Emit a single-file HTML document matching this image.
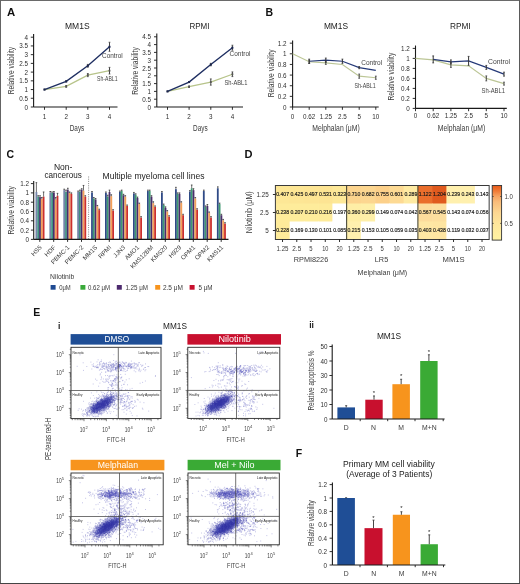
<!DOCTYPE html>
<html><head><meta charset="utf-8"><style>
html,body{margin:0;padding:0;background:#fff;}
#wrap{position:relative;width:520px;height:584px;overflow:hidden;background:#fff;}
svg{position:absolute;left:0;top:0;font-family:"Liberation Sans", sans-serif;will-change:transform;}
</style></head><body><div id="wrap">
<svg width="520" height="584" viewBox="0 0 520 584">
<rect x="0" y="0" width="520" height="584" fill="#fff"/>
<text x="6.90" y="16.00" font-size="10.5" fill="#111" textLength="8.2" lengthAdjust="spacingAndGlyphs" font-weight="bold">A</text>
<text x="265.60" y="16.20" font-size="10.5" fill="#111" font-weight="bold">B</text>
<text x="6.60" y="157.60" font-size="11.2" fill="#111" textLength="7.6" lengthAdjust="spacingAndGlyphs" font-weight="bold">C</text>
<text x="244.60" y="157.60" font-size="10.7" fill="#111" textLength="8.0" lengthAdjust="spacingAndGlyphs" font-weight="bold">D</text>
<text x="33.20" y="315.80" font-size="10.5" fill="#111" font-weight="bold">E</text>
<text x="295.80" y="456.90" font-size="10.5" fill="#111" font-weight="bold">F</text>
<text x="77.30" y="29.20" font-size="8.9" fill="#222" text-anchor="middle" textLength="24.6" lengthAdjust="spacingAndGlyphs">MM1S</text>
<line x1="33.60" y1="34.00" x2="33.60" y2="107.00" stroke="#1a1a1a" stroke-width="1.1"/>
<line x1="30.80" y1="107.00" x2="33.60" y2="107.00" stroke="#1a1a1a" stroke-width="0.9"/>
<text x="28.00" y="109.52" font-size="7.0" fill="#2e2e2e" text-anchor="end" textLength="3.5" lengthAdjust="spacingAndGlyphs">0</text>
<line x1="30.80" y1="98.28" x2="33.60" y2="98.28" stroke="#1a1a1a" stroke-width="0.9"/>
<text x="28.00" y="100.80" font-size="7.0" fill="#2e2e2e" text-anchor="end" textLength="8.76" lengthAdjust="spacingAndGlyphs">0.5</text>
<line x1="30.80" y1="89.55" x2="33.60" y2="89.55" stroke="#1a1a1a" stroke-width="0.9"/>
<text x="28.00" y="92.07" font-size="7.0" fill="#2e2e2e" text-anchor="end" textLength="3.5" lengthAdjust="spacingAndGlyphs">1</text>
<line x1="30.80" y1="80.83" x2="33.60" y2="80.83" stroke="#1a1a1a" stroke-width="0.9"/>
<text x="28.00" y="83.34" font-size="7.0" fill="#2e2e2e" text-anchor="end" textLength="8.76" lengthAdjust="spacingAndGlyphs">1.5</text>
<line x1="30.80" y1="72.10" x2="33.60" y2="72.10" stroke="#1a1a1a" stroke-width="0.9"/>
<text x="28.00" y="74.62" font-size="7.0" fill="#2e2e2e" text-anchor="end" textLength="3.5" lengthAdjust="spacingAndGlyphs">2</text>
<line x1="30.80" y1="63.38" x2="33.60" y2="63.38" stroke="#1a1a1a" stroke-width="0.9"/>
<text x="28.00" y="65.89" font-size="7.0" fill="#2e2e2e" text-anchor="end" textLength="8.76" lengthAdjust="spacingAndGlyphs">2.5</text>
<line x1="30.80" y1="54.65" x2="33.60" y2="54.65" stroke="#1a1a1a" stroke-width="0.9"/>
<text x="28.00" y="57.17" font-size="7.0" fill="#2e2e2e" text-anchor="end" textLength="3.5" lengthAdjust="spacingAndGlyphs">3</text>
<line x1="30.80" y1="45.93" x2="33.60" y2="45.93" stroke="#1a1a1a" stroke-width="0.9"/>
<text x="28.00" y="48.45" font-size="7.0" fill="#2e2e2e" text-anchor="end" textLength="8.76" lengthAdjust="spacingAndGlyphs">3.5</text>
<line x1="30.80" y1="37.20" x2="33.60" y2="37.20" stroke="#1a1a1a" stroke-width="0.9"/>
<text x="28.00" y="39.72" font-size="7.0" fill="#2e2e2e" text-anchor="end" textLength="3.5" lengthAdjust="spacingAndGlyphs">4</text>
<line x1="33.60" y1="107.00" x2="117.50" y2="107.00" stroke="#1a1a1a" stroke-width="1.1"/>
<line x1="44.50" y1="107.00" x2="44.50" y2="109.80" stroke="#1a1a1a" stroke-width="0.9"/>
<text x="44.50" y="118.80" font-size="7.0" fill="#2e2e2e" text-anchor="middle" textLength="3.5" lengthAdjust="spacingAndGlyphs">1</text>
<line x1="66.20" y1="107.00" x2="66.20" y2="109.80" stroke="#1a1a1a" stroke-width="0.9"/>
<text x="66.20" y="118.80" font-size="7.0" fill="#2e2e2e" text-anchor="middle" textLength="3.5" lengthAdjust="spacingAndGlyphs">2</text>
<line x1="87.80" y1="107.00" x2="87.80" y2="109.80" stroke="#1a1a1a" stroke-width="0.9"/>
<text x="87.80" y="118.80" font-size="7.0" fill="#2e2e2e" text-anchor="middle" textLength="3.5" lengthAdjust="spacingAndGlyphs">3</text>
<line x1="109.50" y1="107.00" x2="109.50" y2="109.80" stroke="#1a1a1a" stroke-width="0.9"/>
<text x="109.50" y="118.80" font-size="7.0" fill="#2e2e2e" text-anchor="middle" textLength="3.5" lengthAdjust="spacingAndGlyphs">4</text>
<text x="13.60" y="70.60" font-size="8.4" fill="#3a3a3a" text-anchor="middle" textLength="47.5" lengthAdjust="spacingAndGlyphs" transform="rotate(-90 13.60 70.60)">Relative viability</text>
<text x="77.00" y="131.00" font-size="9.6" fill="#3a3a3a" text-anchor="middle" textLength="14.6" lengthAdjust="spacingAndGlyphs">Days</text>
<polyline points="44.50,89.55 66.20,86.41 87.80,75.07 109.50,70.70" fill="none" stroke="#b7c48a" stroke-width="1.3"/>
<polyline points="44.50,89.55 66.20,81.35 87.80,65.82 109.50,46.80" fill="none" stroke="#1f2f62" stroke-width="1.4"/>
<rect x="43.60" y="88.65" width="1.80" height="1.80" fill="#555"/>
<line x1="66.20" y1="85.54" x2="66.20" y2="87.28" stroke="#444" stroke-width="1.0"/>
<line x1="65.30" y1="85.54" x2="67.10" y2="85.54" stroke="#444" stroke-width="0.8"/>
<line x1="65.30" y1="87.28" x2="67.10" y2="87.28" stroke="#444" stroke-width="0.8"/>
<rect x="65.30" y="85.51" width="1.80" height="1.80" fill="#555"/>
<line x1="87.80" y1="73.50" x2="87.80" y2="76.64" stroke="#444" stroke-width="1.0"/>
<line x1="86.90" y1="73.50" x2="88.70" y2="73.50" stroke="#444" stroke-width="0.8"/>
<line x1="86.90" y1="76.64" x2="88.70" y2="76.64" stroke="#444" stroke-width="0.8"/>
<rect x="86.90" y="74.17" width="1.80" height="1.80" fill="#555"/>
<line x1="109.50" y1="67.39" x2="109.50" y2="74.02" stroke="#444" stroke-width="1.0"/>
<line x1="108.60" y1="67.39" x2="110.40" y2="67.39" stroke="#444" stroke-width="0.8"/>
<line x1="108.60" y1="74.02" x2="110.40" y2="74.02" stroke="#444" stroke-width="0.8"/>
<rect x="108.60" y="69.80" width="1.80" height="1.80" fill="#555"/>
<rect x="43.50" y="88.55" width="2.00" height="2.00" fill="#1a2550"/>
<line x1="66.20" y1="80.65" x2="66.20" y2="82.05" stroke="#444" stroke-width="1.0"/>
<line x1="65.30" y1="80.65" x2="67.10" y2="80.65" stroke="#444" stroke-width="0.8"/>
<line x1="65.30" y1="82.05" x2="67.10" y2="82.05" stroke="#444" stroke-width="0.8"/>
<rect x="65.20" y="80.35" width="2.00" height="2.00" fill="#1a2550"/>
<line x1="87.80" y1="64.42" x2="87.80" y2="67.21" stroke="#444" stroke-width="1.0"/>
<line x1="86.90" y1="64.42" x2="88.70" y2="64.42" stroke="#444" stroke-width="0.8"/>
<line x1="86.90" y1="67.21" x2="88.70" y2="67.21" stroke="#444" stroke-width="0.8"/>
<rect x="86.80" y="64.82" width="2.00" height="2.00" fill="#1a2550"/>
<line x1="109.50" y1="42.26" x2="109.50" y2="51.33" stroke="#444" stroke-width="1.0"/>
<line x1="108.60" y1="42.26" x2="110.40" y2="42.26" stroke="#444" stroke-width="0.8"/>
<line x1="108.60" y1="51.33" x2="110.40" y2="51.33" stroke="#444" stroke-width="0.8"/>
<rect x="108.50" y="45.80" width="2.00" height="2.00" fill="#1a2550"/>
<text x="102.00" y="58.00" font-size="7.0" fill="#444" textLength="20.8" lengthAdjust="spacingAndGlyphs">Control</text>
<text x="97.00" y="80.60" font-size="7.0" fill="#444" textLength="20.5" lengthAdjust="spacingAndGlyphs">Sh-ABL1</text>
<text x="199.50" y="29.20" font-size="8.9" fill="#222" text-anchor="middle" textLength="20.0" lengthAdjust="spacingAndGlyphs">RPMI</text>
<line x1="156.80" y1="33.50" x2="156.80" y2="107.00" stroke="#1a1a1a" stroke-width="1.1"/>
<line x1="154.00" y1="107.00" x2="156.80" y2="107.00" stroke="#1a1a1a" stroke-width="0.9"/>
<text x="151.00" y="109.52" font-size="7.0" fill="#2e2e2e" text-anchor="end" textLength="3.5" lengthAdjust="spacingAndGlyphs">0</text>
<line x1="154.00" y1="99.20" x2="156.80" y2="99.20" stroke="#1a1a1a" stroke-width="0.9"/>
<text x="151.00" y="101.72" font-size="7.0" fill="#2e2e2e" text-anchor="end" textLength="8.76" lengthAdjust="spacingAndGlyphs">0.5</text>
<line x1="154.00" y1="91.40" x2="156.80" y2="91.40" stroke="#1a1a1a" stroke-width="0.9"/>
<text x="151.00" y="93.92" font-size="7.0" fill="#2e2e2e" text-anchor="end" textLength="3.5" lengthAdjust="spacingAndGlyphs">1</text>
<line x1="154.00" y1="83.60" x2="156.80" y2="83.60" stroke="#1a1a1a" stroke-width="0.9"/>
<text x="151.00" y="86.12" font-size="7.0" fill="#2e2e2e" text-anchor="end" textLength="8.76" lengthAdjust="spacingAndGlyphs">1.5</text>
<line x1="154.00" y1="75.80" x2="156.80" y2="75.80" stroke="#1a1a1a" stroke-width="0.9"/>
<text x="151.00" y="78.32" font-size="7.0" fill="#2e2e2e" text-anchor="end" textLength="3.5" lengthAdjust="spacingAndGlyphs">2</text>
<line x1="154.00" y1="68.00" x2="156.80" y2="68.00" stroke="#1a1a1a" stroke-width="0.9"/>
<text x="151.00" y="70.52" font-size="7.0" fill="#2e2e2e" text-anchor="end" textLength="8.76" lengthAdjust="spacingAndGlyphs">2.5</text>
<line x1="154.00" y1="60.20" x2="156.80" y2="60.20" stroke="#1a1a1a" stroke-width="0.9"/>
<text x="151.00" y="62.72" font-size="7.0" fill="#2e2e2e" text-anchor="end" textLength="3.5" lengthAdjust="spacingAndGlyphs">3</text>
<line x1="154.00" y1="52.40" x2="156.80" y2="52.40" stroke="#1a1a1a" stroke-width="0.9"/>
<text x="151.00" y="54.92" font-size="7.0" fill="#2e2e2e" text-anchor="end" textLength="8.76" lengthAdjust="spacingAndGlyphs">3.5</text>
<line x1="154.00" y1="44.60" x2="156.80" y2="44.60" stroke="#1a1a1a" stroke-width="0.9"/>
<text x="151.00" y="47.12" font-size="7.0" fill="#2e2e2e" text-anchor="end" textLength="3.5" lengthAdjust="spacingAndGlyphs">4</text>
<line x1="154.00" y1="36.80" x2="156.80" y2="36.80" stroke="#1a1a1a" stroke-width="0.9"/>
<text x="151.00" y="39.32" font-size="7.0" fill="#2e2e2e" text-anchor="end" textLength="8.76" lengthAdjust="spacingAndGlyphs">4.5</text>
<line x1="156.80" y1="107.00" x2="243.00" y2="107.00" stroke="#1a1a1a" stroke-width="1.1"/>
<line x1="167.50" y1="107.00" x2="167.50" y2="109.80" stroke="#1a1a1a" stroke-width="0.9"/>
<text x="167.50" y="118.80" font-size="7.0" fill="#2e2e2e" text-anchor="middle" textLength="3.5" lengthAdjust="spacingAndGlyphs">1</text>
<line x1="189.10" y1="107.00" x2="189.10" y2="109.80" stroke="#1a1a1a" stroke-width="0.9"/>
<text x="189.10" y="118.80" font-size="7.0" fill="#2e2e2e" text-anchor="middle" textLength="3.5" lengthAdjust="spacingAndGlyphs">2</text>
<line x1="210.80" y1="107.00" x2="210.80" y2="109.80" stroke="#1a1a1a" stroke-width="0.9"/>
<text x="210.80" y="118.80" font-size="7.0" fill="#2e2e2e" text-anchor="middle" textLength="3.5" lengthAdjust="spacingAndGlyphs">3</text>
<line x1="232.40" y1="107.00" x2="232.40" y2="109.80" stroke="#1a1a1a" stroke-width="0.9"/>
<text x="232.40" y="118.80" font-size="7.0" fill="#2e2e2e" text-anchor="middle" textLength="3.5" lengthAdjust="spacingAndGlyphs">4</text>
<text x="137.60" y="71.00" font-size="8.4" fill="#3a3a3a" text-anchor="middle" textLength="47.5" lengthAdjust="spacingAndGlyphs" transform="rotate(-90 137.60 71.00)">Relative viability</text>
<text x="200.30" y="131.00" font-size="9.6" fill="#3a3a3a" text-anchor="middle" textLength="14.6" lengthAdjust="spacingAndGlyphs">Days</text>
<polyline points="167.50,91.40 189.10,86.72 210.80,82.04 232.40,74.24" fill="none" stroke="#b7c48a" stroke-width="1.3"/>
<polyline points="167.50,91.40 189.10,82.04 210.80,64.57 232.40,47.72" fill="none" stroke="#1f2f62" stroke-width="1.4"/>
<rect x="166.60" y="90.50" width="1.80" height="1.80" fill="#555"/>
<line x1="189.10" y1="85.94" x2="189.10" y2="87.50" stroke="#444" stroke-width="1.0"/>
<line x1="188.20" y1="85.94" x2="190.00" y2="85.94" stroke="#444" stroke-width="0.8"/>
<line x1="188.20" y1="87.50" x2="190.00" y2="87.50" stroke="#444" stroke-width="0.8"/>
<rect x="188.20" y="85.82" width="1.80" height="1.80" fill="#555"/>
<line x1="210.80" y1="78.92" x2="210.80" y2="85.16" stroke="#444" stroke-width="1.0"/>
<line x1="209.90" y1="78.92" x2="211.70" y2="78.92" stroke="#444" stroke-width="0.8"/>
<line x1="209.90" y1="85.16" x2="211.70" y2="85.16" stroke="#444" stroke-width="0.8"/>
<rect x="209.90" y="81.14" width="1.80" height="1.80" fill="#555"/>
<line x1="232.40" y1="71.90" x2="232.40" y2="76.58" stroke="#444" stroke-width="1.0"/>
<line x1="231.50" y1="71.90" x2="233.30" y2="71.90" stroke="#444" stroke-width="0.8"/>
<line x1="231.50" y1="76.58" x2="233.30" y2="76.58" stroke="#444" stroke-width="0.8"/>
<rect x="231.50" y="73.34" width="1.80" height="1.80" fill="#555"/>
<rect x="166.50" y="90.40" width="2.00" height="2.00" fill="#1a2550"/>
<line x1="189.10" y1="81.57" x2="189.10" y2="82.51" stroke="#444" stroke-width="1.0"/>
<line x1="188.20" y1="81.57" x2="190.00" y2="81.57" stroke="#444" stroke-width="0.8"/>
<line x1="188.20" y1="82.51" x2="190.00" y2="82.51" stroke="#444" stroke-width="0.8"/>
<rect x="188.10" y="81.04" width="2.00" height="2.00" fill="#1a2550"/>
<line x1="210.80" y1="63.32" x2="210.80" y2="65.82" stroke="#444" stroke-width="1.0"/>
<line x1="209.90" y1="63.32" x2="211.70" y2="63.32" stroke="#444" stroke-width="0.8"/>
<line x1="209.90" y1="65.82" x2="211.70" y2="65.82" stroke="#444" stroke-width="0.8"/>
<rect x="209.80" y="63.57" width="2.00" height="2.00" fill="#1a2550"/>
<line x1="232.40" y1="45.22" x2="232.40" y2="50.22" stroke="#444" stroke-width="1.0"/>
<line x1="231.50" y1="45.22" x2="233.30" y2="45.22" stroke="#444" stroke-width="0.8"/>
<line x1="231.50" y1="50.22" x2="233.30" y2="50.22" stroke="#444" stroke-width="0.8"/>
<rect x="231.40" y="46.72" width="2.00" height="2.00" fill="#1a2550"/>
<text x="229.50" y="56.20" font-size="7.0" fill="#444" textLength="21.0" lengthAdjust="spacingAndGlyphs">Control</text>
<text x="224.50" y="84.60" font-size="7.0" fill="#444" textLength="23.0" lengthAdjust="spacingAndGlyphs">Sh-ABL1</text>
<text x="336.00" y="29.20" font-size="8.9" fill="#222" text-anchor="middle" textLength="24.2" lengthAdjust="spacingAndGlyphs">MM1S</text>
<line x1="292.60" y1="40.40" x2="292.60" y2="107.00" stroke="#1a1a1a" stroke-width="1.1"/>
<line x1="289.80" y1="107.00" x2="292.60" y2="107.00" stroke="#1a1a1a" stroke-width="0.9"/>
<text x="286.40" y="109.52" font-size="7.0" fill="#2e2e2e" text-anchor="end" textLength="3.5" lengthAdjust="spacingAndGlyphs">0</text>
<line x1="289.80" y1="96.36" x2="292.60" y2="96.36" stroke="#1a1a1a" stroke-width="0.9"/>
<text x="286.40" y="98.88" font-size="7.0" fill="#2e2e2e" text-anchor="end" textLength="8.76" lengthAdjust="spacingAndGlyphs">0.2</text>
<line x1="289.80" y1="85.72" x2="292.60" y2="85.72" stroke="#1a1a1a" stroke-width="0.9"/>
<text x="286.40" y="88.24" font-size="7.0" fill="#2e2e2e" text-anchor="end" textLength="8.76" lengthAdjust="spacingAndGlyphs">0.4</text>
<line x1="289.80" y1="75.08" x2="292.60" y2="75.08" stroke="#1a1a1a" stroke-width="0.9"/>
<text x="286.40" y="77.60" font-size="7.0" fill="#2e2e2e" text-anchor="end" textLength="8.76" lengthAdjust="spacingAndGlyphs">0.6</text>
<line x1="289.80" y1="64.44" x2="292.60" y2="64.44" stroke="#1a1a1a" stroke-width="0.9"/>
<text x="286.40" y="66.96" font-size="7.0" fill="#2e2e2e" text-anchor="end" textLength="8.76" lengthAdjust="spacingAndGlyphs">0.8</text>
<line x1="289.80" y1="53.80" x2="292.60" y2="53.80" stroke="#1a1a1a" stroke-width="0.9"/>
<text x="286.40" y="56.32" font-size="7.0" fill="#2e2e2e" text-anchor="end" textLength="3.5" lengthAdjust="spacingAndGlyphs">1</text>
<line x1="289.80" y1="43.16" x2="292.60" y2="43.16" stroke="#1a1a1a" stroke-width="0.9"/>
<text x="286.40" y="45.68" font-size="7.0" fill="#2e2e2e" text-anchor="end" textLength="8.76" lengthAdjust="spacingAndGlyphs">1.2</text>
<line x1="292.60" y1="107.00" x2="378.70" y2="107.00" stroke="#1a1a1a" stroke-width="1.1"/>
<line x1="292.60" y1="107.00" x2="292.60" y2="109.80" stroke="#1a1a1a" stroke-width="0.9"/>
<text x="292.60" y="119.20" font-size="7.0" fill="#2e2e2e" text-anchor="middle" textLength="3.5" lengthAdjust="spacingAndGlyphs">0</text>
<line x1="309.20" y1="107.00" x2="309.20" y2="109.80" stroke="#1a1a1a" stroke-width="0.9"/>
<text x="309.20" y="119.20" font-size="7.0" fill="#2e2e2e" text-anchor="middle" textLength="12.26" lengthAdjust="spacingAndGlyphs">0.62</text>
<line x1="325.80" y1="107.00" x2="325.80" y2="109.80" stroke="#1a1a1a" stroke-width="0.9"/>
<text x="325.80" y="119.20" font-size="7.0" fill="#2e2e2e" text-anchor="middle" textLength="12.26" lengthAdjust="spacingAndGlyphs">1.25</text>
<line x1="342.40" y1="107.00" x2="342.40" y2="109.80" stroke="#1a1a1a" stroke-width="0.9"/>
<text x="342.40" y="119.20" font-size="7.0" fill="#2e2e2e" text-anchor="middle" textLength="8.76" lengthAdjust="spacingAndGlyphs">2.5</text>
<line x1="359.20" y1="107.00" x2="359.20" y2="109.80" stroke="#1a1a1a" stroke-width="0.9"/>
<text x="359.20" y="119.20" font-size="7.0" fill="#2e2e2e" text-anchor="middle" textLength="3.5" lengthAdjust="spacingAndGlyphs">5</text>
<line x1="375.80" y1="107.00" x2="375.80" y2="109.80" stroke="#1a1a1a" stroke-width="0.9"/>
<text x="375.80" y="119.20" font-size="7.0" fill="#2e2e2e" text-anchor="middle" textLength="7.01" lengthAdjust="spacingAndGlyphs">10</text>
<text x="273.60" y="73.40" font-size="8.4" fill="#3a3a3a" text-anchor="middle" textLength="47.8" lengthAdjust="spacingAndGlyphs" transform="rotate(-90 273.60 73.40)">Relative viability</text>
<text x="336.00" y="131.00" font-size="9.0" fill="#3a3a3a" text-anchor="middle" textLength="47.5" lengthAdjust="spacingAndGlyphs">Melphalan (μM)</text>
<polyline points="292.60,53.80 309.20,61.78 325.80,62.84 342.40,64.44 359.20,76.14 375.80,77.74" fill="none" stroke="#bcc696" stroke-width="1.15"/>
<polyline points="309.20,61.25 325.80,60.18 342.40,61.25 359.20,67.63 375.80,70.29" fill="none" stroke="#263a78" stroke-width="1.25"/>
<line x1="309.20" y1="60.18" x2="309.20" y2="63.38" stroke="#444" stroke-width="1.0"/>
<line x1="308.30" y1="60.18" x2="310.10" y2="60.18" stroke="#444" stroke-width="0.8"/>
<line x1="308.30" y1="63.38" x2="310.10" y2="63.38" stroke="#444" stroke-width="0.8"/>
<line x1="325.80" y1="61.25" x2="325.80" y2="64.44" stroke="#444" stroke-width="1.0"/>
<line x1="324.90" y1="61.25" x2="326.70" y2="61.25" stroke="#444" stroke-width="0.8"/>
<line x1="324.90" y1="64.44" x2="326.70" y2="64.44" stroke="#444" stroke-width="0.8"/>
<line x1="359.20" y1="74.02" x2="359.20" y2="78.27" stroke="#444" stroke-width="1.0"/>
<line x1="358.30" y1="74.02" x2="360.10" y2="74.02" stroke="#444" stroke-width="0.8"/>
<line x1="358.30" y1="78.27" x2="360.10" y2="78.27" stroke="#444" stroke-width="0.8"/>
<line x1="375.80" y1="76.14" x2="375.80" y2="79.34" stroke="#444" stroke-width="1.0"/>
<line x1="374.90" y1="76.14" x2="376.70" y2="76.14" stroke="#444" stroke-width="0.8"/>
<line x1="374.90" y1="79.34" x2="376.70" y2="79.34" stroke="#444" stroke-width="0.8"/>
<line x1="309.20" y1="59.12" x2="309.20" y2="63.38" stroke="#333" stroke-width="1.0"/>
<line x1="308.30" y1="59.12" x2="310.10" y2="59.12" stroke="#333" stroke-width="0.8"/>
<line x1="308.30" y1="63.38" x2="310.10" y2="63.38" stroke="#333" stroke-width="0.8"/>
<line x1="325.80" y1="58.06" x2="325.80" y2="62.31" stroke="#333" stroke-width="1.0"/>
<line x1="324.90" y1="58.06" x2="326.70" y2="58.06" stroke="#333" stroke-width="0.8"/>
<line x1="324.90" y1="62.31" x2="326.70" y2="62.31" stroke="#333" stroke-width="0.8"/>
<line x1="342.40" y1="59.12" x2="342.40" y2="63.38" stroke="#333" stroke-width="1.0"/>
<line x1="341.50" y1="59.12" x2="343.30" y2="59.12" stroke="#333" stroke-width="0.8"/>
<line x1="341.50" y1="63.38" x2="343.30" y2="63.38" stroke="#333" stroke-width="0.8"/>
<line x1="359.20" y1="66.57" x2="359.20" y2="68.70" stroke="#333" stroke-width="1.0"/>
<line x1="358.30" y1="66.57" x2="360.10" y2="66.57" stroke="#333" stroke-width="0.8"/>
<line x1="358.30" y1="68.70" x2="360.10" y2="68.70" stroke="#333" stroke-width="0.8"/>
<text x="361.20" y="64.60" font-size="7.0" fill="#444" textLength="21.0" lengthAdjust="spacingAndGlyphs">Control</text>
<text x="354.40" y="88.20" font-size="7.0" fill="#444" textLength="21.2" lengthAdjust="spacingAndGlyphs">Sh-ABL1</text>
<text x="460.30" y="29.20" font-size="8.9" fill="#222" text-anchor="middle" textLength="20.7" lengthAdjust="spacingAndGlyphs">RPMI</text>
<line x1="415.50" y1="45.50" x2="415.50" y2="108.40" stroke="#1a1a1a" stroke-width="1.1"/>
<line x1="412.70" y1="108.40" x2="415.50" y2="108.40" stroke="#1a1a1a" stroke-width="0.9"/>
<text x="409.80" y="110.92" font-size="7.0" fill="#2e2e2e" text-anchor="end" textLength="3.5" lengthAdjust="spacingAndGlyphs">0</text>
<line x1="412.70" y1="98.40" x2="415.50" y2="98.40" stroke="#1a1a1a" stroke-width="0.9"/>
<text x="409.80" y="100.92" font-size="7.0" fill="#2e2e2e" text-anchor="end" textLength="8.76" lengthAdjust="spacingAndGlyphs">0.2</text>
<line x1="412.70" y1="88.40" x2="415.50" y2="88.40" stroke="#1a1a1a" stroke-width="0.9"/>
<text x="409.80" y="90.92" font-size="7.0" fill="#2e2e2e" text-anchor="end" textLength="8.76" lengthAdjust="spacingAndGlyphs">0.4</text>
<line x1="412.70" y1="78.40" x2="415.50" y2="78.40" stroke="#1a1a1a" stroke-width="0.9"/>
<text x="409.80" y="80.92" font-size="7.0" fill="#2e2e2e" text-anchor="end" textLength="8.76" lengthAdjust="spacingAndGlyphs">0.6</text>
<line x1="412.70" y1="68.40" x2="415.50" y2="68.40" stroke="#1a1a1a" stroke-width="0.9"/>
<text x="409.80" y="70.92" font-size="7.0" fill="#2e2e2e" text-anchor="end" textLength="8.76" lengthAdjust="spacingAndGlyphs">0.8</text>
<line x1="412.70" y1="58.40" x2="415.50" y2="58.40" stroke="#1a1a1a" stroke-width="0.9"/>
<text x="409.80" y="60.92" font-size="7.0" fill="#2e2e2e" text-anchor="end" textLength="3.5" lengthAdjust="spacingAndGlyphs">1</text>
<line x1="412.70" y1="48.40" x2="415.50" y2="48.40" stroke="#1a1a1a" stroke-width="0.9"/>
<text x="409.80" y="50.92" font-size="7.0" fill="#2e2e2e" text-anchor="end" textLength="8.76" lengthAdjust="spacingAndGlyphs">1.2</text>
<line x1="415.50" y1="108.40" x2="506.80" y2="108.40" stroke="#1a1a1a" stroke-width="1.1"/>
<line x1="415.50" y1="108.40" x2="415.50" y2="111.20" stroke="#1a1a1a" stroke-width="0.9"/>
<text x="415.50" y="118.40" font-size="7.0" fill="#2e2e2e" text-anchor="middle" textLength="3.5" lengthAdjust="spacingAndGlyphs">0</text>
<line x1="433.20" y1="108.40" x2="433.20" y2="111.20" stroke="#1a1a1a" stroke-width="0.9"/>
<text x="433.20" y="118.40" font-size="7.0" fill="#2e2e2e" text-anchor="middle" textLength="12.26" lengthAdjust="spacingAndGlyphs">0.62</text>
<line x1="450.90" y1="108.40" x2="450.90" y2="111.20" stroke="#1a1a1a" stroke-width="0.9"/>
<text x="450.90" y="118.40" font-size="7.0" fill="#2e2e2e" text-anchor="middle" textLength="12.26" lengthAdjust="spacingAndGlyphs">1.25</text>
<line x1="468.60" y1="108.40" x2="468.60" y2="111.20" stroke="#1a1a1a" stroke-width="0.9"/>
<text x="468.60" y="118.40" font-size="7.0" fill="#2e2e2e" text-anchor="middle" textLength="8.76" lengthAdjust="spacingAndGlyphs">2.5</text>
<line x1="486.30" y1="108.40" x2="486.30" y2="111.20" stroke="#1a1a1a" stroke-width="0.9"/>
<text x="486.30" y="118.40" font-size="7.0" fill="#2e2e2e" text-anchor="middle" textLength="3.5" lengthAdjust="spacingAndGlyphs">5</text>
<line x1="504.00" y1="108.40" x2="504.00" y2="111.20" stroke="#1a1a1a" stroke-width="0.9"/>
<text x="504.00" y="118.40" font-size="7.0" fill="#2e2e2e" text-anchor="middle" textLength="7.01" lengthAdjust="spacingAndGlyphs">10</text>
<text x="394.40" y="76.60" font-size="8.4" fill="#3a3a3a" text-anchor="middle" textLength="47.8" lengthAdjust="spacingAndGlyphs" transform="rotate(-90 394.40 76.60)">Relative viability</text>
<text x="461.50" y="131.00" font-size="9.0" fill="#3a3a3a" text-anchor="middle" textLength="47.5" lengthAdjust="spacingAndGlyphs">Melphalan (μM)</text>
<polyline points="415.50,58.40 433.20,59.90 450.90,64.90 468.60,65.90 486.30,78.40 504.00,83.65" fill="none" stroke="#bcc696" stroke-width="1.15"/>
<polyline points="433.20,59.40 450.90,61.90 468.60,60.90 486.30,67.40 504.00,74.15" fill="none" stroke="#263a78" stroke-width="1.25"/>
<line x1="450.90" y1="62.40" x2="450.90" y2="67.40" stroke="#444" stroke-width="1.0"/>
<line x1="450.00" y1="62.40" x2="451.80" y2="62.40" stroke="#444" stroke-width="0.8"/>
<line x1="450.00" y1="67.40" x2="451.80" y2="67.40" stroke="#444" stroke-width="0.8"/>
<line x1="486.30" y1="75.90" x2="486.30" y2="80.90" stroke="#444" stroke-width="1.0"/>
<line x1="485.40" y1="75.90" x2="487.20" y2="75.90" stroke="#444" stroke-width="0.8"/>
<line x1="485.40" y1="80.90" x2="487.20" y2="80.90" stroke="#444" stroke-width="0.8"/>
<line x1="504.00" y1="82.15" x2="504.00" y2="85.15" stroke="#444" stroke-width="1.0"/>
<line x1="503.10" y1="82.15" x2="504.90" y2="82.15" stroke="#444" stroke-width="0.8"/>
<line x1="503.10" y1="85.15" x2="504.90" y2="85.15" stroke="#444" stroke-width="0.8"/>
<line x1="433.20" y1="55.90" x2="433.20" y2="62.90" stroke="#333" stroke-width="1.0"/>
<line x1="432.30" y1="55.90" x2="434.10" y2="55.90" stroke="#333" stroke-width="0.8"/>
<line x1="432.30" y1="62.90" x2="434.10" y2="62.90" stroke="#333" stroke-width="0.8"/>
<line x1="450.90" y1="59.90" x2="450.90" y2="63.90" stroke="#333" stroke-width="1.0"/>
<line x1="450.00" y1="59.90" x2="451.80" y2="59.90" stroke="#333" stroke-width="0.8"/>
<line x1="450.00" y1="63.90" x2="451.80" y2="63.90" stroke="#333" stroke-width="0.8"/>
<line x1="468.60" y1="56.40" x2="468.60" y2="65.40" stroke="#333" stroke-width="1.0"/>
<line x1="467.70" y1="56.40" x2="469.50" y2="56.40" stroke="#333" stroke-width="0.8"/>
<line x1="467.70" y1="65.40" x2="469.50" y2="65.40" stroke="#333" stroke-width="0.8"/>
<line x1="486.30" y1="65.40" x2="486.30" y2="69.40" stroke="#333" stroke-width="1.0"/>
<line x1="485.40" y1="65.40" x2="487.20" y2="65.40" stroke="#333" stroke-width="0.8"/>
<line x1="485.40" y1="69.40" x2="487.20" y2="69.40" stroke="#333" stroke-width="0.8"/>
<line x1="504.00" y1="72.15" x2="504.00" y2="76.15" stroke="#333" stroke-width="1.0"/>
<line x1="503.10" y1="72.15" x2="504.90" y2="72.15" stroke="#333" stroke-width="0.8"/>
<line x1="503.10" y1="76.15" x2="504.90" y2="76.15" stroke="#333" stroke-width="0.8"/>
<text x="488.00" y="64.20" font-size="7.0" fill="#444" textLength="22.0" lengthAdjust="spacingAndGlyphs">Control</text>
<text x="481.50" y="92.80" font-size="7.0" fill="#444" textLength="23.5" lengthAdjust="spacingAndGlyphs">Sh-ABL1</text>
<rect x="35.50" y="191.97" width="1.80" height="47.43" fill="#7585aa"/>
<rect x="37.30" y="196.62" width="1.80" height="42.78" fill="#3f8f80"/>
<rect x="39.10" y="197.09" width="1.80" height="42.31" fill="#4a2d6a"/>
<rect x="40.90" y="198.94" width="1.80" height="40.46" fill="#f4a15a"/>
<rect x="42.70" y="196.62" width="1.80" height="42.78" fill="#cc2f2c"/>
<line x1="36.40" y1="182.67" x2="36.40" y2="191.97" stroke="#333" stroke-width="0.7"/>
<line x1="35.60" y1="182.67" x2="37.20" y2="182.67" stroke="#333" stroke-width="0.8"/>
<line x1="38.20" y1="195.69" x2="38.20" y2="196.62" stroke="#333" stroke-width="0.7"/>
<line x1="37.40" y1="195.69" x2="39.00" y2="195.69" stroke="#333" stroke-width="0.8"/>
<line x1="40.00" y1="195.69" x2="40.00" y2="197.09" stroke="#333" stroke-width="0.7"/>
<line x1="39.20" y1="195.69" x2="40.80" y2="195.69" stroke="#333" stroke-width="0.8"/>
<line x1="41.80" y1="197.55" x2="41.80" y2="198.94" stroke="#333" stroke-width="0.7"/>
<line x1="41.00" y1="197.55" x2="42.60" y2="197.55" stroke="#333" stroke-width="0.8"/>
<line x1="43.60" y1="191.97" x2="43.60" y2="196.62" stroke="#333" stroke-width="0.7"/>
<line x1="42.80" y1="191.97" x2="44.40" y2="191.97" stroke="#333" stroke-width="0.8"/>
<rect x="49.40" y="192.44" width="1.80" height="46.97" fill="#7585aa"/>
<rect x="51.20" y="192.90" width="1.80" height="46.50" fill="#3f8f80"/>
<rect x="53.00" y="192.44" width="1.80" height="46.97" fill="#4a2d6a"/>
<rect x="54.80" y="199.41" width="1.80" height="39.99" fill="#f4a15a"/>
<rect x="56.60" y="195.69" width="1.80" height="43.71" fill="#cc2f2c"/>
<line x1="50.30" y1="191.50" x2="50.30" y2="192.44" stroke="#333" stroke-width="0.7"/>
<line x1="49.50" y1="191.50" x2="51.10" y2="191.50" stroke="#333" stroke-width="0.8"/>
<line x1="52.10" y1="191.97" x2="52.10" y2="192.90" stroke="#333" stroke-width="0.7"/>
<line x1="51.30" y1="191.97" x2="52.90" y2="191.97" stroke="#333" stroke-width="0.8"/>
<line x1="53.90" y1="191.50" x2="53.90" y2="192.44" stroke="#333" stroke-width="0.7"/>
<line x1="53.10" y1="191.50" x2="54.70" y2="191.50" stroke="#333" stroke-width="0.8"/>
<line x1="55.70" y1="197.55" x2="55.70" y2="199.41" stroke="#333" stroke-width="0.7"/>
<line x1="54.90" y1="197.55" x2="56.50" y2="197.55" stroke="#333" stroke-width="0.8"/>
<line x1="57.50" y1="193.37" x2="57.50" y2="195.69" stroke="#333" stroke-width="0.7"/>
<line x1="56.70" y1="193.37" x2="58.30" y2="193.37" stroke="#333" stroke-width="0.8"/>
<rect x="63.30" y="190.11" width="1.80" height="49.29" fill="#7585aa"/>
<rect x="65.10" y="191.97" width="1.80" height="47.43" fill="#3f8f80"/>
<rect x="66.90" y="189.65" width="1.80" height="49.75" fill="#4a2d6a"/>
<rect x="68.70" y="192.90" width="1.80" height="46.50" fill="#f4a15a"/>
<rect x="70.50" y="193.83" width="1.80" height="45.57" fill="#cc2f2c"/>
<line x1="64.20" y1="189.18" x2="64.20" y2="190.11" stroke="#333" stroke-width="0.7"/>
<line x1="63.40" y1="189.18" x2="65.00" y2="189.18" stroke="#333" stroke-width="0.8"/>
<line x1="66.00" y1="190.11" x2="66.00" y2="191.97" stroke="#333" stroke-width="0.7"/>
<line x1="65.20" y1="190.11" x2="66.80" y2="190.11" stroke="#333" stroke-width="0.8"/>
<line x1="67.80" y1="188.25" x2="67.80" y2="189.65" stroke="#333" stroke-width="0.7"/>
<line x1="67.00" y1="188.25" x2="68.60" y2="188.25" stroke="#333" stroke-width="0.8"/>
<line x1="69.60" y1="191.97" x2="69.60" y2="192.90" stroke="#333" stroke-width="0.7"/>
<line x1="68.80" y1="191.97" x2="70.40" y2="191.97" stroke="#333" stroke-width="0.8"/>
<line x1="71.40" y1="192.90" x2="71.40" y2="193.83" stroke="#333" stroke-width="0.7"/>
<line x1="70.60" y1="192.90" x2="72.20" y2="192.90" stroke="#333" stroke-width="0.8"/>
<rect x="77.20" y="191.97" width="1.80" height="47.43" fill="#7585aa"/>
<rect x="79.00" y="191.50" width="1.80" height="47.90" fill="#3f8f80"/>
<rect x="80.80" y="189.65" width="1.80" height="49.75" fill="#4a2d6a"/>
<rect x="82.60" y="190.57" width="1.80" height="48.83" fill="#f4a15a"/>
<rect x="84.40" y="196.62" width="1.80" height="42.78" fill="#cc2f2c"/>
<line x1="78.10" y1="191.04" x2="78.10" y2="191.97" stroke="#333" stroke-width="0.7"/>
<line x1="77.30" y1="191.04" x2="78.90" y2="191.04" stroke="#333" stroke-width="0.8"/>
<line x1="79.90" y1="190.11" x2="79.90" y2="191.50" stroke="#333" stroke-width="0.7"/>
<line x1="79.10" y1="190.11" x2="80.70" y2="190.11" stroke="#333" stroke-width="0.8"/>
<line x1="81.70" y1="188.72" x2="81.70" y2="189.65" stroke="#333" stroke-width="0.7"/>
<line x1="80.90" y1="188.72" x2="82.50" y2="188.72" stroke="#333" stroke-width="0.8"/>
<line x1="83.50" y1="185.46" x2="83.50" y2="190.57" stroke="#333" stroke-width="0.7"/>
<line x1="82.70" y1="185.46" x2="84.30" y2="185.46" stroke="#333" stroke-width="0.8"/>
<line x1="85.30" y1="195.69" x2="85.30" y2="196.62" stroke="#333" stroke-width="0.7"/>
<line x1="84.50" y1="195.69" x2="86.10" y2="195.69" stroke="#333" stroke-width="0.8"/>
<rect x="91.10" y="192.44" width="1.80" height="46.97" fill="#2f4a86"/>
<rect x="92.90" y="198.48" width="1.80" height="40.92" fill="#3e9a72"/>
<rect x="94.70" y="199.41" width="1.80" height="39.99" fill="#4a2d6a"/>
<rect x="96.50" y="206.38" width="1.80" height="33.02" fill="#f4a15a"/>
<rect x="98.30" y="210.11" width="1.80" height="29.29" fill="#cc2f2c"/>
<line x1="92.00" y1="191.50" x2="92.00" y2="192.44" stroke="#333" stroke-width="0.7"/>
<line x1="91.20" y1="191.50" x2="92.80" y2="191.50" stroke="#333" stroke-width="0.8"/>
<line x1="93.80" y1="197.55" x2="93.80" y2="198.48" stroke="#333" stroke-width="0.7"/>
<line x1="93.00" y1="197.55" x2="94.60" y2="197.55" stroke="#333" stroke-width="0.8"/>
<line x1="95.60" y1="198.48" x2="95.60" y2="199.41" stroke="#333" stroke-width="0.7"/>
<line x1="94.80" y1="198.48" x2="96.40" y2="198.48" stroke="#333" stroke-width="0.8"/>
<line x1="97.40" y1="205.45" x2="97.40" y2="206.38" stroke="#333" stroke-width="0.7"/>
<line x1="96.60" y1="205.45" x2="98.20" y2="205.45" stroke="#333" stroke-width="0.8"/>
<line x1="99.20" y1="209.18" x2="99.20" y2="210.11" stroke="#333" stroke-width="0.7"/>
<line x1="98.40" y1="209.18" x2="100.00" y2="209.18" stroke="#333" stroke-width="0.8"/>
<rect x="105.00" y="192.90" width="1.80" height="46.50" fill="#2f4a86"/>
<rect x="106.80" y="196.62" width="1.80" height="42.78" fill="#3e9a72"/>
<rect x="108.60" y="191.97" width="1.80" height="47.43" fill="#4a2d6a"/>
<rect x="110.40" y="196.16" width="1.80" height="43.25" fill="#f4a15a"/>
<rect x="112.20" y="210.57" width="1.80" height="28.83" fill="#cc2f2c"/>
<line x1="105.90" y1="191.97" x2="105.90" y2="192.90" stroke="#333" stroke-width="0.7"/>
<line x1="105.10" y1="191.97" x2="106.70" y2="191.97" stroke="#333" stroke-width="0.8"/>
<line x1="107.70" y1="195.22" x2="107.70" y2="196.62" stroke="#333" stroke-width="0.7"/>
<line x1="106.90" y1="195.22" x2="108.50" y2="195.22" stroke="#333" stroke-width="0.8"/>
<line x1="109.50" y1="190.11" x2="109.50" y2="191.97" stroke="#333" stroke-width="0.7"/>
<line x1="108.70" y1="190.11" x2="110.30" y2="190.11" stroke="#333" stroke-width="0.8"/>
<line x1="111.30" y1="194.76" x2="111.30" y2="196.16" stroke="#333" stroke-width="0.7"/>
<line x1="110.50" y1="194.76" x2="112.10" y2="194.76" stroke="#333" stroke-width="0.8"/>
<line x1="113.10" y1="209.64" x2="113.10" y2="210.57" stroke="#333" stroke-width="0.7"/>
<line x1="112.30" y1="209.64" x2="113.90" y2="209.64" stroke="#333" stroke-width="0.8"/>
<rect x="119.00" y="191.97" width="1.80" height="47.43" fill="#2f4a86"/>
<rect x="120.80" y="191.04" width="1.80" height="48.36" fill="#3e9a72"/>
<rect x="122.60" y="195.23" width="1.80" height="44.17" fill="#4a2d6a"/>
<rect x="124.40" y="196.62" width="1.80" height="42.78" fill="#f4a15a"/>
<rect x="126.20" y="205.92" width="1.80" height="33.48" fill="#cc2f2c"/>
<line x1="119.90" y1="191.04" x2="119.90" y2="191.97" stroke="#333" stroke-width="0.7"/>
<line x1="119.10" y1="191.04" x2="120.70" y2="191.04" stroke="#333" stroke-width="0.8"/>
<line x1="121.70" y1="190.11" x2="121.70" y2="191.04" stroke="#333" stroke-width="0.7"/>
<line x1="120.90" y1="190.11" x2="122.50" y2="190.11" stroke="#333" stroke-width="0.8"/>
<line x1="123.50" y1="194.30" x2="123.50" y2="195.23" stroke="#333" stroke-width="0.7"/>
<line x1="122.70" y1="194.30" x2="124.30" y2="194.30" stroke="#333" stroke-width="0.8"/>
<line x1="125.30" y1="195.69" x2="125.30" y2="196.62" stroke="#333" stroke-width="0.7"/>
<line x1="124.50" y1="195.69" x2="126.10" y2="195.69" stroke="#333" stroke-width="0.8"/>
<line x1="127.10" y1="204.99" x2="127.10" y2="205.92" stroke="#333" stroke-width="0.7"/>
<line x1="126.30" y1="204.99" x2="127.90" y2="204.99" stroke="#333" stroke-width="0.8"/>
<rect x="133.00" y="193.37" width="1.80" height="46.03" fill="#2f4a86"/>
<rect x="134.80" y="194.76" width="1.80" height="44.64" fill="#3e9a72"/>
<rect x="136.60" y="198.02" width="1.80" height="41.38" fill="#4a2d6a"/>
<rect x="138.40" y="204.06" width="1.80" height="35.34" fill="#f4a15a"/>
<rect x="140.20" y="217.55" width="1.80" height="21.85" fill="#cc2f2c"/>
<line x1="133.90" y1="192.44" x2="133.90" y2="193.37" stroke="#333" stroke-width="0.7"/>
<line x1="133.10" y1="192.44" x2="134.70" y2="192.44" stroke="#333" stroke-width="0.8"/>
<line x1="135.70" y1="193.83" x2="135.70" y2="194.76" stroke="#333" stroke-width="0.7"/>
<line x1="134.90" y1="193.83" x2="136.50" y2="193.83" stroke="#333" stroke-width="0.8"/>
<line x1="137.50" y1="197.09" x2="137.50" y2="198.02" stroke="#333" stroke-width="0.7"/>
<line x1="136.70" y1="197.09" x2="138.30" y2="197.09" stroke="#333" stroke-width="0.8"/>
<line x1="139.30" y1="203.13" x2="139.30" y2="204.06" stroke="#333" stroke-width="0.7"/>
<line x1="138.50" y1="203.13" x2="140.10" y2="203.13" stroke="#333" stroke-width="0.8"/>
<line x1="141.10" y1="216.62" x2="141.10" y2="217.55" stroke="#333" stroke-width="0.7"/>
<line x1="140.30" y1="216.62" x2="141.90" y2="216.62" stroke="#333" stroke-width="0.8"/>
<rect x="147.00" y="191.04" width="1.80" height="48.36" fill="#2f4a86"/>
<rect x="148.80" y="191.04" width="1.80" height="48.36" fill="#3e9a72"/>
<rect x="150.60" y="196.62" width="1.80" height="42.78" fill="#4a2d6a"/>
<rect x="152.40" y="203.13" width="1.80" height="36.27" fill="#f4a15a"/>
<rect x="154.20" y="206.85" width="1.80" height="32.55" fill="#cc2f2c"/>
<line x1="147.90" y1="190.11" x2="147.90" y2="191.04" stroke="#333" stroke-width="0.7"/>
<line x1="147.10" y1="190.11" x2="148.70" y2="190.11" stroke="#333" stroke-width="0.8"/>
<line x1="149.70" y1="190.11" x2="149.70" y2="191.04" stroke="#333" stroke-width="0.7"/>
<line x1="148.90" y1="190.11" x2="150.50" y2="190.11" stroke="#333" stroke-width="0.8"/>
<line x1="151.50" y1="195.69" x2="151.50" y2="196.62" stroke="#333" stroke-width="0.7"/>
<line x1="150.70" y1="195.69" x2="152.30" y2="195.69" stroke="#333" stroke-width="0.8"/>
<line x1="153.30" y1="201.73" x2="153.30" y2="203.13" stroke="#333" stroke-width="0.7"/>
<line x1="152.50" y1="201.73" x2="154.10" y2="201.73" stroke="#333" stroke-width="0.8"/>
<line x1="155.10" y1="205.92" x2="155.10" y2="206.85" stroke="#333" stroke-width="0.7"/>
<line x1="154.30" y1="205.92" x2="155.90" y2="205.92" stroke="#333" stroke-width="0.8"/>
<rect x="161.00" y="192.44" width="1.80" height="46.97" fill="#2f4a86"/>
<rect x="162.80" y="204.99" width="1.80" height="34.41" fill="#3e9a72"/>
<rect x="164.60" y="207.78" width="1.80" height="31.62" fill="#4a2d6a"/>
<rect x="166.40" y="211.50" width="1.80" height="27.90" fill="#f4a15a"/>
<rect x="168.20" y="216.62" width="1.80" height="22.78" fill="#cc2f2c"/>
<line x1="161.90" y1="191.50" x2="161.90" y2="192.44" stroke="#333" stroke-width="0.7"/>
<line x1="161.10" y1="191.50" x2="162.70" y2="191.50" stroke="#333" stroke-width="0.8"/>
<line x1="163.70" y1="204.06" x2="163.70" y2="204.99" stroke="#333" stroke-width="0.7"/>
<line x1="162.90" y1="204.06" x2="164.50" y2="204.06" stroke="#333" stroke-width="0.8"/>
<line x1="165.50" y1="206.85" x2="165.50" y2="207.78" stroke="#333" stroke-width="0.7"/>
<line x1="164.70" y1="206.85" x2="166.30" y2="206.85" stroke="#333" stroke-width="0.8"/>
<line x1="167.30" y1="210.57" x2="167.30" y2="211.50" stroke="#333" stroke-width="0.7"/>
<line x1="166.50" y1="210.57" x2="168.10" y2="210.57" stroke="#333" stroke-width="0.8"/>
<line x1="169.10" y1="215.69" x2="169.10" y2="216.62" stroke="#333" stroke-width="0.7"/>
<line x1="168.30" y1="215.69" x2="169.90" y2="215.69" stroke="#333" stroke-width="0.8"/>
<rect x="175.00" y="189.18" width="1.80" height="50.22" fill="#2f4a86"/>
<rect x="176.80" y="193.83" width="1.80" height="45.57" fill="#3e9a72"/>
<rect x="178.60" y="193.83" width="1.80" height="45.57" fill="#4a2d6a"/>
<rect x="180.40" y="202.67" width="1.80" height="36.73" fill="#f4a15a"/>
<rect x="182.20" y="215.22" width="1.80" height="24.18" fill="#cc2f2c"/>
<line x1="175.90" y1="187.32" x2="175.90" y2="189.18" stroke="#333" stroke-width="0.7"/>
<line x1="175.10" y1="187.32" x2="176.70" y2="187.32" stroke="#333" stroke-width="0.8"/>
<line x1="177.70" y1="192.90" x2="177.70" y2="193.83" stroke="#333" stroke-width="0.7"/>
<line x1="176.90" y1="192.90" x2="178.50" y2="192.90" stroke="#333" stroke-width="0.8"/>
<line x1="179.50" y1="192.90" x2="179.50" y2="193.83" stroke="#333" stroke-width="0.7"/>
<line x1="178.70" y1="192.90" x2="180.30" y2="192.90" stroke="#333" stroke-width="0.8"/>
<line x1="181.30" y1="201.74" x2="181.30" y2="202.67" stroke="#333" stroke-width="0.7"/>
<line x1="180.50" y1="201.74" x2="182.10" y2="201.74" stroke="#333" stroke-width="0.8"/>
<line x1="183.10" y1="214.29" x2="183.10" y2="215.22" stroke="#333" stroke-width="0.7"/>
<line x1="182.30" y1="214.29" x2="183.90" y2="214.29" stroke="#333" stroke-width="0.8"/>
<rect x="189.00" y="191.50" width="1.80" height="47.90" fill="#2f4a86"/>
<rect x="190.80" y="188.25" width="1.80" height="51.15" fill="#3e9a72"/>
<rect x="192.60" y="190.11" width="1.80" height="49.29" fill="#4a2d6a"/>
<rect x="194.40" y="198.48" width="1.80" height="40.92" fill="#f4a15a"/>
<rect x="196.20" y="209.64" width="1.80" height="29.76" fill="#cc2f2c"/>
<line x1="189.90" y1="190.57" x2="189.90" y2="191.50" stroke="#333" stroke-width="0.7"/>
<line x1="189.10" y1="190.57" x2="190.70" y2="190.57" stroke="#333" stroke-width="0.8"/>
<line x1="191.70" y1="185.00" x2="191.70" y2="188.25" stroke="#333" stroke-width="0.7"/>
<line x1="190.90" y1="185.00" x2="192.50" y2="185.00" stroke="#333" stroke-width="0.8"/>
<line x1="193.50" y1="188.72" x2="193.50" y2="190.11" stroke="#333" stroke-width="0.7"/>
<line x1="192.70" y1="188.72" x2="194.30" y2="188.72" stroke="#333" stroke-width="0.8"/>
<line x1="195.30" y1="197.55" x2="195.30" y2="198.48" stroke="#333" stroke-width="0.7"/>
<line x1="194.50" y1="197.55" x2="196.10" y2="197.55" stroke="#333" stroke-width="0.8"/>
<line x1="197.10" y1="208.71" x2="197.10" y2="209.64" stroke="#333" stroke-width="0.7"/>
<line x1="196.30" y1="208.71" x2="197.90" y2="208.71" stroke="#333" stroke-width="0.8"/>
<rect x="202.90" y="191.04" width="1.80" height="48.36" fill="#2f4a86"/>
<rect x="204.70" y="206.85" width="1.80" height="32.55" fill="#3e9a72"/>
<rect x="206.50" y="205.92" width="1.80" height="33.48" fill="#4a2d6a"/>
<rect x="208.30" y="212.90" width="1.80" height="26.50" fill="#f4a15a"/>
<rect x="210.10" y="217.55" width="1.80" height="21.85" fill="#cc2f2c"/>
<line x1="203.80" y1="190.11" x2="203.80" y2="191.04" stroke="#333" stroke-width="0.7"/>
<line x1="203.00" y1="190.11" x2="204.60" y2="190.11" stroke="#333" stroke-width="0.8"/>
<line x1="205.60" y1="205.92" x2="205.60" y2="206.85" stroke="#333" stroke-width="0.7"/>
<line x1="204.80" y1="205.92" x2="206.40" y2="205.92" stroke="#333" stroke-width="0.8"/>
<line x1="207.40" y1="204.53" x2="207.40" y2="205.92" stroke="#333" stroke-width="0.7"/>
<line x1="206.60" y1="204.53" x2="208.20" y2="204.53" stroke="#333" stroke-width="0.8"/>
<line x1="209.20" y1="211.97" x2="209.20" y2="212.90" stroke="#333" stroke-width="0.7"/>
<line x1="208.40" y1="211.97" x2="210.00" y2="211.97" stroke="#333" stroke-width="0.8"/>
<line x1="211.00" y1="216.62" x2="211.00" y2="217.55" stroke="#333" stroke-width="0.7"/>
<line x1="210.20" y1="216.62" x2="211.80" y2="216.62" stroke="#333" stroke-width="0.8"/>
<rect x="216.90" y="188.25" width="1.80" height="51.15" fill="#2f4a86"/>
<rect x="218.70" y="204.06" width="1.80" height="35.34" fill="#3e9a72"/>
<rect x="220.50" y="215.22" width="1.80" height="24.18" fill="#4a2d6a"/>
<rect x="222.30" y="220.34" width="1.80" height="19.06" fill="#f4a15a"/>
<rect x="224.10" y="223.59" width="1.80" height="15.81" fill="#cc2f2c"/>
<line x1="217.80" y1="186.85" x2="217.80" y2="188.25" stroke="#333" stroke-width="0.7"/>
<line x1="217.00" y1="186.85" x2="218.60" y2="186.85" stroke="#333" stroke-width="0.8"/>
<line x1="219.60" y1="203.13" x2="219.60" y2="204.06" stroke="#333" stroke-width="0.7"/>
<line x1="218.80" y1="203.13" x2="220.40" y2="203.13" stroke="#333" stroke-width="0.8"/>
<line x1="221.40" y1="214.29" x2="221.40" y2="215.22" stroke="#333" stroke-width="0.7"/>
<line x1="220.60" y1="214.29" x2="222.20" y2="214.29" stroke="#333" stroke-width="0.8"/>
<line x1="223.20" y1="219.41" x2="223.20" y2="220.34" stroke="#333" stroke-width="0.7"/>
<line x1="222.40" y1="219.41" x2="224.00" y2="219.41" stroke="#333" stroke-width="0.8"/>
<line x1="225.00" y1="222.66" x2="225.00" y2="223.59" stroke="#333" stroke-width="0.7"/>
<line x1="224.20" y1="222.66" x2="225.80" y2="222.66" stroke="#333" stroke-width="0.8"/>
<line x1="33.70" y1="181.00" x2="33.70" y2="239.40" stroke="#1a1a1a" stroke-width="1.1"/>
<line x1="30.90" y1="239.40" x2="33.70" y2="239.40" stroke="#1a1a1a" stroke-width="0.9"/>
<text x="28.90" y="241.92" font-size="7.0" fill="#2e2e2e" text-anchor="end" textLength="3.5" lengthAdjust="spacingAndGlyphs">0</text>
<line x1="30.90" y1="230.10" x2="33.70" y2="230.10" stroke="#1a1a1a" stroke-width="0.9"/>
<text x="28.90" y="232.62" font-size="7.0" fill="#2e2e2e" text-anchor="end" textLength="8.76" lengthAdjust="spacingAndGlyphs">0.2</text>
<line x1="30.90" y1="220.80" x2="33.70" y2="220.80" stroke="#1a1a1a" stroke-width="0.9"/>
<text x="28.90" y="223.32" font-size="7.0" fill="#2e2e2e" text-anchor="end" textLength="8.76" lengthAdjust="spacingAndGlyphs">0.4</text>
<line x1="30.90" y1="211.50" x2="33.70" y2="211.50" stroke="#1a1a1a" stroke-width="0.9"/>
<text x="28.90" y="214.02" font-size="7.0" fill="#2e2e2e" text-anchor="end" textLength="8.76" lengthAdjust="spacingAndGlyphs">0.6</text>
<line x1="30.90" y1="202.20" x2="33.70" y2="202.20" stroke="#1a1a1a" stroke-width="0.9"/>
<text x="28.90" y="204.72" font-size="7.0" fill="#2e2e2e" text-anchor="end" textLength="8.76" lengthAdjust="spacingAndGlyphs">0.8</text>
<line x1="30.90" y1="192.90" x2="33.70" y2="192.90" stroke="#1a1a1a" stroke-width="0.9"/>
<text x="28.90" y="195.42" font-size="7.0" fill="#2e2e2e" text-anchor="end" textLength="3.5" lengthAdjust="spacingAndGlyphs">1</text>
<line x1="30.90" y1="183.60" x2="33.70" y2="183.60" stroke="#1a1a1a" stroke-width="0.9"/>
<text x="28.90" y="186.12" font-size="7.0" fill="#2e2e2e" text-anchor="end" textLength="8.76" lengthAdjust="spacingAndGlyphs">1.2</text>
<line x1="33.70" y1="239.40" x2="228.50" y2="239.40" stroke="#1a1a1a" stroke-width="1.1"/>
<line x1="39.80" y1="239.40" x2="39.80" y2="241.90" stroke="#1a1a1a" stroke-width="0.9"/>
<line x1="53.70" y1="239.40" x2="53.70" y2="241.90" stroke="#1a1a1a" stroke-width="0.9"/>
<line x1="67.60" y1="239.40" x2="67.60" y2="241.90" stroke="#1a1a1a" stroke-width="0.9"/>
<line x1="81.50" y1="239.40" x2="81.50" y2="241.90" stroke="#1a1a1a" stroke-width="0.9"/>
<line x1="95.40" y1="239.40" x2="95.40" y2="241.90" stroke="#1a1a1a" stroke-width="0.9"/>
<line x1="109.30" y1="239.40" x2="109.30" y2="241.90" stroke="#1a1a1a" stroke-width="0.9"/>
<line x1="123.30" y1="239.40" x2="123.30" y2="241.90" stroke="#1a1a1a" stroke-width="0.9"/>
<line x1="137.30" y1="239.40" x2="137.30" y2="241.90" stroke="#1a1a1a" stroke-width="0.9"/>
<line x1="151.30" y1="239.40" x2="151.30" y2="241.90" stroke="#1a1a1a" stroke-width="0.9"/>
<line x1="165.30" y1="239.40" x2="165.30" y2="241.90" stroke="#1a1a1a" stroke-width="0.9"/>
<line x1="179.30" y1="239.40" x2="179.30" y2="241.90" stroke="#1a1a1a" stroke-width="0.9"/>
<line x1="193.30" y1="239.40" x2="193.30" y2="241.90" stroke="#1a1a1a" stroke-width="0.9"/>
<line x1="207.20" y1="239.40" x2="207.20" y2="241.90" stroke="#1a1a1a" stroke-width="0.9"/>
<line x1="221.20" y1="239.40" x2="221.20" y2="241.90" stroke="#1a1a1a" stroke-width="0.9"/>
<text x="42.20" y="247.90" font-size="6.2" fill="#3a3a3a" text-anchor="end" transform="rotate(-45 42.20 247.90)">HS5</text>
<text x="56.10" y="247.90" font-size="6.2" fill="#3a3a3a" text-anchor="end" transform="rotate(-45 56.10 247.90)">HDF</text>
<text x="70.00" y="247.90" font-size="6.2" fill="#3a3a3a" text-anchor="end" transform="rotate(-45 70.00 247.90)">PBMC-1</text>
<text x="83.90" y="247.90" font-size="6.2" fill="#3a3a3a" text-anchor="end" transform="rotate(-45 83.90 247.90)">PBMC-2</text>
<text x="97.80" y="247.90" font-size="6.2" fill="#3a3a3a" text-anchor="end" transform="rotate(-45 97.80 247.90)">MM1S</text>
<text x="111.70" y="247.90" font-size="6.2" fill="#3a3a3a" text-anchor="end" transform="rotate(-45 111.70 247.90)">RPMI</text>
<text x="125.70" y="247.90" font-size="6.2" fill="#3a3a3a" text-anchor="end" transform="rotate(-45 125.70 247.90)">JJN3</text>
<text x="139.70" y="247.90" font-size="6.2" fill="#3a3a3a" text-anchor="end" transform="rotate(-45 139.70 247.90)">AMO1</text>
<text x="153.70" y="247.90" font-size="6.2" fill="#3a3a3a" text-anchor="end" transform="rotate(-45 153.70 247.90)">KMS12BM</text>
<text x="167.70" y="247.90" font-size="6.2" fill="#3a3a3a" text-anchor="end" transform="rotate(-45 167.70 247.90)">KMS20</text>
<text x="181.70" y="247.90" font-size="6.2" fill="#3a3a3a" text-anchor="end" transform="rotate(-45 181.70 247.90)">H929</text>
<text x="195.70" y="247.90" font-size="6.2" fill="#3a3a3a" text-anchor="end" transform="rotate(-45 195.70 247.90)">OPM1</text>
<text x="209.60" y="247.90" font-size="6.2" fill="#3a3a3a" text-anchor="end" transform="rotate(-45 209.60 247.90)">OPM2</text>
<text x="223.60" y="247.90" font-size="6.2" fill="#3a3a3a" text-anchor="end" transform="rotate(-45 223.60 247.90)">KMS11</text>
<text x="13.60" y="210.30" font-size="8.2" fill="#3a3a3a" text-anchor="middle" textLength="48.5" lengthAdjust="spacingAndGlyphs" transform="rotate(-90 13.60 210.30)">Relative viability</text>
<line x1="88.60" y1="176.50" x2="88.60" y2="240.00" stroke="#555" stroke-width="0.7" stroke-dasharray="1,1.2"/>
<text x="63.20" y="170.20" font-size="8.8" fill="#222" text-anchor="middle" textLength="18.5" lengthAdjust="spacingAndGlyphs">Non-</text>
<text x="63.20" y="178.40" font-size="8.8" fill="#222" text-anchor="middle" textLength="37.5" lengthAdjust="spacingAndGlyphs">cancerous</text>
<text x="153.50" y="178.60" font-size="8.8" fill="#222" text-anchor="middle" textLength="102.0" lengthAdjust="spacingAndGlyphs">Multiple myeloma cell lines</text>
<text x="50.00" y="279.40" font-size="6.6" fill="#3a3a3a" textLength="24.2" lengthAdjust="spacingAndGlyphs">Nilotinib</text>
<rect x="50.60" y="285.00" width="5.00" height="4.70" fill="#1f4a92"/>
<text x="59.20" y="289.70" font-size="6.6" fill="#3a3a3a" textLength="11.6" lengthAdjust="spacingAndGlyphs">0μM</text>
<rect x="80.40" y="285.00" width="5.00" height="4.70" fill="#3aaa3a"/>
<text x="88.00" y="289.70" font-size="6.6" fill="#3a3a3a" textLength="22.0" lengthAdjust="spacingAndGlyphs">0.62 μM</text>
<rect x="116.80" y="285.00" width="5.00" height="4.70" fill="#4d2a6e"/>
<text x="125.40" y="289.70" font-size="6.6" fill="#3a3a3a" textLength="22.6" lengthAdjust="spacingAndGlyphs">1.25 μM</text>
<rect x="155.20" y="285.00" width="5.00" height="4.70" fill="#f7941d"/>
<text x="162.90" y="289.70" font-size="6.6" fill="#3a3a3a" textLength="20.1" lengthAdjust="spacingAndGlyphs">2.5 μM</text>
<rect x="189.60" y="285.00" width="5.00" height="4.70" fill="#c8102e"/>
<text x="198.50" y="289.70" font-size="6.6" fill="#3a3a3a" textLength="14.1" lengthAdjust="spacingAndGlyphs">5 μM</text>
<rect x="275.40" y="185.50" width="14.85" height="18.60" fill="#fde796"/>
<rect x="289.65" y="185.50" width="14.85" height="18.60" fill="#fde695"/>
<rect x="303.90" y="185.50" width="14.85" height="18.60" fill="#fde594"/>
<rect x="318.15" y="185.50" width="14.85" height="18.60" fill="#fde493"/>
<rect x="332.40" y="185.50" width="14.85" height="18.60" fill="#fde898"/>
<rect x="346.65" y="185.50" width="14.85" height="18.60" fill="#fcd48e"/>
<rect x="360.90" y="185.50" width="14.85" height="18.60" fill="#fcd690"/>
<rect x="375.15" y="185.50" width="14.85" height="18.60" fill="#fcd08a"/>
<rect x="389.40" y="185.50" width="14.85" height="18.60" fill="#fdda94"/>
<rect x="403.65" y="185.50" width="14.85" height="18.60" fill="#feeaa2"/>
<rect x="417.90" y="185.50" width="14.85" height="18.60" fill="#ea6e2c"/>
<rect x="432.15" y="185.50" width="14.85" height="18.60" fill="#e05a1e"/>
<rect x="446.40" y="185.50" width="14.85" height="18.60" fill="#fff0ae"/>
<rect x="460.65" y="185.50" width="14.85" height="18.60" fill="#fff0ae"/>
<rect x="474.90" y="185.50" width="14.25" height="18.60" fill="#ffffff"/>
<rect x="275.40" y="203.50" width="14.85" height="18.60" fill="#feeb9a"/>
<rect x="289.65" y="203.50" width="14.85" height="18.60" fill="#feec9b"/>
<rect x="303.90" y="203.50" width="14.85" height="18.60" fill="#feec9b"/>
<rect x="318.15" y="203.50" width="14.85" height="18.60" fill="#feeb9a"/>
<rect x="332.40" y="203.50" width="14.85" height="18.60" fill="#ffffff"/>
<rect x="346.65" y="203.50" width="14.85" height="18.60" fill="#feeea6"/>
<rect x="360.90" y="203.50" width="14.85" height="18.60" fill="#feefa8"/>
<rect x="375.15" y="203.50" width="14.85" height="18.60" fill="#ffffff"/>
<rect x="389.40" y="203.50" width="14.85" height="18.60" fill="#ffffff"/>
<rect x="403.65" y="203.50" width="14.85" height="18.60" fill="#ffffff"/>
<rect x="417.90" y="203.50" width="14.85" height="18.60" fill="#fddc9c"/>
<rect x="432.15" y="203.50" width="14.85" height="18.60" fill="#fdde9e"/>
<rect x="446.40" y="203.50" width="14.85" height="18.60" fill="#ffffff"/>
<rect x="460.65" y="203.50" width="14.85" height="18.60" fill="#ffffff"/>
<rect x="474.90" y="203.50" width="14.25" height="18.60" fill="#ffffff"/>
<rect x="275.40" y="221.50" width="14.85" height="18.00" fill="#feeb9a"/>
<rect x="289.65" y="221.50" width="14.85" height="18.00" fill="#ffffff"/>
<rect x="303.90" y="221.50" width="14.85" height="18.00" fill="#ffffff"/>
<rect x="318.15" y="221.50" width="14.85" height="18.00" fill="#ffffff"/>
<rect x="332.40" y="221.50" width="14.85" height="18.00" fill="#ffffff"/>
<rect x="346.65" y="221.50" width="14.85" height="18.00" fill="#fff0ae"/>
<rect x="360.90" y="221.50" width="14.85" height="18.00" fill="#ffffff"/>
<rect x="375.15" y="221.50" width="14.85" height="18.00" fill="#ffffff"/>
<rect x="389.40" y="221.50" width="14.85" height="18.00" fill="#ffffff"/>
<rect x="403.65" y="221.50" width="14.85" height="18.00" fill="#ffffff"/>
<rect x="417.90" y="221.50" width="14.85" height="18.00" fill="#fee7a4"/>
<rect x="432.15" y="221.50" width="14.85" height="18.00" fill="#fee5a2"/>
<rect x="446.40" y="221.50" width="14.85" height="18.00" fill="#ffffff"/>
<rect x="460.65" y="221.50" width="14.85" height="18.00" fill="#ffffff"/>
<rect x="474.90" y="221.50" width="14.25" height="18.00" fill="#ffffff"/>
<text x="282.62" y="196.10" font-size="6.0" fill="#1a1a1a" text-anchor="middle" textLength="12.9" lengthAdjust="spacingAndGlyphs" stroke="#1a1a1a" stroke-width="0.18">0.407</text>
<text x="296.88" y="196.10" font-size="6.0" fill="#1a1a1a" text-anchor="middle" textLength="12.9" lengthAdjust="spacingAndGlyphs" stroke="#1a1a1a" stroke-width="0.18">0.425</text>
<text x="311.12" y="196.10" font-size="6.0" fill="#1a1a1a" text-anchor="middle" textLength="12.9" lengthAdjust="spacingAndGlyphs" stroke="#1a1a1a" stroke-width="0.18">0.497</text>
<text x="325.38" y="196.10" font-size="6.0" fill="#1a1a1a" text-anchor="middle" textLength="12.9" lengthAdjust="spacingAndGlyphs" stroke="#1a1a1a" stroke-width="0.18">0.531</text>
<text x="339.62" y="196.10" font-size="6.0" fill="#1a1a1a" text-anchor="middle" textLength="12.9" lengthAdjust="spacingAndGlyphs" stroke="#1a1a1a" stroke-width="0.18">0.323</text>
<text x="353.88" y="196.10" font-size="6.0" fill="#1a1a1a" text-anchor="middle" textLength="12.9" lengthAdjust="spacingAndGlyphs" stroke="#1a1a1a" stroke-width="0.18">0.710</text>
<text x="368.12" y="196.10" font-size="6.0" fill="#1a1a1a" text-anchor="middle" textLength="12.9" lengthAdjust="spacingAndGlyphs" stroke="#1a1a1a" stroke-width="0.18">0.682</text>
<text x="382.38" y="196.10" font-size="6.0" fill="#1a1a1a" text-anchor="middle" textLength="12.9" lengthAdjust="spacingAndGlyphs" stroke="#1a1a1a" stroke-width="0.18">0.755</text>
<text x="396.62" y="196.10" font-size="6.0" fill="#1a1a1a" text-anchor="middle" textLength="12.9" lengthAdjust="spacingAndGlyphs" stroke="#1a1a1a" stroke-width="0.18">0.601</text>
<text x="410.88" y="196.10" font-size="6.0" fill="#1a1a1a" text-anchor="middle" textLength="12.9" lengthAdjust="spacingAndGlyphs" stroke="#1a1a1a" stroke-width="0.18">0.289</text>
<text x="425.12" y="196.10" font-size="6.0" fill="#1a1a1a" text-anchor="middle" textLength="12.9" lengthAdjust="spacingAndGlyphs" stroke="#1a1a1a" stroke-width="0.18">1.122</text>
<text x="439.38" y="196.10" font-size="6.0" fill="#1a1a1a" text-anchor="middle" textLength="12.9" lengthAdjust="spacingAndGlyphs" stroke="#1a1a1a" stroke-width="0.18">1.204</text>
<text x="453.62" y="196.10" font-size="6.0" fill="#1a1a1a" text-anchor="middle" textLength="12.9" lengthAdjust="spacingAndGlyphs" stroke="#1a1a1a" stroke-width="0.18">0.239</text>
<text x="467.88" y="196.10" font-size="6.0" fill="#1a1a1a" text-anchor="middle" textLength="12.9" lengthAdjust="spacingAndGlyphs" stroke="#1a1a1a" stroke-width="0.18">0.243</text>
<text x="482.12" y="196.10" font-size="6.0" fill="#1a1a1a" text-anchor="middle" textLength="12.9" lengthAdjust="spacingAndGlyphs" stroke="#1a1a1a" stroke-width="0.18">0.143</text>
<text x="282.62" y="214.10" font-size="6.0" fill="#1a1a1a" text-anchor="middle" textLength="12.9" lengthAdjust="spacingAndGlyphs" stroke="#1a1a1a" stroke-width="0.18">0.238</text>
<text x="296.88" y="214.10" font-size="6.0" fill="#1a1a1a" text-anchor="middle" textLength="12.9" lengthAdjust="spacingAndGlyphs" stroke="#1a1a1a" stroke-width="0.18">0.207</text>
<text x="311.12" y="214.10" font-size="6.0" fill="#1a1a1a" text-anchor="middle" textLength="12.9" lengthAdjust="spacingAndGlyphs" stroke="#1a1a1a" stroke-width="0.18">0.210</text>
<text x="325.38" y="214.10" font-size="6.0" fill="#1a1a1a" text-anchor="middle" textLength="12.9" lengthAdjust="spacingAndGlyphs" stroke="#1a1a1a" stroke-width="0.18">0.216</text>
<text x="339.62" y="214.10" font-size="6.0" fill="#1a1a1a" text-anchor="middle" textLength="12.9" lengthAdjust="spacingAndGlyphs" stroke="#1a1a1a" stroke-width="0.18">0.197</text>
<text x="353.88" y="214.10" font-size="6.0" fill="#1a1a1a" text-anchor="middle" textLength="12.9" lengthAdjust="spacingAndGlyphs" stroke="#1a1a1a" stroke-width="0.18">0.360</text>
<text x="368.12" y="214.10" font-size="6.0" fill="#1a1a1a" text-anchor="middle" textLength="12.9" lengthAdjust="spacingAndGlyphs" stroke="#1a1a1a" stroke-width="0.18">0.299</text>
<text x="382.38" y="214.10" font-size="6.0" fill="#1a1a1a" text-anchor="middle" textLength="12.9" lengthAdjust="spacingAndGlyphs" stroke="#1a1a1a" stroke-width="0.18">0.149</text>
<text x="396.62" y="214.10" font-size="6.0" fill="#1a1a1a" text-anchor="middle" textLength="12.9" lengthAdjust="spacingAndGlyphs" stroke="#1a1a1a" stroke-width="0.18">0.074</text>
<text x="410.88" y="214.10" font-size="6.0" fill="#1a1a1a" text-anchor="middle" textLength="12.9" lengthAdjust="spacingAndGlyphs" stroke="#1a1a1a" stroke-width="0.18">0.042</text>
<text x="425.12" y="214.10" font-size="6.0" fill="#1a1a1a" text-anchor="middle" textLength="12.9" lengthAdjust="spacingAndGlyphs" stroke="#1a1a1a" stroke-width="0.18">0.567</text>
<text x="439.38" y="214.10" font-size="6.0" fill="#1a1a1a" text-anchor="middle" textLength="12.9" lengthAdjust="spacingAndGlyphs" stroke="#1a1a1a" stroke-width="0.18">0.545</text>
<text x="453.62" y="214.10" font-size="6.0" fill="#1a1a1a" text-anchor="middle" textLength="12.9" lengthAdjust="spacingAndGlyphs" stroke="#1a1a1a" stroke-width="0.18">0.143</text>
<text x="467.88" y="214.10" font-size="6.0" fill="#1a1a1a" text-anchor="middle" textLength="12.9" lengthAdjust="spacingAndGlyphs" stroke="#1a1a1a" stroke-width="0.18">0.074</text>
<text x="482.12" y="214.10" font-size="6.0" fill="#1a1a1a" text-anchor="middle" textLength="12.9" lengthAdjust="spacingAndGlyphs" stroke="#1a1a1a" stroke-width="0.18">0.056</text>
<text x="282.62" y="232.10" font-size="6.0" fill="#1a1a1a" text-anchor="middle" textLength="12.9" lengthAdjust="spacingAndGlyphs" stroke="#1a1a1a" stroke-width="0.18">0.228</text>
<text x="296.88" y="232.10" font-size="6.0" fill="#1a1a1a" text-anchor="middle" textLength="12.9" lengthAdjust="spacingAndGlyphs" stroke="#1a1a1a" stroke-width="0.18">0.169</text>
<text x="311.12" y="232.10" font-size="6.0" fill="#1a1a1a" text-anchor="middle" textLength="12.9" lengthAdjust="spacingAndGlyphs" stroke="#1a1a1a" stroke-width="0.18">0.130</text>
<text x="325.38" y="232.10" font-size="6.0" fill="#1a1a1a" text-anchor="middle" textLength="12.9" lengthAdjust="spacingAndGlyphs" stroke="#1a1a1a" stroke-width="0.18">0.101</text>
<text x="339.62" y="232.10" font-size="6.0" fill="#1a1a1a" text-anchor="middle" textLength="12.9" lengthAdjust="spacingAndGlyphs" stroke="#1a1a1a" stroke-width="0.18">0.085</text>
<text x="353.88" y="232.10" font-size="6.0" fill="#1a1a1a" text-anchor="middle" textLength="12.9" lengthAdjust="spacingAndGlyphs" stroke="#1a1a1a" stroke-width="0.18">0.215</text>
<text x="368.12" y="232.10" font-size="6.0" fill="#1a1a1a" text-anchor="middle" textLength="12.9" lengthAdjust="spacingAndGlyphs" stroke="#1a1a1a" stroke-width="0.18">0.153</text>
<text x="382.38" y="232.10" font-size="6.0" fill="#1a1a1a" text-anchor="middle" textLength="12.9" lengthAdjust="spacingAndGlyphs" stroke="#1a1a1a" stroke-width="0.18">0.105</text>
<text x="396.62" y="232.10" font-size="6.0" fill="#1a1a1a" text-anchor="middle" textLength="12.9" lengthAdjust="spacingAndGlyphs" stroke="#1a1a1a" stroke-width="0.18">0.059</text>
<text x="410.88" y="232.10" font-size="6.0" fill="#1a1a1a" text-anchor="middle" textLength="12.9" lengthAdjust="spacingAndGlyphs" stroke="#1a1a1a" stroke-width="0.18">0.035</text>
<text x="425.12" y="232.10" font-size="6.0" fill="#1a1a1a" text-anchor="middle" textLength="12.9" lengthAdjust="spacingAndGlyphs" stroke="#1a1a1a" stroke-width="0.18">0.403</text>
<text x="439.38" y="232.10" font-size="6.0" fill="#1a1a1a" text-anchor="middle" textLength="12.9" lengthAdjust="spacingAndGlyphs" stroke="#1a1a1a" stroke-width="0.18">0.438</text>
<text x="453.62" y="232.10" font-size="6.0" fill="#1a1a1a" text-anchor="middle" textLength="12.9" lengthAdjust="spacingAndGlyphs" stroke="#1a1a1a" stroke-width="0.18">0.119</text>
<text x="467.88" y="232.10" font-size="6.0" fill="#1a1a1a" text-anchor="middle" textLength="12.9" lengthAdjust="spacingAndGlyphs" stroke="#1a1a1a" stroke-width="0.18">0.032</text>
<text x="482.12" y="232.10" font-size="6.0" fill="#1a1a1a" text-anchor="middle" textLength="12.9" lengthAdjust="spacingAndGlyphs" stroke="#1a1a1a" stroke-width="0.18">0.037</text>
<rect x="275.40" y="185.50" width="213.75" height="54.00" fill="none" stroke="#3a3a3a" stroke-width="1"/>
<line x1="346.65" y1="185.50" x2="346.65" y2="239.50" stroke="#3a3a2a" stroke-width="1"/>
<line x1="417.90" y1="185.50" x2="417.90" y2="239.50" stroke="#3a3a2a" stroke-width="1"/>
<line x1="272.90" y1="194.50" x2="275.40" y2="194.50" stroke="#1a1a1a" stroke-width="0.9"/>
<text x="268.80" y="197.00" font-size="7.0" fill="#2e2e2e" text-anchor="end" textLength="12.26" lengthAdjust="spacingAndGlyphs">1.25</text>
<line x1="272.90" y1="212.50" x2="275.40" y2="212.50" stroke="#1a1a1a" stroke-width="0.9"/>
<text x="268.80" y="215.00" font-size="7.0" fill="#2e2e2e" text-anchor="end" textLength="8.76" lengthAdjust="spacingAndGlyphs">2.5</text>
<line x1="272.90" y1="230.50" x2="275.40" y2="230.50" stroke="#1a1a1a" stroke-width="0.9"/>
<text x="268.80" y="233.00" font-size="7.0" fill="#2e2e2e" text-anchor="end" textLength="3.5" lengthAdjust="spacingAndGlyphs">5</text>
<line x1="282.52" y1="239.50" x2="282.52" y2="242.00" stroke="#1a1a1a" stroke-width="0.9"/>
<text x="282.52" y="251.40" font-size="6.6" fill="#3a3a3a" text-anchor="middle" textLength="12.0" lengthAdjust="spacingAndGlyphs">1.25</text>
<line x1="296.77" y1="239.50" x2="296.77" y2="242.00" stroke="#1a1a1a" stroke-width="0.9"/>
<text x="296.77" y="251.40" font-size="6.6" fill="#3a3a3a" text-anchor="middle" textLength="8.9" lengthAdjust="spacingAndGlyphs">2.5</text>
<line x1="311.02" y1="239.50" x2="311.02" y2="242.00" stroke="#1a1a1a" stroke-width="0.9"/>
<text x="311.02" y="251.40" font-size="6.6" fill="#3a3a3a" text-anchor="middle" textLength="3.3" lengthAdjust="spacingAndGlyphs">5</text>
<line x1="325.27" y1="239.50" x2="325.27" y2="242.00" stroke="#1a1a1a" stroke-width="0.9"/>
<text x="325.27" y="251.40" font-size="6.6" fill="#3a3a3a" text-anchor="middle" textLength="6.2" lengthAdjust="spacingAndGlyphs">10</text>
<line x1="339.52" y1="239.50" x2="339.52" y2="242.00" stroke="#1a1a1a" stroke-width="0.9"/>
<text x="339.52" y="251.40" font-size="6.6" fill="#3a3a3a" text-anchor="middle" textLength="6.2" lengthAdjust="spacingAndGlyphs">20</text>
<line x1="353.77" y1="239.50" x2="353.77" y2="242.00" stroke="#1a1a1a" stroke-width="0.9"/>
<text x="353.77" y="251.40" font-size="6.6" fill="#3a3a3a" text-anchor="middle" textLength="12.0" lengthAdjust="spacingAndGlyphs">1.25</text>
<line x1="368.02" y1="239.50" x2="368.02" y2="242.00" stroke="#1a1a1a" stroke-width="0.9"/>
<text x="368.02" y="251.40" font-size="6.6" fill="#3a3a3a" text-anchor="middle" textLength="8.9" lengthAdjust="spacingAndGlyphs">2.5</text>
<line x1="382.27" y1="239.50" x2="382.27" y2="242.00" stroke="#1a1a1a" stroke-width="0.9"/>
<text x="382.27" y="251.40" font-size="6.6" fill="#3a3a3a" text-anchor="middle" textLength="3.3" lengthAdjust="spacingAndGlyphs">5</text>
<line x1="396.52" y1="239.50" x2="396.52" y2="242.00" stroke="#1a1a1a" stroke-width="0.9"/>
<text x="396.52" y="251.40" font-size="6.6" fill="#3a3a3a" text-anchor="middle" textLength="6.2" lengthAdjust="spacingAndGlyphs">10</text>
<line x1="410.77" y1="239.50" x2="410.77" y2="242.00" stroke="#1a1a1a" stroke-width="0.9"/>
<text x="410.77" y="251.40" font-size="6.6" fill="#3a3a3a" text-anchor="middle" textLength="6.2" lengthAdjust="spacingAndGlyphs">20</text>
<line x1="425.02" y1="239.50" x2="425.02" y2="242.00" stroke="#1a1a1a" stroke-width="0.9"/>
<text x="425.02" y="251.40" font-size="6.6" fill="#3a3a3a" text-anchor="middle" textLength="12.0" lengthAdjust="spacingAndGlyphs">1.25</text>
<line x1="439.27" y1="239.50" x2="439.27" y2="242.00" stroke="#1a1a1a" stroke-width="0.9"/>
<text x="439.27" y="251.40" font-size="6.6" fill="#3a3a3a" text-anchor="middle" textLength="8.9" lengthAdjust="spacingAndGlyphs">2.5</text>
<line x1="453.52" y1="239.50" x2="453.52" y2="242.00" stroke="#1a1a1a" stroke-width="0.9"/>
<text x="453.52" y="251.40" font-size="6.6" fill="#3a3a3a" text-anchor="middle" textLength="3.3" lengthAdjust="spacingAndGlyphs">5</text>
<line x1="467.77" y1="239.50" x2="467.77" y2="242.00" stroke="#1a1a1a" stroke-width="0.9"/>
<text x="467.77" y="251.40" font-size="6.6" fill="#3a3a3a" text-anchor="middle" textLength="6.2" lengthAdjust="spacingAndGlyphs">10</text>
<line x1="482.02" y1="239.50" x2="482.02" y2="242.00" stroke="#1a1a1a" stroke-width="0.9"/>
<text x="482.02" y="251.40" font-size="6.6" fill="#3a3a3a" text-anchor="middle" textLength="6.2" lengthAdjust="spacingAndGlyphs">20</text>
<text x="311.00" y="262.30" font-size="7.8" fill="#3a3a3a" text-anchor="middle" textLength="34.4" lengthAdjust="spacingAndGlyphs">RPMI8226</text>
<text x="381.50" y="262.30" font-size="7.8" fill="#3a3a3a" text-anchor="middle" textLength="13.4" lengthAdjust="spacingAndGlyphs">LR5</text>
<text x="453.60" y="262.30" font-size="7.8" fill="#3a3a3a" text-anchor="middle" textLength="22.2" lengthAdjust="spacingAndGlyphs">MM1S</text>
<text x="382.40" y="274.50" font-size="8.0" fill="#3a3a3a" text-anchor="middle" textLength="49.6" lengthAdjust="spacingAndGlyphs">Melphalan (μM)</text>
<text x="252.40" y="212.30" font-size="8.4" fill="#3a3a3a" text-anchor="middle" textLength="42.0" lengthAdjust="spacingAndGlyphs" transform="rotate(-90 252.40 212.30)">Nilotinib (μM)</text>
<defs><linearGradient id="cb" x1="0" y1="1" x2="0" y2="0"><stop offset="0" stop-color="#fff3a2"/><stop offset="0.3" stop-color="#fee69c"/><stop offset="0.5" stop-color="#fdd792"/><stop offset="0.7" stop-color="#f9bc7a"/><stop offset="0.8" stop-color="#f6a462"/><stop offset="0.9" stop-color="#f07a36"/><stop offset="1" stop-color="#e85a18"/></linearGradient></defs>
<rect x="492.2" y="185.5" width="9.4" height="54.6" fill="url(#cb)" stroke="#333" stroke-width="0.9"/>
<line x1="492.20" y1="196.50" x2="493.60" y2="196.50" stroke="#333" stroke-width="0.8"/>
<line x1="500.20" y1="196.50" x2="501.60" y2="196.50" stroke="#333" stroke-width="0.8"/>
<text x="504.40" y="198.90" font-size="6.5" fill="#3a3a3a" textLength="8.4" lengthAdjust="spacingAndGlyphs">1.0</text>
<line x1="492.20" y1="223.40" x2="493.60" y2="223.40" stroke="#333" stroke-width="0.8"/>
<line x1="500.20" y1="223.40" x2="501.60" y2="223.40" stroke="#333" stroke-width="0.8"/>
<text x="504.40" y="225.80" font-size="6.5" fill="#3a3a3a" textLength="8.4" lengthAdjust="spacingAndGlyphs">0.5</text>
<text x="57.90" y="328.60" font-size="8.6" fill="#222" font-weight="bold">i</text>
<text x="175.00" y="328.60" font-size="8.9" fill="#222" text-anchor="middle" textLength="23.9" lengthAdjust="spacingAndGlyphs">MM1S</text>
<defs><filter id="bl" x="-50%" y="-50%" width="200%" height="200%"><feGaussianBlur stdDeviation="1.6"/></filter></defs>
<rect x="70.60" y="334.10" width="91.60" height="10.50" fill="#1f4e96"/>
<text x="116.80" y="342.30" font-size="8.4" fill="#fff" text-anchor="middle" textLength="24.7" lengthAdjust="spacingAndGlyphs">DMSO</text>
<ellipse cx="101.5" cy="404.8" rx="12.5" ry="3.9" transform="rotate(-31 101.5 404.8)" fill="#4650b6" fill-opacity="0.85" filter="url(#bl)"/>
<path d="M119.0 366.6h1m2.9 1.8h1m-8.5-.6h1m-9-.8h1m4.7-2.9h1m-8 3.6h1m12.7-2.8h1m15.6 4.1h1m-24.8-5.4h1m-2.7 2.6h1m13.5 .3h1m-2.8-3h1m-4.2 7h1m-14.5-.6h1m10.7-4.5h1m8.4 2.9h1m-27.5-.9h1m10.6-6.9h1m-19.8 6.6h1m6.9-.7h1m-8.1 .3h1m19.8-2.7h1m-14.4 1.9h1m19 .2h1m-2.5 3.1h1m-5.4-1.9h1m-31.3-.8h1m24.7 3.5h1m5.4-4.8h1m1.1 .4h1m-22.4-3.3h1m12.7 7.8h1m-7.5-1.4h1m1.2-.1h1m23.3-.6h1m-25.3-1.2h1m9.1 .2h1m10.9-1.1h1m-20.1 .1h1m5.1 .6h1m1.9 3.4h1m-1.6-2.2h1m-17.7-1.4h1m15.9-1.2h1m15.7-.2h1m-38.8 5.2h1m30.3-2.5h1m-10.6-1h1m-10.9-1h1m33.3-1.8h1m-17.1 2.4h1m-26.5 2.2h1m15.6-2.9h1m5.5 .4h1m-11 0h1m10.4 .8h1m-10.8-4h1m8.6 3.2h1m9-1.5h1m-28.5 4h1m10.4-3.8h1m-9.6 3.1h1m6.7 2.2h1m-18.1-4.2h1m6.9-.7h1m3.9 1.8h1m13.3-.4h1m2.2-2.3h1m-33.1 3.4h1m5.9 3.5h1m17.7-5.2h1m-35.3 .1h1m18.9-1.9h1m3.7 3.1h1m16.6-3.6h1m-8.3 .4h1m-14.3 5.4h1m-1.5-5h1m.5 4.6h1m22.1 1h1m-26.4-2.9h1m.7 .7h1m7.5 3.2h1m-7.2-5h1m-2-.9h1m-12.9-1.7h1m13.4 3.2h1m-6.7 3.3h1m20-1.2h1m-7.7-4.4h1m-9.8 .2h1m8 .8h1m-14.1 1.9h1m17.1-1.2h1m-14.8 1h1m6.7 .2h1m-25.4-1.4h1m20.3 .6h1m-27.4 .6h1m-5.6-.7h1m21.5 1.4h1m-8.7 3.1h1m12.8-2.9h1m26.1-1.3h1m-41-4h1m1.7 4.8h1m9.8-5.4h1m2.7 1.3h1m-9.7 5.2h1m-1.4-.4h1m10.8-1.9h1m-3.3-3.6h1m-21.2 3h1m11.4-.7h1m.5 3.1h1m-15.2 3.7h1m16.1-4.7h1m-15.6-2.3h1m22.8-.9h1m-11.1 2.6h1m-2.3-.3h1m-9.9-2.2h1m5.2 2.9h1m-25.5-2.9h1m10.3 5.2h1m18.4-.2h1m-33.4 .1h1m37.7-3.6h1m-34.7 2.3h1m31.5-1.5h1m-21.8-.6h1m20.1 .1h1m-9.4-2.2h1m-22.7-.3h1m35.2 5.1h1m1.5-2.2h1m-20.6 .9h1m-3.7 1.8h1m.5-6.3h1m-11.6 2.2h1m26 2.2h1m-22.4 .5h1m5.4-1.8h1m-10.6 3.3h1m1.2-1.9h1m-9.5-3.3h1m31.9 .7h1m-19.3 4h1m13.6-.8h1m-13.4-5.5h1m-10.2 7.5h1m3.8-1.7h1m-4.1 1.7h1m6.4-4h1m-6 .2h1m0-1.9h1m-15 8.4h1m6.4-6.2h1m31 4.1h1m-31.2-5.2h1m-6 1.9h1m17.1-4.2h1m12.9 2.9h1m-38.2 3.2h1m15.2-5.2h1m-6.5 5.4h1m-15.7-1.7h1m31.5-3.2h1m-10.9 1.2h1m.2 .1h1m-11.7 1h1m14.7-1.1h1m-13.9-.7h1m4.1 1.2h1m-13.5-1.7h1m-2.4-.6h1m32.2 2.9h1m-25 2.1h1m9.4-5.5h1m-5.2 3.5h1m-6.3-1.5h1m-1.9-.7h1m13.8 4.2h1m-13.1-3.2h1m.9 4.6h1m1.3-5.2h1m14 2.7h1m-7.5-1.4h1m-4.8-1.2h1m-13.3 3.1h1m-11.7-1.8h1m29.3 1.8h1m-.7-1.5h1m-15.4-2.4h1m7.8 2.3h1m2.2 .3h1m-.4 2.1h1m.2-4.3h1m-18.9 2h1m24.6-3.9h1m-36.9 5.5h1m26.4-4h1m-5.8-1.7h1m4 4.1h1m12 2.6h1m-6.1-6h1m-35.2 1h1m-8.1 .8h1m31.6-.9h1m-24.8 3.5h1m12-2.8h1m10.1 .2h1m-33.3 3h1m-7-3h1m29.8 2.7h1m-3.8-3.2h1m-4.8-.6h1m2.7-1.4h1m-12.7 8.5h1m-9.5-5h1m16.5 1.3h1m-11.4-.7h1m-9.8 .5h1m27-.3h1m-8.4 4.3h1m5.1-6.8h1m-19.2-1.2h1m3.3 1.3h1m-5.4-.8h1m.5 4.8h1m13 .2h1m-13.7-4.1h1m13.8-1h1m-1.2 2.4h1m20.9 4h1m-45.4-9.7h1m28.6 7.7h1m-13.7-3.7h1m0 4.9h1m-19.6-4.9h1m11.8 1.8h1m14.7-2.8h1m-11.8 1.3h1m1.2 5.4h1m-5.9-1.3h1m17.8-2.8h1m-16.3-1.1h1m-29.3-2.4h1m18.6 3.5h1m-17.6 .8h1m-17.7-.1h1m34.4 0h1m23.2-2.4h1m-17.7 2.4h1m-16.8 .1h1m2 3.1h1m25.9 1.3h1m-13.7-4.6h1m-2.4-1.5h1m-2.3 1.7h1m-11.2 21.2h1m-2-12.1h1m4.4 .4h1m-8.8 6.3h1m12.1-5.4h1m-6.6 8.3h1m1.8-2.5h1m-4.5-7.1h1m-5.3 5.9h1m-2.8-2.5h1m4.7 7.6h1m-3.5-9.3h1m5.3 1.2h1m-2.9 9.9h1m-11.9 6.1h1m10.4-1.4h1m-12.2-11.6h1m4.8 .9h1m1.5 7.9h1m-15.2-9.9h1m16.3-5.2h1m-.5 6.6h1m-3.5 2h1m-3.1-7.7h1m-.6-4.9h1m-5.8 1.3h1m4.6 12.6h1m-3.2-8.6h1m4.1 3.8h1m-11.3 2.1h1m10.5 2.4h1m-1.8-5.7h1m-3.2 5h1m-3.4-8.3h1m6.9 3.1h1m-18.7-3.9h1m16 12.9h1m-2.8-7h1m-.6-4.2h1m-.2 2.3h1m-9.3 .8h1m2.1 5.5h1m6.2-13.8h1m-2.7 3.4h1m-2.7 3.9h1m-14.8 17.5h1m15.4-9.5h1m4.1-6.4h1m-2.3 5h1m-7.2 8h1m-15.4-13.7h1m19-.8h1m-9.7 9.5h1m-20.1-4.3h1m22.3 1h1m-15.9-7h1m.5 14.5h1m4.3-1.2h1m14.3-6.9h1m-14.2 .7h1m4.2-16.3h1m10.8 16h1m-2.2-5h1m-14.6 3.8h1m-2.1 1.5h1m-9.2-6.1h1m3.5-8.1h1m8 12.3h1m-1.2-6.6h1m-3.3 2.4h1m6.1-1.6h1m-15.2 1.6h1m4.8-11.9h1m5.2 21.2h1m-2.1-5.8h1m2.9 5.2h1m-6.4 5.2h1m-6.7-11.8h1m4.4-10.9h1m-11.9 5.4h1m-6.1-1.8h1m16.7 4.2h1m-6 3.5h1m1.9-12.5h1m-17.1 14.1h1m9.7-11.2h1m-2.9 10.9h1m-3.1-2.5h1m-12.1-1.2h1m14.3 1.5h1m8.9-2.8h1m-5.2-.5h1m-8.8-6.4h1m3.7 9.9h1m5.2 11.3h1m-29.2 .8h1m20.1-4h1m4.3-3.7h1m.2-8.3h1m7.1 12.8h1m-5.5-9h1m-7.6-.1h1m-1.1-1.3h1m2.9 2.3h1m-11.6-3.2h1m3 2.1h1m6.5-6h1m7.5 4.3h1m-18 15.9h1m-.1-14.1h1m1-1h1m8.1 4.6h1m-11.9 1h1m11-10.9h1m-20.5 5.5h1m5.2 6.7h1m-1.1-3.9h1m6.9-.9h1m1.1 8.6h1m-21.5-13.4h1m3.8 4.6h1m9-3.6h1m-9 12h1m-7.9-20.6h1m19.5 7.7h1m-5.3 .8h1m-1.1 7.2h1m-8.7-.4h1m11 4.8h1m-11.1-17.8h1m19.4 29.6h1m-7.3-6h1m-3.2 6.7h1m6.2 5.4h1m-9.7-11.1h1m-8 4.4h1m9.3 5.4h1m-7.8-10.4h1m4.1 7.5h1m5.1-7.5h1m-1.3 13.2h1m6.6 7.1h1m-11.7-1.8h1m-9-13.4h1m3.7 5.7h1m-2-3.7h1m-2.8-.1h1m8.9 8.7h1m-7.5-17.2h1m-9 14.2h1m15.1-6.6h1m-5.9 8.8h1m1.8-7.4h1m-2.5-5.1h1m2.2 5.7h1m-4.6 2.7h1m6.2-4.2h1m-5.9 2.7h1m-1.1-6h1m-.9-9.7h1m-12.2 18.2h1m6.7-1.2h1m-1.6-3.3h1m1.8-.5h1m-10.4 5.8h1m17-8.9h1m-10.2-1.5h1m-8.9 3.1h1m-4 8.2h1m7.6-15.4h1m.2 15.5h1m-4.8-11h1m3.9-2.8h1m-5.4 14.2h1m6.1-8.2h1m-8.6-7.2h1m3.1 5.6h1m5.1 7.8h1m8.5 1.6h1m-22.4-9.8h1m2.2 5h1m-3.2 1.9h1m8.7-8.2h1m-12.6 6h1m3-2.3h1m1.7-3h1m-6.7 .2h1m-.8 3.4h1m1.8-.2h1m-10.7-3.6h1m2.9 .8h1m5.2 9.3h1m2.4-5.4h1m-3 4h1m-10.5 1.9h1m6.8-3.7h1m6.6 10.1h1m-2.5-18.6h1m-4.8 9.9h1m-5.8-6.8h1m8.1 13h1m-8.3-.9h1m-4.5-21.9h1m1.2 5.9h1m12.5 9.8h1m-8.4 .7h1m4.7-.3h1m-10.9-4.8h1m7.5 3.1h1m-10.2 1.2h1m1.7-4.4h1m14.8 6.7h1m-11.3-19.8h1m-8.6 17.4h1m1.5-10h1m1.5 12h1m4.3-7.2h1m-11.2-3.9h1m-8.5 7.5h1m7.7-7.7h1m.8 0h1m-.4-3.9h1m6.2 9.2h1m-7 3.2h1m2 3.1h1m-12.5-7h1m10.8 7.2h1m6.4-6.2h1m-9-.7h1m-4.1 4h1m-1.6 3h1m8.8-8.4h1m-17.3 .5h1m3.9 .5h1m2.5 1.5h1m.7-5.9h1m-8.1 11.6h1m3.4-8.6h1m-4.5 5.2h1m1.4-7.8h1m-.5-32.6h1m-19.7 3.2h1m4.5 2.4h1m2.2 1.3h1m21-6.7h1m-33.9 2.7h1m22.6-6.2h1m-21.4 4h1m28.2 6.5h1m-26-9.3h1m4.6 8.3h1m17.6-2.4h1m-11.3-4h1m-29.9 5.4h1m1.1-5.4h1m41.7 6.6h1m-49-8.9h1m12.5 .4h1m31.9 7h1m-48.1-3.4h1m6.3-3.3h1m1.6 4h1m-7.4-2.3h1m18.3 2.7h1m5 2.2h1m-14.7 1.2h1m-11.5-8.8h1m34.1 5.9h1m-1.3 4.3h1m-13.1-5.7h1m-22.2 3.4h1m19.2-7.4h1m3.4 8.5h1m-11.1-3.2h1m20.8 3.4h1m-24.7-1.1h1m5 .9h1m-20.8-9h1m21.5 7.3h1m9.1-5.7h1m-2.7 .7h1m-24.8 .7h1m35.8 2.9h1m-14.6 .4h1m-15.8 3.3h1m-1.5-10.1h1m17.3 2h1m-31.2 1.9h1m22.2 5h1m2.9-3h1m-11.1-.4h1m16.9 2.8h1m-21.3-1.2h1m-1.2-4h1m-10-2.2h1m30.8 4.1h1m-31.2 4.6h1m18-3.1h1m-15.3-6h1m25.3 4.2h1m-.4-.6h1m-46.9 2.2h1m47.2 .1h1m-20.5 4h1m-27.5-6.8h1m20.2 .8h1m-23.4 2.2h1m23.9 3.1h1m-19.1-2h1m8.1-2.6h1m27.7 16.2h1m-29.4-16.9h1m40.2 10.8h1m-59.6 15.6h1m-14.3 18.4h1m59.4-7.6h1m-46.8-42.9h1m46.3 21.2h1m-21.5 1h1m-9.6 33.3h1m-37.3-60.5h1m59.1 28.4h1m-62.9 27.1h1m76.3-34.6h1m-8.6-9.2h1m-50.3 19.7h1m-16.1-15.8h1m64.2 40.7h1m-35.9-56.4h1m-31.6 8.1h1" stroke="#5050b8" stroke-width="1" stroke-opacity="0.33" fill="none"/>
<path d="M112.3 398.3h.8m-26.5 14.8h.8m9.7-10.6h.8m4.7 .7h.8m-5.8 .8h.8m-2.1 4.5h.8m6.9 1.3h.8m-2.4-3.4h.8m-2.7-2.1h.8m-14.9 3.9h.8m11.1-6.4h.8m-5.9 2.1h.8m5 5h.8m2-7h.8m3.3 .5h.8m-.2-2.8h.8m-9 7.4h.8m10.7-2.3h.8m-2.3-6.4h.8m-.5 1.1h.8m.1-2.3h.8m-8.4 10.5h.8m-3.9-4.7h.8m5.7-4.3h.8m-15.9 8.1h.8m9.7-6.4h.8m-2.8 7.8h.8m3.5 4.8h.8m-15.5-3.7h.8m7.9 1.6h.8m4-5.3h.8m3.1-7.1h.8m1.2 1.7h.8m-7.9 4.4h.8m-2.2-.7h.8m-1.1 9.3h.8m1.5-14.8h.8m-1.6 8.5h.8m4.9-3.6h.8m5.4-6.9h.8m-11.6 9h.8m-9.5 7.8h.8m2.4-4.4h.8m-4.4 3h.8m1.4-.3h.8m11.7-17.1h.8m-2.6 13.4h.8m-11.2 9.1h.8m11.7-12.1h.8m3.3-2.4h.8m-15.4 .3h.8m-.9 4.6h.8m.4-3.1h.8m3.7-2h.8m4 2.6h.8m.1-6.7h.8m.4 1.6h.8m-3.7-4.5h.8m3.1 3.8h.8m-5.1 3.5h.8m-16.7 6.7h.8m8.5-5.6h.8m6.2 4.9h.8m-10.2-5.2h.8m8.1-4.8h.8m-9 5.8h.8m-1.4 7.4h.8m16.4-7.2h.8m-8.7-1.4h.8m-5.4-.9h.8m4.3-2.1h.8m2.4 3.3h.8m-8.6-2.2h.8m-4 10.1h.8m-1.4-4.4h.8m-3.5 3.6h.8m7.3-4.5h.8m7.1-1.9h.8m-16.1 0h.8m-1.7 8.4h.8m18-16.7h.8m-18 8.9h.8m-4.7 5.4h.8m8.6-6.7h.8m-.8-2.7h.8m-9.3 2.9h.8m10.2-4.3h.8m-5.6 11.3h.8m-2.9 3.1h.8m4.5-7.8h.8m4-1h.8m-12.8 1.2h.8m6.3-2.7h.8m-3.1 2.6h.8m16.6-15.2h.8m-24.3 14.4h.8m14.9-5.6h.8m-11 4.7h.8m-2.5-1.6h.8m7.1 .3h.8m-.6-2.4h.8m3.6 1.8h.8m-8.6 1.2h.8m-7.5 2.9h.8m.3 .9h.8m5.7-5h.8m-1-1.6h.8m5-2.6h.8m-5.5 6.9h.8m3.3-2.8h.8m3.2-.2h.8m-14.4-2.2h.8m-9.8 10h.8m1.2-1.3h.8m-1.6 2.5h.8m18.4-13.8h.8m-17.2 9.7h.8m15.1-5h.8m-6 1h.8m4.7-8h.8m-1.7 9.3h.8m-8.7 3.6h.8m-3.9-3.7h.8m3.3 2.5h.8m-2.7-4.4h.8m-2.6 7.6h.8m.4-5.4h.8m9.3-8.1h.8m-22.3 14.4h.8m11.7-8.9h.8m-7.1 7.1h.8m6.5-4.4h.8m3.4-3h.8m-7.7 2.1h.8m-.1-11.3h.8m-10.8 19.1h.8m14.2-15.9h.8m-9 12.4h.8m8.8-2.7h.8m-5.1-.4h.8m-20.3 9.4h.8m11.8-6.8h.8m5.8-3.8h.8m7.4-6.5h.8m-9.3 5h.8m-1.5-.7h.8m-8.7 12.1h.8m16.3-14.5h.8m3.3 1h.8m-14.6 4h.8m-2 1.9h.8m-10.5 5h.8m16.9-8.5h.8m11.9-6.3h.8m-14.9 6.4h.8m1.4-4.5h.8m-5.8 2.6h.8m-7.2 12.4h.8m11.7-14.3h.8m-18 10.3h.8m8.8 .4h.8m1.8-2.9h.8m2.4-3.9h.8m-5.3-.5h.8m3.2 7.2h.8m-11.5-.4h.8m-4.1 2.5h.8m7.1-7.3h.8m-7.8-.1h.8m-4.7 2.6h.8m2.2 4.3h.8m4.3-3.1h.8m-10.9 3.8h.8m1.2-4.4h.8m-3.2 .5h.8m13.1-4.5h.8m-1-3.8h.8m13.5-.4h.8m-23.8 14.8h.8m7.2 1h.8m6.9-11.4h.8m-10.7 .7h.8m-1.9-.2h.8m8.8-14.8h.8m-10.1 15.5h.8m-5.6 4.4h.8m-.1 3.6h.8m9.7-7.6h.8m-1.1 .1h.8m-12.5 5.8h.8m2.4-.4h.8m10.6-4.1h.8m-4.4-6.7h.8m-8 6.5h.8m6.2-7.5h.8m3.5 8h.8m-17 8.6h.8m8.2-7.3h.8m1-7.9h.8m-5.3 7.4h.8m-11.9 5.3h.8m12.1-6.7h.8m5.7-4.8h.8m5.9-1.5h.8m-27.5 12.8h.8m33.3-16.1h.8m-26.8 13.4h.8m12.3-9.7h.8m1.4-.6h.8m-3 .1h.8m-4.4 6.6h.8m-11.3 2.5h.8m12-5.8h.8m-10.8 3.7h.8m-14.6 4.4h.8m38.7-15.3h.8m-18 3.4h.8m9.3 0h.8m-19.4 10.3h.8m11.9-14.9h.8m1.1 1.4h.8m-.4 1.2h.8m-11.8 5.6h.8m-9.3 3.8h.8m9.1 .8h.8m-15.9 5.6h.8m3.5-.4h.8m9.9-9.3h.8m-6.9 6.3h.8m3.1-6.1h.8m.7 1.7h.8m13.8-6.7h.8m-5.9 1.2h.8m-10.5 4.1h.8m6.6-6.7h.8m-12.2 11.3h.8m2.5-1.4h.8m6.6-6.5h.8m-16 7.3h.8m7.7-.5h.8m-4.8 9.2h.8m4.5-12.9h.8m10.3-4.5h.8m-16.6 9.7h.8m1.1-11.5h.8m-4.1 11.4h.8m-3.8-1.1h.8m1.9 5.7h.8m14.6-15h.8m4.5-5h.8m-12.5 9h.8m-8.2 5.8h.8m7.5-7.6h.8m-6.9 5.5h.8m4.8-7.9h.8m-2.5 5h.8m.7 2.6h.8m3.2 1.7h.8m-10.7 1.5h.8m-.3-1.8h.8m-8.2 7.7h.8m7.5-5.6h.8m-6.3 5.6h.8m6.8-6.6h.8m-8.1 .1h.8m6.9-3.2h.8m1.4-1.7h.8m-13.1 7.9h.8m3.1-2.7h.8m-3.2-2h.8m8.4-10.2h.8m7.9-.2h.8m-8.6 0h.8m-5.6 10.2h.8m11.2-7.5h.8m-23.3 7.7h.8m23-6.1h.8m-14.9 9.2h.8m-16.2 6.5h.8m37.9-17.8h.8m-7.7 4.9h.8m-23 2.5h.8m10.7 1h.8m-4.3 0h.8m1.3-1.3h.8m-10.6 7.7h.8m2-7.5h.8m7.1-4.3h.8m-2.8 .4h.8m5.9-3.8h.8m-7.3 6.2h.8m12.3-12.6h.8m-20.7 13.4h.8m8.2 .2h.8m-16.3 7.1h.8m4.3-1.5h.8m13-16.2h.8m-14.3 12h.8m9.4-5.4h.8m-3.9 3.9h.8m-8.3 2.4h.8m6.2 1.1h.8m-3.4-1.9h.8m-.5 .1h.8m7.5-5h.8m-.4 2.2h.8m-10.9 1.9h.8m-.5 5.4h.8m6.1-6.5h.8m-3.8 .8h.8m6.5-4.8h.8m10.9-5.3h.8m-12.2 8.5h.8m-6.8 3.4h.8m-2.6-.9h.8m-4.6 4h.8m-2.3-1.8h.8m.3 3.4h.8m1.3-5.8h.8m-4.2-5.1h.8m12.3 4.1h.8m-10.3 1.4h.8m-1.4-4.1h.8m-6.2 6.6h.8m17.3-13.3h.8m-3.8 12.3h.8m5.3-9.3h.8m-10.6-1.3h.8m7.1 2.6h.8m-13.9 4.6h.8m9.3 2h.8m7.9-15.6h.8m-29 12.7h.8m18.9-3.7h.8m2-3.1h.8m-9.4 4.9h.8m-1.2-5.8h.8m6.6 4.6h.8m-11.9 11h.8m.9-13.6h.8m-4.7 13.2h.8m-2.2-5.3h.8m4.1 7.3h.8m-.5-6.9h.8m.2-2.8h.8m3.3 2.1h.8m-14.5 6.2h.8m20.7-16.9h.8m-4.4 6.8h.8m-5.6-1.4h.8m-10.2 1.2h.8m6.9 8.7h.8m-.1-8.8h.8m-2.1-.1h.8m-13.7 11.1h.8m12.9-14.9h.8m14.4-8.4h.8m-32.1 21.8h.8m18.6-11.7h.8m-4.2 4.1h.8m-2.4 4.6h.8m6.9-10.2h.8m-16.9 13h.8m8.6-5.2h.8m5.6-9.7h.8m-10.2 10.2h.8m-4.1-2.1h.8m5.9 3h.8m-5.6 .7h.8m12.3-9.3h.8m-19.8 6.6h.8m13.7-3.6h.8m-16.8 6.5h.8m14.7-4.1h.8m-7.4 1h.8m-18.9 8.5h.8m19.6-6.2h.8m-8.4 3.9h.8m1.4-6h.8m15.6-3.7h.8m-21.3 7.2h.8m-.5-.2h.8m17.1-9.2h.8m-11.3 3.2h.8m9.5-5.1h.8m-8.7 5.8h.8m-6.5 9.3h.8m4.8-3.5h.8m5.4-9.8h.8m.1 6h.8m-9.9-.4h.8m.2 .9h.8m-1.1 1.9h.8m-4.9 .4h.8m19.7-4.9h.8m-17.4 2.4h.8m-10.8 1h.8m7.5 3.7h.8m4.9-9.4h.8m-1.3 .7h.8m-10.3-3.7h.8m1.8 12.4h.8m3.6-3.3h.8m-12.5 7h.8m2.1-1.1h.8m14.7-6.9h.8m-12.3 .9h.8m6.6-1h.8m2.4-7.8h.8m-4.1 3.3h.8m-2.9 6.2h.8m12.6-10.4h.8m-13.5 1.6h.8m-5.2 8.6h.8m5.8-5.9h.8m-4-.3h.8m-7.5 8.5h.8m4.3-6h.8m-4.3-2.1h.8m-12.4 8.7h.8m15.9 0h.8m-6.6-8h.8m.8 5.1h.8m-8.5 6h.8m8.1-5.3h.8m-1.5-6.1h.8m1.6 1.8h.8m-8.6 6.3h.8m12.4-5.7h.8m-15.8 4h.8m5.3-5.5h.8m13-.7h.8m-14.4 8.5h.8m-.6-2.6h.8m8.5-9.1h.8m-9.2 8.6h.8m-.7-1.1h.8m3.9-.3h.8m1.7-8.7h.8m-21.1 16.9h.8m8.3-6.4h.8m-3.5-1.7h.8m.7 3.7h.8m.5-1.4h.8m-1.4-1.2h.8m8.3-2.6h.8m-11.8 .2h.8m8.3-.6h.8m1.8 .1h.8m-8.8 4.2h.8m6.4-1.5h.8m6-12h.8m-10.3 4.6h.8m-4.7 8.4h.8m3.5-1.8h.8m-4.1 7.8h.8m5-8.7h.8m.9-6.3h.8m-9.7 11.2h.8m.9-6.7h.8m7.2-7.1h.8m-5.5 17.2h.8m.4-8.7h.8m-8.5 5.9h.8m.4-1.2h.8m3.2 2h.8m14.9-14.8h.8m-16.7 12.8h.8m-5-5.3h.8m-1.6-.8h.8m6.2 5.6h.8m4.8-3.1h.8m-5.4-.6h.8m11.2-8.3h.8m-13.2 7.3h.8m6.1-7.2h.8m-5.2 10.4h.8m.1-3.5h.8m-14.8 7.8h.8m7.8-5.6h.8m.7 1.5h.8m-2.8-.7h.8m-13.2 8.3h.8m16.5-17.1h.8m-6.7 9.4h.8m1.5 4.5h.8m-3.8-7.7h.8m0 .9h.8m5 .1h.8m-11.9 6.9h.8m.9-2.3h.8m3.9-10.6h.8m1.5 6h.8m-6.8-2.2h.8m-1.6 1.7h.8m-.4 4.6h.8m3.1-5.3h.8m9.1-2.2h.8m1.5-1.4h.8m-5.4 2.6h.8m-12 1h.8m7.8-4.3h.8m-16.4 8h.8m-1.8 2.4h.8m1.3-3.2h.8m5.7-2.5h.8m.5 .9h.8m-3.3-1.3h.8m2.7-3.5h.8m-15.7 9.1h.8m19.6-5.9h.8m-14.2 6.7h.8m5.8-.6h.8m.9-1h.8m-8-.5h.8m-.6 3.4h.8m-1.7-6.9h.8m11.6 5.6h.8m1.6-5.2h.8m-3.2-3.5h.8m-12.6 3.8h.8m2.9 3.2h.8m-5.1-5.3h.8m10-2.7h.8m-15.1 13.9h.8m20.1-14.9h.8m-13.2 5.5h.8m-.6 4.9h.8m3.7-9.6h.8m5.8 .6h.8m-6.6 .7h.8m3.4-3.7h.8m-4.9 7.1h.8m4.3-8.2h.8m3.8 7.4h.8m-13.7-1h.8m13.5 .4h.8m-14.1-2.8h.8m1.3 4.7h.8m-10.3-.6h.8m3.2-2.9h.8m8.6-.4h.8m-13.9 9.7h.8m9.3-12.9h.8m1 7.5h.8m-4.4-4.8h.8m-15.9 12.4h.8m13.6-7.8h.8m4.6-2.5h.8m-14-.5h.8m10.2 5.4h.8m-18.9 7.2h.8m18-14.8h.8m-10.6 3.8h.8m8.4-7.9h.8m-18.4 11.8h.8m19.1-5.3h.8m-8.4 1.5h.8m5-6.3h.8m-11.5 8.6h.8m4.5 4.1h.8m15.4-16.4h.8m-21.8 11.7h.8m3.1 4.5h.8m.7-4h.8m-6.5 1.9h.8m13-10.5h.8m1.3-4.6h.8m-16.4 10.7h.8m-6.6 5.9h.8m19-11h.8m-.3 1.8h.8m-2.5 1.6h.8m1-2.2h.8m-14.4 8.2h.8m2-6h.8m-10.7 1.9h.8m1.5 4.4h.8m14.6-10.8h.8m-11.4 7.4h.8m19.5-10.9h.8m-17 6.4h.8m-5.4 3.2h.8m10.4-3.2h.8m6.2-3.4h.8m-10.8 3.3h.8m-10.4 9.8h.8m8.7-8.3h.8m4.7-6h.8m-11.6 10.2h.8m.1 5.8h.8m7.3-13.7h.8m-3.9 8.2h.8m-8.7 5.6h.8m4.2-2.6h.8m-6.9-4.5h.8m10.6 3.1h.8m-5-4.1h.8m5.6-5.2h.8m-3.7 1.9h.8m-14.7 11.2h.8m11.5-9.3h.8m2.1-2.6h.8m-1.5 5.6h.8m0-7.5h.8m-11.9 5.5h.8m-.6 6.4h.8m11.6-7.8h.8m-13.5 9h.8m-11.5-1.2h.8m23.8-7.2h.8m-13.4 5.4h.8m4 1.7h.8m-12.8-3.4h.8m2 3.5h.8m-.5-2h.8m2.5-6.5h.8m5.5-.7h.8m2.1-.9h.8m-14.1 7.1h.8m2.4 3.6h.8m11.1-6.7h.8m-5.9 3h.8m-13.3 1.3h.8m22.9-11.7h.8m-17.2 13.7h.8m4-8.8h.8m-1.2 0h.8m9.7-.8h.8m-12.1 9.3h.8m4.8-12.8h.8m-14.8 3.3h.8m13.5-4.5h.8m-12.8 8.7h.8m3.3 .6h.8m15.4-7.1h.8m-12.5 4.3h.8m-3-.5h.8m14.7-6.4h.8m-15.1 4.7h.8m-7.2 7.1h.8m8.6-7.8h.8m-8.5 16.2h.8m11.8-14h.8m-2.8-4.6h.8m-13 6.7h.8m-.3 1.7h.8m2.7-6.3h.8m-.4 3h.8m-7.5 3.9h.8m12.1-2h.8m-20.3 7.1h.8m9.4-7.4h.8m-1.5-1.5h.8m.4-.1h.8m4.8 .5h.8m-11.3 5.8h.8m13.4-3.8h.8m-8.7-1.5h.8m-1.3 6.2h.8m-6.8 .9h.8m0-1.5h.8m6.4-11.3h.8m-8.5 7.2h.8m9.2 1h.8m6.9-2.3h.8m-2.9-2.9h.8m3.6-.7h.8m-15 4.4h.8m-6 3.3h.8m12.8-9.2h.8m-3 7.1h.8m3.6-4.9h.8m-9.1 3h.8m7-5h.8m-1.8 3.6h.8m-2 0h.8m-4-2.2h.8m2.4 7h.8m-4.1-3.1h.8m-1.3-.6h.8m6.6 .7h.8m-11.5 4.9h.8m12.5-11.9h.8m-12.2 9h.8m4-8.5h.8m-7.3 5.4h.8m-4.3-3.5h.8m19.8-.2h.8m-21.3 1.4h.8m-3.3 10.5h.8m.6-6.2h.8m1.7-1.9h.8m16.9-8h.8m-13.1 9.1h.8m4.6-2.1h.8m-12 10.8h.8m6.1-9.1h.8m2.2 .1h.8m4.4-8.4h.8m-15.5 13.4h.8m7.1-6.6h.8m-3.8-.4h.8m-9.1 6.3h.8m6-4h.8m-2.1 1.6h.8m-14.2 8.9h.8m17.3-14.1h.8m-1.5-.4h.8m-5.1 7.8h.8m-10.6-2.7h.8m19.7-8.5h.8m-5.5 10.4h.8m-2.4-13.9h.8m5 3.6h.8m-11.6 11.3h.8m4.5-11.4h.8m-1.3 15.1h.8m-7.6-14h.8m5.2 10.4h.8m0 0h.8m5.7-6.1h.8m-9.2 1h.8m-1.8 2.6h.8m-3.5-2.7h.8m5.9 1.9h.8m-12 0h.8m3.1 .6h.8m4.2 1.5h.8m-7.5-3.4h.8m3.3 .1h.8m-3.2 3.4h.8m14.3-14.4h.8m-1.4 9.2h.8m-8 1.4h.8m-7-2.8h.8m16.5-5.2h.8m-14.4 5.6h.8m-3.4 2h.8m2.9 .3h.8m-2-2.1h.8m9.2-.1h.8m-12.9 1.5h.8m16-4.2h.8m-22.4 9.3h.8m11.2-4h.8m-14.3 3.2h.8m18.1-11.2h.8m-16.2 7h.8m3.7 3.3h.8m6.3-3h.8m3.3 1.7h.8m-17.9 7.4h.8m2.7-5.8h.8m-8.6 3.1h.8m10.4-4.7h.8m-3-.1h.8m-.2 4.9h.8m-3.8 0h.8m-1.6-5.8h.8m-3 1.8h.8m10.9 .2h.8m4.2-6.7h.8m-24.7 12.5h.8m13.6-3.7h.8m-5.3-2.8h.8m5.5-3.4h.8m-10.8 5.3h.8m2.3-7.1h.8m-2.4 10.9h.8m7.6-12.3h.8m-3.8 4h.8m-2.8 .6h.8m5 1.7h.8m-6.2 .4h.8m-9.4 5.5h.8m11-13h.8m-.4 5.3h.8m-5.9-1.8h.8m9.6 0h.8m.8-.8h.8m-16.8 8.3h.8m4.4 4.1h.8m12.5-13.3h.8m-1.6 .7h.8m-15.9 7.5h.8m-4.3 .9h.8m4.6 .8h.8m.4-.2h.8m-11.8-1.8h.8m13.6-.4h.8m-10.4 3.9h.8m.4 .8h.8m12.6-9.8h.8m-14.1 2h.8m3.4-2.2h.8m8.5 4.9h.8m-2-4.8h.8m-11 .3h.8m4.4 3h.8m-7.7 1.7h.8m14.1-14.2h.8m-8.8 3.3h.8m-11.5 8.8h.8m9.5 .4h.8m3.5-3.7h.8m-2.7 .4h.8m9.1-4h.8m-3.4 2.6h.8m-17.8 .8h.8m5 2.8h.8m-9.5 3.4h.8m8.8-7.2h.8m-.4 2.2h.8m16.9-9.2h.8m-18.5 10.1h.8m-17.2 5.8h.8m10.2-3.2h.8m8.3 3.2h.8m-14.7-2.4h.8m.8-3.2h.8m5.6 3.1h.8m4.4-2h.8m-4.4 1.7h.8m-8.1-1.2h.8m13.7-1.3h.8m-12.4 .7h.8m-1.1-1h.8m-5.9 4.9h.8m4-1.1h.8m10.1-3.7h.8m-16.2 8.9h.8m8.6-7.9h.8m5.9-.7h.8m-9.4 2.2h.8m4.6-.4h.8m-13.4-.4h.8m15.1-10.2h.8m1.5 6.9h.8m-10-2.1h.8m-12.4 10.8h.8m4.3-2.4h.8m12.1-9.1h.8m4.2-2.8h.8m-7.5 10.4h.8m-.5-13.9h.8m-7.9 16.2h.8m4.2 2h.8m-3.1-6.6h.8m2-1.8h.8m-12.7 9.7h.8m17.4-7.1h.8m-2.9-9.3h.8m-15.3 13.2h.8m-2.6 .2h.8m11.7-5h.8m-8.1 3h.8m-11.5 8.2h.8m18.8-15.5h.8m-4.5 3.8h.8m-6.1 .7h.8m16.5-10.4h.8m-13.2 9.3h.8m-6.8 3.6h.8m3.4-6.1h.8m-4.2 11.6h.8m-1.6-5.5h.8m4.9-7.8h.8m-3.2 10.2h.8m-3-5.2h.8m15.3-5.3h.8m-7 1.9h.8m-.7 .9h.8m-2.8 .9h.8m-2.3-1.7h.8m6.7-2.3h.8m-7.6 11h.8m5.1-18.5h.8m-16 17.2h.8m4.5-1.9h.8m-10.6 .7h.8m5.6-4.9h.8m10.4 5.6h.8m1.5-10.3h.8m-11.1 14.8h.8m1.3-6.6h.8m-4 .2h.8m-2.7 2.6h.8m-3.6 2.2h.8m8.4-3.6h.8m-13.9 5.3h.8m11.1-8.2h.8m-1.4 .5h.8m-3.5 5.7h.8m-4 .1h.8m-6.1-3.2h.8m21.5-12.2h.8m-20.8 15.4h.8m17.2-14.1h.8m-6.9 4.5h.8m-8.1 2.4h.8m-5 5h.8m14.9-7.1h.8m4.7-1.3h.8m-20.1 8.2h.8m6.6 2.7h.8m4.9-10.9h.8m-.5 11.3h.8m6.9-12.4h.8m-18.7 9.1h.8m5.1-7.1h.8m-16.4 1.3h.8m25.7-6.6h.8m-19.2 12.2h.8m.8-6.4h.8m4.2 8.5h.8m9.6-13.8h.8m-14.3 11.5h.8m-3.7-9.7h.8m7.4 4.5h.8m5.1-5.3h.8m-10.3 9.3h.8m5.7-5.9h.8m-6.2-1.1h.8m-3 8.6h.8m1.3-2.1h.8m-1.3-.1h.8m-6.5 4.9h.8m13.6-8.3h.8m-19.9 7.5h.8m14.2-13.7h.8m-2.3 .8h.8m-3.5 11.2h.8m-6.3 1.1h.8m1.8-3.7h.8m3.1-4.2h.8m1.7 .1h.8m-3.8 1.8h.8m3.3-3.8h.8m-11.7 5.3h.8m8.9 4.2h.8m-15.8 2.3h.8m13.5-11.5h.8m-6 .6h.8m-3.7 3.8h.8m12-2.6h.8m-3.9 2h.8m-25.8 11.6h.8m18.7-10.8h.8m-11.3 5.1h.8m14.8-12.2h.8m12.5 .4h.8m-22.4 9.7h.8m6.4 3.1h.8m-7.9-7h.8m4.1-.9h.8m2.8 1.5h.8m1.7-5.5h.8m-17.7 6.2h.8m16.9-9.2h.8m-15.9 12.8h.8m7.7-4.2h.8m4.4-4.7h.8m-2.1 4.6h.8m-11.8 6.6h.8m-.3-2.7h.8m.4-1.7h.8m1.5-2.3h.8m8.4-2.8h.8m-16.5 10.8h.8m9.6-9.3h.8m.8 .4h.8m-2.4-1.8h.8m-3.1-2.4h.8m6.9-3.2h.8m-5 8.7h.8m1.2-2.3h.8m-1 4.1h.8m5.1-8.9h.8m-24.3 17h.8m21.2-11.6h.8m-11.6 5.3h.8m-3.4-4h.8m-4.8 3.8h.8m-6.3 4.4h.8m7.4-8.8h.8m-.6 5h.8m8-3.4h.8m-16.3 4.1h.8m22.4-5.4h.8m-12-1.1h.8m-4.2 2.3h.8m-3.9 1.7h.8m-2.1-.9h.8m-1.3 4.3h.8m2.5-3.4h.8m19.6-11.3h.8m-13 1.1h.8m-2-.7h.8m-5.5 7.8h.8m-7.9 12.5h.8m8.7-11.2h.8m-4.6 9.2h.8m11.7-16.1h.8m-10.1 4.6h.8m11.9-13.4h.8m-7.2 8.3h.8m4.8 7.3h.8m-8.8-1.1h.8m-.1 1.8h.8m3.2-2.6h.8m-.1-4.2h.8m-16 8h.8m10.8-5.2h.8m19.7-9.3h.8m-25.7 13.8h.8m-2.2 1h.8m-5.6 1.1h.8m-9.8 .4h.8m24.2-12.3h.8m-12.6 3.5h.8m6 6.3h.8m5.7-20.6h.8m9.7 3.9h.8m-14.2 7.4h.8m-6.6-.8h.8m-.1 5.6h.8m3 4.7h.8m-8.8-3h.8m15.6-5.7h.8m-10.8 3.3h.8m-4.4-.4h.8m15.7 9h.8m-11.2-10.3h.8m-6.2 0h.8m-1.9 .9h.8m14.1-4.3h.8m-11.9 6.8h.8m-5.4 4.7h.8m-9.2 1.7h.8m.1-9h.8m-2.5 11.6h.8m7.7-9.6h.8m.6-.7h.8m-24.4 7.7h.8m19.9-7.6h.8m4.5-4h.8m-3.5 5.3h.8m-14.2 .5h.8m22.8-6.1h.8m-18.3 10.9h.8m-8.6-2h.8m1.7 1.2h.8m8.3-6.7h.8m12.3 1.5h.8m-7.3-14.5h.8m-4.2 13.8h.8m-16.6 2.4h.8m7 1.9h.8m0 6.4h.8m2.2-9.7h.8m-13.3 11.6h.8m13.8-14h.8m10.6 8.1h.8m-10.4 .2h.8m5.2-2.5h.8m-19.2-2.1h.8m-4.9 3.7h.8m11.7 4.2h.8m12.4-14.7h.8m-2.1 .4h.8m-12.8 10.4h.8m10.4-15.3h.8m-9.8 16.3h.8m14-12.9h.8m-9 7.4h.8m-12 .5h.8m13.3-2.1h.8m-17.8 3.7h.8m1.6 7.4h.8m-5 3.5h.8m14.1-10.1h.8m-4.6 .1h.8m-.7 .6h.8m-11.7-11.4h.8m24.2 4h.8m-20.2 5.7h.8m-2.6 3.1h.8m16-12.2h.8m-1.8-5.3h.8m-8.5 9.2h.8m-16.7 16h.8m11.3-3.2h.8m5.2-14.6h.8m-6.8 2.1h.8m18.6 1h.8m-32.6 6.6h.8m24.6 .6h.8m-17.3-.9h.8m14.5-14.2h.8m-8.9 14.9h.8m10.8-3.2h.8m-23.3-3.3h.8m-2.3 7.1h.8m8 4.2h.8m-9-5.1h.8m16.4-16.7h.8m5.3 7.4h.8m-9.3 7.5h.8m-2.5 5.2h.8m-8.3-.9h.8m16.2-15.3h.8m-11.7 5h.8m1.3 0h.8m-10.1 2.7h.8m-14 10.9h.8m5-15.7h.8m2.6 12.6h.8m12.1-8.8h.8m2.8 11.7h.8m-13.1-2.3h.8m0-7.1h.8m19.2-6.4h.8m-27.7 6.6h.8m1 2.2h.8m2.4-8.7h.8m2.8 15.5h.8m-.4-4.7h.8m3.7-12.2h.8m12.6-2.1h.8m-15.2 11.7h.8m-.5-.8h.8m-4.9-4.2h.8m-1.2 1.4h.8m-.4 3.7h.8m13.2-4h.8m-18.2 1h.8m1.6-2.9h.8m5.7 8.2h.8m-4.7-8.7h.8m1.4 9.4h.8m7.8-9.6h.8m-8.4 7.9h.8m2.9 2.4h.8m-5.3-2.9h.8m-9.2 5.5h.8m-3.2-7.6h.8m-2.3 2h.8m13.6-1.4h.8m-6.9 8.4h.8m-4.3 1.3h.8m13.1-3.4h.8m-2.9-9.4h.8m-21.7 11.9h.8m32.2-15.5h.8m-18.1 5.1h.8m-2.2 .4h.8m7.4-10.2h.8m-4.9 13.4h.8m-11.8-4.5h.8m28.2-8.8h.8m-34.8 10h.8m13.9 4.7h.8m2.7-13.5h.8m-13.6 17.7h.8m2.1-14.8h.8m6.3 1.9h.8m21.2-4.5h.8m-35.1 10h.8m8.8-1.2h.8m4.3-5.9h.8m-10.3-4.1h.8m-6.2 17.2h.8m14-8.2h.8m-7.2-4.4h.8m6.3 4.8h.8m2.1-9.2h.8m-2.4-.1h.8m-3.8 7.2h.8m-3.3-2.2h.8m-6.9-1h.8m7.8 7.1h.8m-5.8 4.4h.8m-3.3-14.4h.8m-8.5 5.9h.8m25.8-3.7h.8m2.3-7.4h.8m-21.6 17.1h.8m8.1-1.3h.8m-10.1-2.5h.8m11-10.8h.8m-12.2-2.1h.8m3 13.5h.8m-6.2-2.9h.8m5.3 3.1h.8m-11.2 5.7h.8m10.5-15.4h.8m-5.9 19.8h.8m8.9-9.3h.8m-5 1.2h.8m3-13.2h.8m-8.9 9.1h.8m8.2-6.2h.8m-18 11.1h.8m11.3-11.1h.8m-4.6 10.6h.8m2.5-3h.8m-1.6 1.2h.8m4.9-8.2h.8m-4.6 6.1h.8m-24.1-1.7h.8m28.4-6.4h.8m-28 19.5h.8m10.4-1.2h.8m-9.9-1.3h.8m29.2-17.8h.8m-28.2 14.3h.8m15-2.4h.8m-9.3-.9h.8m-12.5 6.3h.8m12-8.5h.8m11.3-.3h.8m-11 .3h.8m6.6-10.6h.8m-7.1 16.1h.8m-.6-7.2h.8m-1.8 6.3h.8m5.8-3.9h.8m15.1-5.1h.8m-15 7.7h.8m-6.1-5.5h.8m-7.2 6h.8m-4.7-3.7h.8m26.3-.3h.8m-27 9.1h.8m3.3 2.6h.8m2.5-11.1h.8m-7.9-5.1h.8m29.1 1.3h.8m-18.4 3.1h.8m2.1-2.2h.8m-15.9 12.2h.8m3.3-3h.8m3.8-14.2h.8m16.3 4.1h.8m-27.5 7.4h.8m-6.6 3.8h.8m27.3-5.1h.8m2.3-6.2h.8m-20.5 5.1h.8m-21.3 4.2h.8m37-11.9h.8m-14.8 10.4h.8m9.6-9.6h.8m-14 1.7h.8m-2.8 3.6h.8m-2.5-1.4h.8m20-4.6h.8m.3 2.6h.8m-25.9 6.7h.8m26-10.9h.8m-19.4 12.9h.8m-12.3 1.1h.8m12.4-5.9h.8m3.6 9.6h.8m-5.3-7.7h.8m-2.6 4.8h.8m-2.4-6.1h.8m-1 2.6h.8m2.1-11.2h.8m-7.1 12.9h.8m6.8 2h.8m2.7 2.8h.8m10.1-11.4h.8m-10.4 3h.8m-6.7 .1h.8m3.5-6.1h.8m-.9 2.5h.8m7.1-.7h.8m-9.3-2.3h.8m14.9-.2h.8m-9.4-5.2h.8m-15.2 4.4h.8m-2.3 5.1h.8m9.3-9.6h.8m-3.4 3.1h.8m-.4 13.2h.8m-16.4 2.2h.8m-3 3.6h.8m21.1-8.1h.8m3.2-1.9h.8m-4.7-7.1h.8m-15.2 18.5h.8m17.8-16.3h.8m-15.8 7h.8m8.5-3.3h.8m-4.9-7.5h.8m-10.3 9.1h.8m2.7 1.6h.8m-4.3 .7h.8m-8.2 5.7h.8m21.9-7.7h.8m-3.1 3.7h.8m5.3-7.1h.8m-4.6 5h.8m-13.7-1.3h.8m8.3-4.9h.8m-6 6.5h.8m6.8-7.9h.8m-4 .8h.8m-7.4 15.6h.8m3.7-12.7h.8m-2.1-3.3h.8m-.6 7.7h.8m13.2-1.2h.8m2.4-11.3h.8m-16.8 15.7h.8m-4.6-6.6h.8m-18 10h.8m17.8-12.2h.8m-2.3 3.8h.8m3.4-7.9h.8m8.5 9.4h.8m-19-3.3h.8m4.3 1.1h.8m-3.6 7.4h.8m14.3-10.1h.8m-22.2 10.9h.8m5.5-14.1h.8m24.3-4.3h.8m-21.2 4.8h.8m11.5 11.9h.8m-12.9-7.6h.8m-9.1 7.1h.8m6.3-11.4h.8m4.7 .2h.8m-15.6 4.5h.8m16.9 1.6h.8m4.4-9.8h.8m-.4 4.2h.8m-27.7 9.5h.8m5.1-2.6h.8m16.5-12.9h.8m-6.9-.8h.8m5.3 8.2h.8m-18.7 2.4h.8m-1.7 4.4h.8m13.6-1.4h.8m-4.7-7h.8m-5.4 11.9h.8m4.5-11.6h.8m8.8 5.9h.8m-4.9 1.6h.8m-16.5-.2h.8m-9.8 6.8h.8m14.4-12.5h.8m5.5 1.8h.8m-2.4 6h.8m-8.5-9.3h.8m2.5 10.8h.8m6.5-16.5h.8m-6.6 6h.8m-1.4-4.6h.8m-3.1 11.3h.8" stroke="#3a3aa8" stroke-width=".8" stroke-opacity="0.42" fill="none"/>
<rect x="71.00" y="347.30" width="90.00" height="71.30" fill="none" stroke="#2a2a2a" stroke-width="0.9"/>
<line x1="118.30" y1="347.30" x2="118.30" y2="418.60" stroke="#444" stroke-width="0.75"/>
<line x1="71.00" y1="390.50" x2="161.00" y2="390.50" stroke="#444" stroke-width="0.75"/>
<text transform="translate(72.50 353.50) scale(0.5)" font-size="7.20" fill="#222" textLength="23.00" lengthAdjust="spacingAndGlyphs">Necrotic</text>
<text transform="translate(159.50 353.50) scale(0.5)" font-size="7.20" fill="#222" text-anchor="end" textLength="42.00" lengthAdjust="spacingAndGlyphs">Late Apoptotic</text>
<text transform="translate(72.50 396.30) scale(0.5)" font-size="7.20" fill="#222" textLength="20.00" lengthAdjust="spacingAndGlyphs">Healthy</text>
<text transform="translate(159.50 396.30) scale(0.5)" font-size="7.20" fill="#222" text-anchor="end" textLength="46.00" lengthAdjust="spacingAndGlyphs">Early Apoptotic</text>
<path d="M72.29 418.60v1.6M75.09 418.60v1.6M77.26 418.60v1.6M79.03 418.60v1.6M80.53 418.60v1.6M81.83 418.60v1.6M82.98 418.60v1.6M84.00 418.60v2.6M90.74 418.60v1.6M94.69 418.60v1.6M97.49 418.60v1.6M99.66 418.60v1.6M101.43 418.60v1.6M102.93 418.60v1.6M104.23 418.60v1.6M105.38 418.60v1.6M106.40 418.60v2.6M113.14 418.60v1.6M117.09 418.60v1.6M119.89 418.60v1.6M122.06 418.60v1.6M123.83 418.60v1.6M125.33 418.60v1.6M126.63 418.60v1.6M127.78 418.60v1.6M128.80 418.60v2.6M135.54 418.60v1.6M139.49 418.60v1.6M142.29 418.60v1.6M144.46 418.60v1.6M146.23 418.60v1.6M147.73 418.60v1.6M149.03 418.60v1.6M150.18 418.60v1.6M151.20 418.60v2.6M157.94 418.60v1.6" stroke="#333" stroke-width="0.6" fill="none"/>
<path d="M71.00 417.76h-1.2M71.00 415.52h-1.2M71.00 413.79h-1.2M71.00 412.37h-1.2M71.00 411.17h-1.2M71.00 410.13h-1.2M71.00 409.22h-1.2M71.00 408.40h-2.2M71.00 403.01h-1.2M71.00 399.86h-1.2M71.00 397.62h-1.2M71.00 395.89h-1.2M71.00 394.47h-1.2M71.00 393.27h-1.2M71.00 392.23h-1.2M71.00 391.32h-1.2M71.00 390.50h-2.2M71.00 385.11h-1.2M71.00 381.96h-1.2M71.00 379.72h-1.2M71.00 377.99h-1.2M71.00 376.57h-1.2M71.00 375.37h-1.2M71.00 374.33h-1.2M71.00 373.42h-1.2M71.00 372.60h-2.2M71.00 367.21h-1.2M71.00 364.06h-1.2M71.00 361.82h-1.2M71.00 360.09h-1.2M71.00 358.67h-1.2M71.00 357.47h-1.2M71.00 356.43h-1.2M71.00 355.52h-1.2M71.00 354.70h-2.2M71.00 349.31h-1.2" stroke="#333" stroke-width="0.6" fill="none"/>
<text x="61.60" y="410.80" font-size="6.8" fill="#3a3a3a" text-anchor="end" textLength="5.4" lengthAdjust="spacingAndGlyphs">10</text>
<text x="61.80" y="407.50" font-size="4.0" fill="#3a3a3a">2</text>
<text x="85.20" y="431.60" font-size="6.8" fill="#3a3a3a" text-anchor="end" textLength="5.4" lengthAdjust="spacingAndGlyphs">10</text>
<text x="85.40" y="428.50" font-size="4.0" fill="#3a3a3a">2</text>
<text x="61.60" y="392.90" font-size="6.8" fill="#3a3a3a" text-anchor="end" textLength="5.4" lengthAdjust="spacingAndGlyphs">10</text>
<text x="61.80" y="389.60" font-size="4.0" fill="#3a3a3a">3</text>
<text x="107.70" y="431.60" font-size="6.8" fill="#3a3a3a" text-anchor="end" textLength="5.4" lengthAdjust="spacingAndGlyphs">10</text>
<text x="107.90" y="428.50" font-size="4.0" fill="#3a3a3a">3</text>
<text x="61.60" y="375.00" font-size="6.8" fill="#3a3a3a" text-anchor="end" textLength="5.4" lengthAdjust="spacingAndGlyphs">10</text>
<text x="61.80" y="371.70" font-size="4.0" fill="#3a3a3a">4</text>
<text x="130.20" y="431.60" font-size="6.8" fill="#3a3a3a" text-anchor="end" textLength="5.4" lengthAdjust="spacingAndGlyphs">10</text>
<text x="130.40" y="428.50" font-size="4.0" fill="#3a3a3a">4</text>
<text x="61.60" y="357.10" font-size="6.8" fill="#3a3a3a" text-anchor="end" textLength="5.4" lengthAdjust="spacingAndGlyphs">10</text>
<text x="61.80" y="353.80" font-size="4.0" fill="#3a3a3a">5</text>
<text x="152.70" y="431.60" font-size="6.8" fill="#3a3a3a" text-anchor="end" textLength="5.4" lengthAdjust="spacingAndGlyphs">10</text>
<text x="152.90" y="428.50" font-size="4.0" fill="#3a3a3a">5</text>
<text x="116.10" y="441.80" font-size="8.0" fill="#3a3a3a" text-anchor="middle" textLength="18.2" lengthAdjust="spacingAndGlyphs">FITC-H</text>
<rect x="187.40" y="334.10" width="93.60" height="10.50" fill="#c8102e"/>
<text x="234.60" y="342.30" font-size="8.4" fill="#fff" text-anchor="middle" textLength="32.4" lengthAdjust="spacingAndGlyphs">Nilotinib</text>
<ellipse cx="218.5" cy="403.8" rx="13.0" ry="4.1" transform="rotate(-30 218.5 403.8)" fill="#4650b6" fill-opacity="0.85" filter="url(#bl)"/>
<path d="M239.2 366.5h1m-13 5.2h1m21.7-2.3h1m-42.2 2.2h1m26.6-3.8h1m27.4 1.8h1m-34.7 3.5h1m4.2-3h1m7.5 2h1m-20.2-.3h1m9.8-2.2h1m11.2-3h1m-11 6.4h1m1.3-2.1h1m-10.3 2.1h1m7.6-7.5h1m-4.4 .9h1m17.2-1.3h1m-10.5 3.2h1m-13.6 4.8h1m-29.6-1.2h1m40.1-1.5h1m-.5 .4h1m-22.7 1.6h1m-15.1-2.7h1m10.2 1.8h1m25.8-.7h1m-26.8-5.8h1m6.8 4.5h1m7.9 4.4h1m12-4.4h1m-17.1 .6h1m-2.1-1.1h1m-6.8 .3h1m27.3 4h1m-8.3-3.5h1m-16.1-1.9h1m-18-5.2h1m6.9 6.4h1m16.8-3.5h1m-17.9 .3h1m20 6.6h1m-7.9-.2h1m-1.9-6.6h1m3.7 6.9h1m-3-1h1m-18.6-3.1h1m5.9 3.8h1m33.6-5.9h1m-47.1 1.1h1m8.5-.6h1m19.1 .8h1m-17 5h1m-9.5-5.5h1m-7.6 .4h1m23.2 .5h1m5.3 2.9h1m3.9-1.3h1m-18.5 3h1m11.9-4h1m-28-1.4h1m14.6 1.9h1m-12 1.4h1m10.1-2.4h1m6.5 3h1m3.1 3.8h1m-27.8-6h1m28.4 1.6h1m-23.7 3.3h1m-8.1-5h1m10.1-.5h1m-17.8-.7h1m18.1 3.8h1m2.7 .3h1m-7.4-1.7h1m8.6 .5h1m-12.1 3h1m3.2-1h1m-19.8-5.7h1m18.3 3.5h1m-12.7 .3h1m4.3 1.5h1m3.6-2.3h1m2.7-1.1h1m-24.9 .5h1m.1-3.3h1m15.4 4.4h1m9.1-1.5h1m-2.5 2.7h1m5.9-3.7h1m4.3 1.4h1m-11.4-1.3h1m-7.8-.2h1m-14.1 4.4h1m.1-2.9h1m5.2 2.2h1m8.6-3.9h1m-1.6 3.1h1m-3.8-4.5h1m-3.1 3h1m9.2-.1h1m-6.5 2.8h1m.2-1h1m-.9-.9h1m-12.1 2.5h1m-7.3-1.6h1m18.8 .8h1m-2 .6h1m-9.3-2.1h1m-3.5-.5h1m34 1.5h1m-40.5-1.9h1m6.1 2.1h1m5.3 1.8h1m-19.5-.7h1m15.5-3.1h1m20.9-2.2h1m-12.3 3h1m-4.9-.1h1m-1.5 3h1m-7.2-3.7h1m10 .5h1m-15.5 2.3h1m-4.5-3h1m5.8 .8h1m9.5 4.7h1m-8.5-.6h1m3.5-2.1h1m-36.1-.9h1m40.8-3.1h1m13.9 3.8h1m-14-1.3h1m-22.5 .4h1m-7.9-1.8h1m13.6 1.3h1m-17.4-.5h1m21.2 1.3h1m-17.2 2.7h1m18.3-2.6h1m4.2-5.1h1m-45.1 1.8h1m29.2-1.6h1m-13.9 2h1m-10.2 3.4h1m9.3-.4h1m4.2-2.5h1m15.2 2.1h1m-34.2-2.5h1m32.5-1.7h1m11.5 .1h1m-19.4 1.3h1m-1.7 5.7h1m-8.3-6.9h1m-16.1 6.5h1m21.3 .2h1m-3-3.8h1m3.5 .4h1m22.9-1.5h1m-24.9 1.5h1m-5 1.7h1m13.8-1.6h1m-38.8 2.5h1m1.6 .4h1m9-2.1h1m-4.6 0h1m16.5-1h1m-14.1 1h1m25.7-3.6h1m-3.8 3.8h1m-10.8-.5h1m-16-2.7h1m12 7.5h1m1.5-7.8h1m-25.4 .3h1m17.4 2.9h1m3.7-5.6h1m-7.4 2.9h1m16.6-1.8h1m-5.6 1.4h1m-27.5 2h1m11.3 1.2h1m-13.5 1.9h1m17.4-.7h1m-19.8 .9h1m22.3-1.5h1m-8-2.6h1m6.6 3.9h1m-15.5-4h1m-18-.3h1m40.9 5.4h1m-26.2-1.9h1m19.1-1.4h1m-13.3 1.3h1m2.2 .4h1m14-5.6h1m-20.4 3.1h1m12.8-2.7h1m-38.5 3.3h1m29.6-2h1m-15.4 5.1h1m.4-2.1h1m.8-3.4h1m3.4 2h1m16-3h1m-46.6 3.2h1m23.7 1.2h1m-10.9-.7h1m23.5-5.5h1m-21.7 4h1m10.4 2.1h1m-12.1-.5h1m12.9 2.2h1m3.5-6.2h1m-19.4 4.6h1m4.8-3h1m-20.1 2.1h1m21.5 .6h1m6.1 .7h1m-19.3-3.2h1m20.8 1.9h1m-42.6-3.4h1m1.9-.6h1m5.1 4.9h1m10.7-1.5h1m5.5-3.9h1m-2.2 1.9h1m-.9 2.2h1m9.3 3.8h1m-16.5-1.2h1m-11.3-.6h1m-.8-6.5h1m42.7 4.2h1m-59.1 1.4h1m27.3-.2h1m20.3 .1h1m-13.7-1.6h1m-18.1 4.9h1m9.8-.7h1m10.2-3.9h1m3.5-2.2h1m-28.4 7.6h1m20.6-6.5h1m-7.6 4.3h1m10.1 1.8h1m2.7-7.1h1m-23.6 3.1h1m-15.3-1.6h1m22.9 2.1h1m17-.4h1m-15.2 4h1m-6.9-3.4h1m27.2-1.5h1m-45.7 2.9h1m24.2-3.5h1m-20.1-.3h1m7 6.5h1m-.4-7.6h1m17.5 .8h1m-32.9 1.4h1m4.2-2.8h1m-17.3 18.1h1m24.3 1.1h1m-15.7-8.9h1m.9 10.1h1m.4 5.8h1m-5.9-13.8h1m-1.8 7h1m8.9-13.8h1m16.9-2.4h1m-14.3 15.5h1m-.9-3.5h1m-19 1h1m10.8-4.7h1m-10.2 1.7h1m14.6 6.6h1m-9 5.5h1m1.1-11.6h1m-2-8.6h1m-4.9 17.5h1m-8.5-4h1m15.8 .5h1m-16.7-3h1m.6 12.8h1m6-13.5h1m-4.2 2.7h1m6.7-14.2h1m5 7.6h1m-7.1-.6h1m-1.4 3.9h1m-2.4 2.3h1m5.7-6.6h1m-22.6 14.9h1m16.7-16.8h1m-11.4 3.7h1m-3.4 4.1h1m8.9-8.9h1m-4.2 10.9h1m6.8 .4h1m3.1-5.6h1m-28.4 13.3h1m17-11h1m15.3 1.2h1m-9.7-7.5h1m3.6-4.3h1m-11.8 6.3h1m-13.3 1.9h1m1.5-.8h1m13.7 7.3h1m1-18.9h1m-14.5 7.5h1m2.7-4.2h1m3.2 19h1m-17.1-11.4h1m10.2 .3h1m14.8-3.5h1m3.5 12h1m-19.3-7.9h1m14.5 3.8h1m-19.9-13.5h1m-3.3 19.2h1m-12.4-4.6h1m24.6 .9h1m-11.7 4.1h1m20.7-8.6h1m-17 .2h1m-2.2 5.3h1m-16.9-1.7h1m25.4-4.1h1m-15.9 1.8h1m.6-3.3h1m-17.3 7.3h1m24 1.3h1m-.5-5.6h1m-13.7 11.3h1m4.6-20.5h1m1.4 7.8h1m3.5 11.7h1m-7.8-12.8h1m11.9-7.1h1m-16.7 18h1m-3.9-5.1h1m.1-10.5h1m-17.6 11.9h1m12.9-10.8h1m13.5-1.9h1m-6.9 7.1h1m-9.7-2h1m8.4-3.7h1m-20 4.4h1m12.9-3.8h1m18.8 28.5h1m-1.6-.4h1m4 4.8h1m-8.8-10.5h1m-6.7 1.1h1m-.9-.1h1m6 13.9h1m10.6-6.1h1m-5.5-12.2h1m-10.7 3.9h1m9.3-2.5h1m-14.7 4.7h1m13.2 1.3h1m-2.6-13.3h1m-1.9 18.6h1m-6.9-3.8h1m2.9-7.4h1m-10.1 3.6h1m5.5-2.3h1m6.6 3.6h1m18.6 6.2h1m-23.1-16.5h1m-5 18.5h1m-8.2-11h1m12.5 12.2h1m-18.7-7.1h1m4.6 5.4h1m6.5-4.4h1m-11.2 3.4h1m16.9-6.7h1m-3.9-5.8h1m-11.8 9.8h1m-.9 .3h1m-6 9h1m-1.5-26.7h1m11 11.8h1m.2 8.2h1m-2.8-15.1h1m-1.6 6.7h1m-6.4 15.3h1m5-4.6h1m-12.9-15h1m8.7 15.1h1m8.5-1.6h1m-2-2.6h1m-12.6-2.6h1m-.2-1h1m10.2-7.2h1m1.7 2.3h1m-22.5 8.2h1m6-3.9h1m3.3 11.1h1m5.5-14.2h1m-14.5-13.4h1m8.7 13.4h1m-7.2 4h1m16.5 .7h1m-13.7-2h1m-4.7-5.8h1m-2.3 15h1m8.1-14h1m-3.5 8.9h1m-12.5-6.5h1m7.5-5.9h1m-11.1 17h1m2.8-25.5h1m-4.5 10.8h1m-1.2 8.3h1m3.1-5.1h1m-2.9 7.2h1m8.9-5.5h1m.7-2.3h1m-7.8 17h1m-6.7-15.5h1m11.6 .4h1m-19.5-6h1m-.4 2.2h1m16.4 9.1h1m-1.5-.6h1m1.1-3.6h1m-8.8-4.6h1m-7.8 9h1m3.9-15.5h1m6 8.8h1m-9.7 .6h1m-.6-3.8h1m-5.5 6.5h1m.5-5.4h1m12.1-.8h1m-3.5 16.9h1m-11.6-6.9h1m-.4 3h1m2.3-7.5h1m6.3 6h1m-12.2-1.2h1m5.5 2.8h1m-8.1-9.4h1m10 3.2h1m2.1-2h1m-14.4-22.5h1m1.5 13.8h1m9.2 9.2h1m-8.7 4h1m-2-7.9h1m5.9 11.1h1m-3.1 1h1m5-11h1m-3.1 11.9h1m-9.9 2.1h1m1.9-8.3h1m-.6-9.4h1m-9.4 15.9h1m1.5-10.6h1m11.7-1.4h1m-17.7 3.2h1m15.8-4.2h1m-5.6 10.5h1m-3.8-2h1m-3.7-39.7h1m-5 1.4h1m8.8-.5h1m-31.2 7.4h1m-5.6-8h1m-1.5 2.1h1m28.4 .6h1m-10.3 2.3h1m19.1 3.1h1m5.8-3.9h1m-44 2.7h1m12.3-8.1h1m1.1 5.9h1m5.3-5.4h1m17.2 7.7h1m-16.5-3h1m-15.8-5.1h1m16.9 7.9h1m-17.6-3.6h1m10.3-.5h1m-23.9-4.4h1m22.3 9.1h1m-5.3-4.3h1m7.4 3.8h1m-5-8.7h1m-.7 6.7h1m7.3-3.4h1m-31.2 1.8h1m29.9 1h1m-7.4 2.2h1m2.2 1.1h1m-15.4-8.4h1m-16.7 7.7h1m40.8-8.2h1m-5.8-1.2h1m6.5 3.2h1m-26.8-.2h1m20.2 5.4h1m-1.6-2.3h1m-17.1-1.9h1m16.5 4.4h1m-5.3 1.6h1m-36.6-3.2h1m.6 .1h1m12.7 2.3h1m5.2-6.3h1m5 7.8h1m-5.4-9.1h1m14.6-1.4h1m-4.8 8.6h1m-35.9-7.2h1m10.9 1.8h1m26.4 1.9h1m-7.6-4.4h1m-38 3.5h1m29.5-.8h1m-26-3h1m17.9 5.7h1m23.5-1.6h1m-46.9-3.2h1m36.4 6.9h1m-18-4.2h1m23.7-4.2h1m-6.9 9.4h1m-40.8-5.2h1m28-3.5h1m9.8 2.2h1m-30-.4h1m20.2-2.3h1m-23.5 3.1h1m-21.9 29.9h1m3-45.1h1m39.5 51.5h1m-46.4-53.5h1m-13 26.2h1m12.8 11h1m9.3 15.6h1m-12.5-51.3h1m37.1 41.1h1m23.8-21.9h1m-5.3-20.4h1m-32.7 19.6h1m26.7 20.6h1m-.5-37.3h1m-14.7 51.2h1m13.7-53.9h1m-38.3 13.1h1m31.5 6.1h1m-20.8-17.8h1m18 57.7h1" stroke="#5050b8" stroke-width="1" stroke-opacity="0.33" fill="none"/>
<path d="M212.3 407.8h.8m5.7-5.3h.8m7.7-6.9h.8m-1.8 10.9h.8m-18.6-3.5h.8m7.7 2.6h.8m8.7-4.8h.8m-12.1 5.5h.8m.5-4.7h.8m3.2 .4h.8m-16 7.8h.8m16.3-12.1h.8m-2.2 4.6h.8m.2-1.9h.8m-11.8 5.8h.8m2.6 2.4h.8m-2.3-5.3h.8m7.4 .6h.8m-3.7-2.1h.8m1.2 2.6h.8m10.2-7.7h.8m-3.9 2.4h.8m-16.8 4.9h.8m0 .3h.8m15.5-9.7h.8m-13.3 10.8h.8m11.8-5.2h.8m1.3 0h.8m-18.1 4.3h.8m2 .5h.8m-1-6h.8m-8.3 2.2h.8m.5 4.1h.8m3.5-1.8h.8m6.5-7.4h.8m-10.1 4.6h.8m4.4 5.3h.8m-4.6-2.6h.8m-8.4 1.2h.8m25.1-.6h.8m-30.6 9.5h.8m10.1-8.1h.8m9.1-2.1h.8m-16.5 3.9h.8m16.7-1.7h.8m-1.2-11h.8m-15.1 9.1h.8m8.4-1.1h.8m-10.9 3.6h.8m13.8-.7h.8m-8.4-6.4h.8m1.5 1.8h.8m8.6-2h.8m-6.5 4.5h.8m6-2.3h.8m-6.8 1h.8m-10.6 12.3h.8m5.2-13h.8m1.8 .9h.8m-13.2 9.5h.8m16.6-14.2h.8m-9.5 5.1h.8m1-1.7h.8m-9.8 4.6h.8m5.1-5.2h.8m1.7 .6h.8m-6.7-.1h.8m5 3.5h.8m-19.1 3.5h.8m29-4.1h.8m-18.5 8.9h.8m-9.1 2.7h.8m5.6-8.4h.8m-.5-1.5h.8m11.5-.7h.8m-12.5 3h.8m8.1-3.7h.8m-11.4 1.5h.8m23.9-7.9h.8m-15.2 1.7h.8m10.4-3.2h.8m-24.2 6.9h.8m12.4-3.8h.8m-10.2 9.6h.8m8.4-8.7h.8m-.1-.4h.8m-14.7 12.4h.8m1.1-4.1h.8m1 3.6h.8m-8.8-8.4h.8m9.1 4.8h.8m-2.4 .8h.8m-7.4-3.5h.8m10.3-5.6h.8m5.7 4.1h.8m-16.7 2.2h.8m5.1-1.9h.8m5 1.1h.8m-3.9-1.6h.8m-2.8 4.1h.8m7.6-9.7h.8m1.2 3h.8m-.7 2.8h.8m-8.1 1.5h.8m10.5-15.5h.8m1.9 8.6h.8m-16.6 7h.8m-.3-3.7h.8m11.8 .9h.8m-19.4-.5h.8m13 4.9h.8m-7.1-5.3h.8m-2.6 8.9h.8m0-6.2h.8m-12.1 1.9h.8m8.6-.3h.8m-10.5 6.5h.8m29.1-16.6h.8m-5.3 4.5h.8m-5.8-4.1h.8m-5.1 7.4h.8m4.4-2.1h.8m-.4-3.8h.8m-3.6-.7h.8m-1.5 .3h.8m-10.9 11.9h.8m8.6-5.3h.8m-10-.5h.8m-6.1 1.3h.8m3.5 6.7h.8m5.7-13.7h.8m6.2 2h.8m-19.1 7.1h.8m19.3-14.9h.8m.2 6.1h.8m-14.1 6.5h.8m1.2 4.7h.8m3.1 .7h.8m2.7-10.8h.8m-8.3 8.7h.8m-5.8 3h.8m6.8-10h.8m-18 8.7h.8m18.3-2.2h.8m3.2-9.4h.8m-6.2 4.4h.8m2.1-2.7h.8m-2.6 1.6h.8m.1-2.2h.8m-2.7 6h.8m-6.8 5.2h.8m.9-6.8h.8m-1.3-3.2h.8m10.6-1.6h.8m-.6-5.5h.8m-7.9 7.1h.8m-6 9.6h.8m1 2.9h.8m0-7.4h.8m7.9-10.2h.8m-5.3 9.2h.8m-8.1-6.5h.8m-3.4 7h.8m14.1-.7h.8m-6.1 .3h.8m-6.5-4.3h.8m-.1-1.4h.8m14 .4h.8m-15 5h.8m11.2-8.9h.8m-2.3 4.5h.8m-10.6 2.1h.8m2.9-6.9h.8m-3.6 11.3h.8m-7.9-1.1h.8m2.5-3.2h.8m-5.7 1.7h.8m11.4-1.4h.8m-5.8-.9h.8m5.2 1.6h.8m-.4-3.4h.8m-4.5 1.8h.8m-15.9 7.7h.8m10.8-11.4h.8m-6.7 6.5h.8m8.8 1h.8m11.6 1.1h.8m-28.7 .8h.8m12.6-7h.8m-.5 4.8h.8m-13.2 7.6h.8m15.1-13.2h.8m-3.9 4.4h.8m-7.2-2.3h.8m-.2 4.3h.8m28.3-12.5h.8m-24.7 16.4h.8m-13.3 .8h.8m5.1-3.7h.8m4.2-.4h.8m.1 1.8h.8m.3-2.8h.8m-9.4 .5h.8m11.9-3.4h.8m-6.9 5.8h.8m-9.5-1h.8m2-3.9h.8m5 3.3h.8m7.6-5.4h.8m-2.4 3.1h.8m-7.9 .9h.8m.6-3.3h.8m.8-.3h.8m11-8.8h.8m-19.1 10.8h.8m7.3-3.3h.8m1.1-.8h.8m-10 10.9h.8m3.5-10.8h.8m.9 3.3h.8m-6 1.1h.8m9.5 1.4h.8m.6-5.2h.8m-1.1-2.1h.8m-8.2 8.5h.8m.7-3.5h.8m13.4-10.1h.8m-21.7 19.2h.8m7.2-7.5h.8m5.4 0h.8m-6.9 1.5h.8m2.2-3.1h.8m-5.2 .2h.8m1.4-5.5h.8m5.6 2.6h.8m-12.2 4.4h.8m3-.1h.8m-3.6-.8h.8m-4.2-.4h.8m1.3-2.4h.8m-5.8 9h.8m13.1-6h.8m3.4-8h.8m.3 2h.8m-2.3 4.2h.8m-19.7 3h.8m17.1-8.6h.8m-17.4 6.9h.8m7.3 3.4h.8m10.9-10h.8m-22.1 9.7h.8m10.6-10.8h.8m-2.4 6.2h.8m-2 4.9h.8m-7.8-.6h.8m8-5.5h.8m-5.3 6.4h.8m6.8-11.1h.8m2.4 2.7h.8m-18 11.9h.8m3.1-7.2h.8m.5-.8h.8m-5.2 6.3h.8m-.9-1.2h.8m7.4-5.2h.8m-2.2 2.4h.8m-10.8 5.8h.8m5.2-7.5h.8m6.9-3.6h.8m-11 9.9h.8m2.2 .7h.8m16.9-9.4h.8m-6-4.8h.8m-18.2 16.9h.8m.5-2h.8m10-9h.8m-10.9 7.7h.8m6.3-2.9h.8m-.7 3.4h.8m1.8-11.6h.8m-19.6 16.7h.8m.3-3.3h.8m5.8-4h.8m16.8-5.4h.8m-9.4 3.8h.8m-14.3 1.3h.8m15.5-6.8h.8m1.5 .5h.8m-9.9-.6h.8m2.1 6.4h.8m3.1-5.5h.8m4.9-2.5h.8m-7.9 4.7h.8m4.1 2.4h.8m-7.5-2.4h.8m-3.7 .3h.8m-1.3 7.7h.8m3.9-10.6h.8m-4.7 2.1h.8m-1.8-2.5h.8m11.2 1.9h.8m-5.1-.4h.8m2.1-1h.8m-18.2 9h.8m13.5-9.4h.8m-9.7 2.9h.8m-2.3 .9h.8m.7 3.4h.8m13-9.1h.8m-1.1 5.5h.8m-15.2-.1h.8m-3.3 2.4h.8m6.4-6h.8m-.4 8.2h.8m9.9-15.4h.8m-19.4 17.8h.8m-2.3 3.3h.8m7.7-10.5h.8m2.3 1.2h.8m-4.3-8.1h.8m6.2 2.2h.8m6.4-8.7h.8m-14.8 14.6h.8m-2.4 .3h.8m-10.4 2.8h.8m15.7-3.4h.8m2.5-4h.8m-9.8 2.1h.8m9.2-5.8h.8m-10.3 2.1h.8m11.5-2.5h.8m-5.5 10.8h.8m-14.8-1.9h.8m3.9 1.3h.8m-8.5 1h.8m-.1 4.4h.8m12.5-9h.8m2.3-4.2h.8m4.4-8.4h.8m-12.8 11.4h.8m.6 5.3h.8m-9.1-.4h.8m15.1-6h.8m-6.7-.6h.8m-9.7 .3h.8m11.6 .9h.8m-1.9 .2h.8m-19 7.4h.8m17.6-9.9h.8m-4 4.2h.8m-5.8-.3h.8m.5 2.6h.8m13.4-10.1h.8m-5.6-4.9h.8m4.6 4.7h.8m-22.1 10.7h.8m2.2-2.6h.8m12-2.9h.8m-16.9 6.1h.8m4.2 .7h.8m-7.5 5.9h.8m23.1-17.2h.8m-8.8-1.3h.8m-3.8 4.6h.8m.1 5.3h.8m-7-.6h.8m-1.5-1.5h.8m7.3-2.2h.8m-9.1 6.9h.8m12.3-8.4h.8m-12.2 7.9h.8m-5.6-2.4h.8m15-7.2h.8m-10.7 5.8h.8m4.4-2.1h.8m-10.7-1.7h.8m-10.7 12.3h.8m16.9-14.1h.8m-9.7 14.8h.8m16.3-9.3h.8m-18.9 10.9h.8m-4.3-1h.8m12.3-12.2h.8m2.2 3.4h.8m-4.8-1.8h.8m-8.7 7.4h.8m11.4-12.4h.8m-16.6 10.2h.8m7.8-1.2h.8m-1.1 4.8h.8m-.7-6.4h.8m11.2 1.1h.8m-10.3 7.3h.8m1.3-15.5h.8m2 2.8h.8m-18.8 7.2h.8m4.2 0h.8m4-4.2h.8m-1.5 2h.8m7-.8h.8m-16.4 8.9h.8m16.6-12.4h.8m-1.1-.8h.8m-6.9 3.9h.8m-9.2 4.9h.8m9.5-4.3h.8m-5.4 .6h.8m7.6-3.1h.8m-8.1-2.2h.8m8 2.4h.8m-7.3 7.1h.8m9.8-11.6h.8m-29.3 10.7h.8m12.4 2.2h.8m7.1-10.5h.8m-18.8 1h.8m19-1.7h.8m-13 10h.8m7.9-5.8h.8m-6.5 6.3h.8m1.6-3.5h.8m2.7-3.8h.8m-6-4.5h.8m-1.4 3.4h.8m18.8-6.7h.8m-14.9 9.9h.8m-10.2-.6h.8m13-6.5h.8m.1 3.3h.8m-1.7-7.9h.8m3.1-2.4h.8m-17.1 15.5h.8m13.8-6.7h.8m-1.4-2.3h.8m-11.4-.2h.8m4.4 5.1h.8m-25.4 9.4h.8m19.1-4.4h.8m14.4-11.5h.8m-25 15.3h.8m8.5-4h.8m3.1-6.4h.8m3.2 2.5h.8m7.2-3.2h.8m-25.6 11.4h.8m13.1-4.8h.8m1.9-8.4h.8m-13.5 12.8h.8m7-6.9h.8m10.6-11h.8m-3.3 4.7h.8m-6.9 1.9h.8m-22.7 12.6h.8m17.4-8.3h.8m4.3 .5h.8m-7.7-.8h.8m1.5 .2h.8m18.6-16.9h.8m-21.2 17.4h.8m-4.5 5.8h.8m7.1-5.7h.8m-5.2 1.3h.8m-2.3-2.7h.8m.1-2.1h.8m6.5-1.1h.8m-6.4-1.1h.8m-10.6 6h.8m9.9 1.5h.8m.6-7.4h.8m-3.2 11h.8m5.4-15h.8m-.5 6.4h.8m-15.5 2.8h.8m10.4-1.6h.8m8.8-9.9h.8m-2 4.5h.8m-12.3 6h.8m5.3-4.6h.8m-10.2 8.8h.8m-4.6 5.8h.8m9.8-13.6h.8m-.7 5.1h.8m-.1-3.2h.8m-4.7 1.9h.8m5 4.5h.8m-13.3-8.3h.8m8.3 .1h.8m0-4.5h.8m-4.7 7.6h.8m5.4-3.3h.8m-11 7.9h.8m16.8-5h.8m.7-2.6h.8m-14 1.4h.8m-1.8 3.9h.8m-7 7.8h.8m8.2-10.5h.8m2.1-1.6h.8m-16 9.8h.8m10.2-13.5h.8m-.2 2.1h.8m.7 3.3h.8m-11.4 6.8h.8m8.5-10.5h.8m-14 9.7h.8m20.2-11.4h.8m-10.2 5.3h.8m-8.5 7.5h.8m15.7-11.6h.8m-2.1 .9h.8m-15.7 3h.8m19.5-10.5h.8m-20.9 16.5h.8m5.4-10.3h.8m8.1 1.5h.8m-26.2 11.3h.8m21.7-13.5h.8m-6 8.1h.8m-2.5-3.7h.8m-8.4 3.8h.8m9.2-5.2h.8m-9.6 7.8h.8m4.3 6.5h.8m-4.7-15h.8m-3 8.7h.8m18.3-11.8h.8m-19.1 14.8h.8m1.2-5.8h.8m-1-7.4h.8m7.2 8.9h.8m1-9.6h.8m.9 2.6h.8m-10.5 1h.8m-1 1.1h.8m3-.1h.8m6.8 .4h.8m-1.7 .5h.8m-11.4 1h.8m-9.8 9.1h.8m26.9-19.1h.8m-8.3 6h.8m-5.5 2.9h.8m.5 .9h.8m-8.7 .2h.8m-3.4 3.2h.8m4.4-1.8h.8m-.2-.7h.8m-5-.8h.8m-2.7 10.1h.8m3.8-10.4h.8m7.2-.4h.8m-9.1 2.9h.8m4.4 .6h.8m-20.6-.7h.8m18.7 3.8h.8m-3.7-6.4h.8m-10 1.7h.8m-2.2 5.7h.8m17.3-2.9h.8m-12 .2h.8m5.5-9.8h.8m-5.9 5.7h.8m9.2 .6h.8m-11.7-3.5h.8m-7 8h.8m8.9-6h.8m1.3 7.5h.8m2.3-10.5h.8m-6 8.7h.8m-3.5-5.5h.8m7.7-5.4h.8m4.1 3.6h.8m-4.2 .6h.8m-2.5-7.3h.8m-1.2 8.6h.8m1.4-1.2h.8m-2-3.8h.8m-2.8 4.1h.8m-3.1 1.5h.8m-1.4-2.3h.8m14.7-9.4h.8m-17.5 9.4h.8m-1.9 2h.8m-3.3-2.3h.8m3.5 2.1h.8m-1.2-4.9h.8m-7.9 9.6h.8m-6.9 3h.8m13.5-11.6h.8m-11.1 12.6h.8m13.8-4.6h.8m-2.5-1.1h.8m2-11.2h.8m6.9 4.9h.8m-11.5 2.4h.8m-7.6 3h.8m-5.9 1h.8m2.8 .1h.8m7.1 .4h.8m-16.8 6.1h.8m12.6-11.1h.8m-1.8-.3h.8m4.2-2h.8m-6.1 6.6h.8m4.2 1.7h.8m-11.1-4.5h.8m2.7 1.8h.8m-10.4 4.2h.8m11.7-8.6h.8m10.9-2.6h.8m-10.2 5.9h.8m-2.4-6h.8m-9.5 6.4h.8m19.3-3.7h.8m-17.4 6.4h.8m10.4-5.7h.8m-7.2 0h.8m-8 4.6h.8m14.3-5.7h.8m-9.3 1.5h.8m-.6-2.3h.8m2.8 1.9h.8m-2.7 4.3h.8m-6.3-3.7h.8m8.3 2.2h.8m-7.4 2.5h.8m.1-6h.8m-4.6 5.2h.8m-6.5 3.2h.8m5.9-1.5h.8m.4-.6h.8m-.3-7.3h.8m7.3-4.8h.8m-17.1 17.8h.8m10.4-9.7h.8m-16.5 10.2h.8m7.1-4.9h.8m4.8 1h.8m-17.1-.3h.8m5.4 4.5h.8m10.3-13.1h.8m1 4.4h.8m-1.2 2.4h.8m-9.7-4.5h.8m22.4-7h.8m-17.9 7.4h.8m-5.7 2.8h.8m17.3-9.3h.8m-9.8 1.4h.8m-7.5 4.1h.8m12.5-1.9h.8m-7.7 4.6h.8m.4-5.7h.8m-5-.7h.8m-3.7 15.1h.8m11.2-11.3h.8m-7.6 1.3h.8m-11 1h.8m1.6 .2h.8m12.3-4.7h.8m-11.8 2.1h.8m6 5.2h.8m1.2-6.3h.8m-4.1 2.7h.8m-14.4 2.9h.8m14.4-8.3h.8m1.4-.9h.8m.4 3.1h.8m3.5-4.5h.8m-9.5 5h.8m3-.1h.8m4.7-3.5h.8m-11.9 10.9h.8m10.7-12.6h.8m-2.1-2.1h.8m-5.8 6.4h.8m8.7-.3h.8m-10.7-1.4h.8m-11.9 8.6h.8m12.6-9.2h.8m-5.3 5.3h.8m-.4-.8h.8m-4.2-1.8h.8m8.4-3.2h.8m-4.6 6.3h.8m-9.2 5.4h.8m7.1-5.2h.8m.8-1.1h.8m-12.7 2.6h.8m1.2-1.2h.8m1.5 3.2h.8m-5.5-4.7h.8m7.5-.8h.8m1.1-7.5h.8m7.5 .4h.8m-6.2 2h.8m-2.7-.7h.8m2.8 4.3h.8m-1.5-4.3h.8m-12.1 7.8h.8m6.8-3.9h.8m-4.1 .2h.8m-.7 7.5h.8m-6-3.8h.8m-.1 2.1h.8m-1.4-5h.8m-6.2 6.1h.8m11.6-6.6h.8m-4.6 2.2h.8m-.3-1.3h.8m1.9 1h.8m4 2.2h.8m-12.5 .8h.8m2.6-1.9h.8m-11.6 5.3h.8m0 6.6h.8m21.6-16.7h.8m-23.8 13.9h.8m12.9-12.9h.8m7.1-2.6h.8m-13.7 8.7h.8m13.5-8.6h.8m-.8-3.4h.8m-6.9 3.8h.8m11.1-2.3h.8m-13.3 6.4h.8m-13.8-.9h.8m11.2 .8h.8m-5.7 6.9h.8m-9.6-1.6h.8m.7 2.2h.8m21.5-18.8h.8m-17.1 17.5h.8m-.2-7.2h.8m-5.4 2.1h.8m6.2-.7h.8m.7 8.6h.8m-6.6-7.2h.8m-7.3 1.5h.8m.4 5.3h.8m3.5-3.2h.8m8.6-.4h.8m7.1-14.9h.8m-8.4 3.3h.8m6.5 .2h.8m-9 7.2h.8m-4.8 2.2h.8m-8.3 6.9h.8m4.5-12.1h.8m-14.6 10.4h.8m13-5.6h.8m14-5.2h.8m-10.3 4.3h.8m3.4-5.6h.8m-12.2 4.5h.8m-4.8 9h.8m5.5-3.4h.8m2.5 4.3h.8m5.9-14.1h.8m7.3 1.7h.8m-24 3.4h.8m2.9 .2h.8m.5-1.2h.8m-1.9 1.4h.8m-7.6 2.5h.8m8.9-4.5h.8m1.8 .2h.8m-1.2-1.1h.8m-10.1 9.3h.8m5.6-6.3h.8m-11.9 6.7h.8m19.8-6.8h.8m-16 4.7h.8m4.2-3.4h.8m-2.3 .3h.8m-1.6 .7h.8m-3.3 3.3h.8m-7.8-.8h.8m26.4-8.9h.8m-10.4 7h.8m-1.4-1.1h.8m9.5-11.7h.8m-17.8 5.9h.8m5.5 .4h.8m-3.6 3.7h.8m8.3-2.9h.8m-7 .1h.8m-2.3 .4h.8m-2 7.1h.8m-.4-7.9h.8m8 1h.8m-23.5 12.6h.8m9.3-13.7h.8m-.4 5.4h.8m-1.3-2.7h.8m-13 5.7h.8m16.6-13.2h.8m-11.3 7.1h.8m6.5 2.7h.8m-3.9-1h.8m-7.9 6.4h.8m5.7-8.4h.8m-9.4 7.5h.8m5.5-3.5h.8m1.7-5.8h.8m1.1-1.6h.8m2.8 5.3h.8m-2.5 0h.8m13.3-11.9h.8m-11.4 9h.8m-11.1 8.6h.8m5.2 .7h.8m-5.2-7h.8m4.8 2h.8m-1.5 5.7h.8m-5.6-4.4h.8m18.6-6.3h.8m-18-4.3h.8m2.6 12.1h.8m-2.4-4.1h.8m-3.4-5.1h.8m14.4 .6h.8m-6.7 4.3h.8m3.9-2.1h.8m-8.2-.1h.8m3.2-4.8h.8m6-2.9h.8m-13.7 8.9h.8m-12.2 8.1h.8m13.8-11.5h.8m-8.2 6.1h.8m-7.8 7h.8m6.5-6.2h.8m13.8-1.5h.8m0-.9h.8m-9.1-6.8h.8m-12.2 8.6h.8m22.8-16.2h.8m-26.2 15.1h.8m9.4 .1h.8m-12.6 1.4h.8m18.2-11.2h.8m-5.6 5.6h.8m3.9 1h.8m-8.1 .2h.8m-1.9 .6h.8m2.8 2.4h.8m-15.7 7.1h.8m19.1-11.6h.8m-.6 1.6h.8m-12.8 .1h.8m3.7 1.7h.8m0-3.5h.8m10.6-.7h.8m-9 4h.8m-6.4-3.4h.8m-.9 8.5h.8m-11.6-2.6h.8m9.1 2.5h.8m2.4-5.2h.8m-4.7-1.5h.8m1.1-2h.8m5.1-.5h.8m-2.6 1.9h.8m-2.9-1.1h.8m3.8 1.8h.8m-7.1-3.3h.8m-.2 4.5h.8m2.7-1.9h.8m-18.9 3.8h.8m23.2-6.2h.8m-20.8 6.1h.8m12.1-11.8h.8m-3.7 8.3h.8m7.4-3.4h.8m-6.5 7.3h.8m-9.7 .2h.8m16.2-2.9h.8m-7 3.5h.8m-1.8-.7h.8m-.7 .8h.8m4.1-6.3h.8m-3.5-1.6h.8m-3 5.5h.8m-12.7 8h.8m6.1-6.5h.8m2-3.4h.8m8.9-10.2h.8m-7.2 11.6h.8m-4.6 1h.8m5.6-9.5h.8m-7.7 8.9h.8m.7 1.3h.8m-.8-2.9h.8m-10.9 9h.8m16.2-9.9h.8m-7.9-3.8h.8m-3.9 5.9h.8m-5.5 5.6h.8m9.2-4.3h.8m8.2-3.5h.8m-20-.6h.8m-.9 6.6h.8m10.6-3.9h.8m-14 9.4h.8m3.9-10.3h.8m-1.6 2.5h.8m1-3.5h.8m.2 6.1h.8m2-9.2h.8m-.8 8.8h.8m-3.8 .9h.8m-.5-1.8h.8m2.7-11.4h.8m3.8 2.7h.8m1 4h.8m-5.6-5h.8m-26.7 19.1h.8m15.4-8.8h.8m5.4-.1h.8m1.9-3.7h.8m-13.4 7.3h.8m19.1-14.1h.8m-7.8 5.7h.8m-7.4 3.3h.8m5.9-.8h.8m-5.7-.4h.8m-1.8 4.9h.8m3.8-12.3h.8m-3 11.5h.8m-9.6 .2h.8m6.6 .3h.8m1.2-4.8h.8m-6.3 5.9h.8m16.4-7.7h.8m-20.2 4h.8m19.9-9.7h.8m-7.2 2.7h.8m-12.9 8.4h.8m3.8-9.1h.8m8.7-.4h.8m-10.4 5.3h.8m-8.6 2.5h.8m9.2-3.6h.8m10.1-11.1h.8m-20.4 21.7h.8m11.9-10.7h.8m-2.3 6h.8m-6-6.8h.8m-3.1 .3h.8m1.9 3.6h.8m5.6-10.6h.8m-.9 6.8h.8m-13.3 3.9h.8m17.5-9.3h.8m-19.7 13h.8m12.5-8.4h.8m-1.4 6.7h.8m4.4-7.3h.8m-9.6-1.7h.8m7.5 3.2h.8m-11.8-1.8h.8m8.3-.2h.8m-7.2-1.1h.8m12.4-6.1h.8m-17.3 17.1h.8m9.5-12.5h.8m-6 2.7h.8m-2.7 1.3h.8m-5.6 3.7h.8m9 .5h.8m-18.2 .8h.8m-.1-.6h.8m16.4-3.5h.8m-19.9 3.3h.8m21.8-8.7h.8m-10.3 10.8h.8m1.1-5.1h.8m-2.8-.6h.8m1.3-2h.8m-6 2.3h.8m-.9 1.2h.8m2 1h.8m9-1.8h.8m-.6-1.1h.8m-2.2-4.6h.8m-7.3 3.2h.8m-2.6 6h.8m-14.9-.7h.8m17.4-5.7h.8m.8-.4h.8m-10.6 2.8h.8m7.7-4.5h.8m4.6 1.6h.8m-12.1-.5h.8m7-1.9h.8m-5.6 3.7h.8m-13.8 10.1h.8m5.7-8.9h.8m3.4 6.3h.8m3.5-7.5h.8m-10.3 5.7h.8m2-2h.8m-5 1.3h.8m5.2-4.5h.8m3.2 5.2h.8m4-6.1h.8m-2.5-.1h.8m-3.5 5.4h.8m-2.9-4.8h.8m.4 4.1h.8m-1.8-1.7h.8m7.8-8.1h.8m-26.2 20.5h.8m11.7-15.2h.8m5.9 3.7h.8m2.5-7.3h.8m-14.2 12.3h.8m10.6-3.2h.8m1.6-4.2h.8m-11.7 2.1h.8m-10 7.4h.8m9.4-7.1h.8m-7.9 1.2h.8m12.1-7.2h.8m-9.4 9h.8m18.2-9.2h.8m-15.7 .5h.8m-4.8 8.2h.8m2.2 .3h.8m-5.5 1.3h.8m7.8-8.8h.8m9.9 .9h.8m-16 .9h.8m9.9 .4h.8m-12.3 10h.8m2.3-14.7h.8m16.6-1.9h.8m-26.5 15h.8m17.4-10.8h.8m-2.7-2.4h.8m-21.3 13.5h.8m.6-4.7h.8m4.7 2.2h.8m13.3-6.7h.8m-12.3 2.4h.8m.6-1.7h.8m6-2.3h.8m-4.2 3.6h.8m0-.3h.8m-4.8 1.8h.8m9.5-5.4h.8m-16.1 4h.8m14-13.6h.8m-9.6 16.9h.8m-2.8 4h.8m4.9-13.3h.8m-1 2.8h.8m-16.2 12.3h.8m15.5-7.1h.8m-12.2 5.5h.8m3.8-.5h.8m8.3-9.9h.8m-11.5 7.8h.8m7.7-4.9h.8m-7.2 .7h.8m17.7-4.9h.8m-15.8 6.6h.8m-7.7 5.2h.8m-2.4-3.9h.8m2.7 3h.8m3.2-9.6h.8m.5 4.3h.8m1.4-11.8h.8m-3.9 7.4h.8m1.5 4.8h.8m-1.2-3.9h.8m-3 3.4h.8m-.6-6.4h.8m7.4 6.4h.8m-2.3-2.5h.8m-10.9 3.7h.8m-8.6 6h.8m5.7-4h.8m8.4-1.5h.8m-21.8 7.9h.8m10.6-12.5h.8m7.4-.5h.8m-5.5 8.1h.8m-5.7 .3h.8m17.6-14h.8m-1.8 4.1h.8m-12.9 5.3h.8m10.9-5h.8m-4.3-5.7h.8m-16.6 11.6h.8m27.9-11.2h.8m-27.2 12.2h.8m4.8-1.2h.8m-4.2 7.5h.8m3.9-10.6h.8m-9.6 7h.8m7-7.3h.8m6.7-4.6h.8m-6 5h.8m-6.2-1.7h.8m10.7-9h.8m-12.4 18.9h.8m9.9-11.3h.8m-7.8 8.3h.8m1.3-4.7h.8m-2 .8h.8m.6 1h.8m-2 .8h.8m-8.7-2.1h.8m4.3 5.5h.8m2.9-9.8h.8m-2.9 5.3h.8m-4.5 10.4h.8m-1.4-8.3h.8m1.7 4.1h.8m.6-7.8h.8m2.2 1.5h.8m-2.2-1.1h.8m-5.4 4h.8m1.9-6.1h.8m-10.5 5.4h.8m-9.4 9.4h.8m15.9-16.3h.8m-10.8 8.3h.8m6.3 1h.8m-4.5-2.2h.8m11.5-8.1h.8m-13.9 6.8h.8m11.4-2.6h.8m-6.9 1.7h.8m-5.2 4.3h.8m-3.6 .5h.8m16.4-2.8h.8m-4.8-5.7h.8m-.5-5.5h.8m9.7 1.2h.8m-11.8 6h.8m-.5 .3h.8m-6.3-3h.8m12.1-3.9h.8m-12 4.5h.8m3.3 7.4h.8m.5-8.3h.8m-3.4 6.4h.8m14.4-2.6h.8m-21.6 .1h.8m-7.3 5.6h.8m9.2-10.6h.8m-7.7 9.3h.8m11.1-6.5h.8m-14.8 6.4h.8m7-6.1h.8m-3.6-2.7h.8m1.5-.1h.8m-4.3 3.8h.8m.1 7.7h.8m3.4-8.2h.8m-6.2 1.4h.8m9 1.9h.8m-4.8 1.8h.8m-21.1 5.1h.8m18.8-10.6h.8m14.8-2.6h.8m-11 4.4h.8m-.8-6h.8m.3 4.8h.8m-9.6 3.7h.8m-5.9 8.7h.8m13.8-18.4h.8m5.1 5.4h.8m-6 .8h.8m-5.3-4.8h.8m3.5 8h.8m-4.8 1.6h.8m-3.1-10h.8m4.2 13.9h.8m-4.9-13.5h.8m-11.5 7.3h.8m3.3 .7h.8m12.1-1.9h.8m-9.2 3.8h.8m-20.6 8h.8m24.8-7.3h.8m15-9h.8m-8.2 11.5h.8m-7-9.8h.8m-18.6-3.7h.8m-.2 10.4h.8m5.9-7h.8m3.8 3.3h.8m-7.7 4h.8m4.4-9.8h.8m4-2.4h.8m.4 3.9h.8m-15 8.5h.8m-15.9-3.5h.8m26 2.7h.8m-8.6-.3h.8m8.7-5.7h.8m10.4-4.9h.8m-3.8-5h.8m-10.4 10.5h.8m8.8 .1h.8m3.9-2.6h.8m-16.1 5.7h.8m-.5-4h.8m3.1-5h.8m-3.8 12.7h.8m-6.6-.7h.8m-5.1-2.4h.8m1.9-10.5h.8m-3.3 8.1h.8m9.2-11.2h.8m-3.6 17.9h.8m12.5-13.1h.8m-5.1-2.3h.8m-21.1 14.1h.8m25.9-.5h.8m-16.8 2.1h.8m8.9-18.9h.8m-5.6 9h.8m-8.1-1.4h.8m4.4-5.6h.8m-7.3 13.6h.8m12 4.3h.8m-2.3-3.6h.8m-8.8-3.3h.8m2.9-4.3h.8m-11.5 9.2h.8m14.6-4.6h.8m-21.8-.8h.8m14.2-10.8h.8m6.4 15.4h.8m-2.4-7.5h.8m-8.8 11.5h.8m27.3-23.3h.8m-26.3 21.2h.8m-2.2-10.1h.8m-6.1 8.9h.8m20.5-6.8h.8m-18.5 7.4h.8m8.6-13.1h.8m-14.5 15h.8m6.5-12.4h.8m-8.4 .4h.8m14.9 1.1h.8m-9.4 9.6h.8m-7 .7h.8m5.8-14.9h.8m-10.2 16.6h.8m.9-2h.8m11.5-13h.8m-28.2 5.1h.8m29.9 .7h.8m-11.1 5.3h.8m-6.2 1h.8m4.2-14.6h.8m3.1-1h.8m-5.6 16h.8m2.3-2.9h.8m6.9-6.1h.8m-2.9-2.7h.8m-6.3 6.6h.8m-9.1-.2h.8m-1.8 1.8h.8m1-3.9h.8m12.7-1.9h.8m-3.2-2.2h.8m0 6.8h.8m8-6.3h.8m-18.8 2.3h.8m4.6 10.9h.8m-7.6-11.7h.8m22.5-5.2h.8m-12.8 11.3h.8m-7.4-14.6h.8m3.2 14.6h.8m19.2-10.4h.8m-10.2 6.7h.8m-12.7-12.6h.8m-11.6 14.4h.8m12.6-4.6h.8m-9.1 2.9h.8m6.9 5.1h.8m-4.1-8.8h.8m-2.3 10.9h.8m7.3-8.2h.8m3.1-12.9h.8m-4.8 4.8h.8m-6.6 6.1h.8m-18 12.9h.8m27.2-11.4h.8m-3.6-4.6h.8m-9.2 10.6h.8m-8.9-8.5h.8m5.6-11.5h.8m-7.2 18.1h.8m14.8-4.8h.8m-18.7 6h.8m-1-3.4h.8m10.6 1.1h.8m-2.2-2h.8m2.4-5.1h.8m-16.9 8.6h.8m24.8 .1h.8m-18.1-.6h.8m10.2-2.9h.8m-2.3 4.1h.8m-6.8 2.7h.8m-6-7.6h.8m-6.6 13.3h.8m7.6-5.4h.8m-2.2-1.1h.8m21-9.8h.8m-9.8-3.2h.8m-20.1 13.7h.8m16.8-12.5h.8m-2.8 8h.8m-9.2-2.7h.8m8.8 0h.8m-1.4-7.5h.8m-10.2 10.6h.8m1.2-2.5h.8m3.5-1.1h.8m-10 6.6h.8m8.4-7h.8m-3.1 1.2h.8m-10.2-4.5h.8m5.1 13.5h.8m5-12.6h.8m5-1.3h.8m-6.8 .4h.8m-6.7 13.1h.8m8.5-15.5h.8m-2.5 8.5h.8m4.3 .6h.8m5.2-.9h.8m-19.5 8.3h.8m4.4-6h.8m-8.9-5h.8m2.6 11.3h.8m23.5-14.6h.8m-10.7 3.8h.8m-23.9 13.2h.8m16.2-13.7h.8m-10.5 2.5h.8m17.3-2h.8m-9.4 6h.8m-8.3-7.9h.8m6.4 6.2h.8m-.3-3.9h.8m-2.3 4.3h.8m-4.3-1.2h.8m1.8 2.9h.8m4.5-3.5h.8m-15.1 7.5h.8m3.6-14.5h.8m3.3 9.3h.8m-5.7-1.3h.8m6.9-10.6h.8m-13.8 17.2h.8m2.3-12.8h.8m.2 11.4h.8m12.9-3.7h.8m-14.4-3.7h.8m6.8 3.1h.8m1-3.5h.8m-17.1 10.5h.8m12-18h.8m-6.5 13.7h.8m2.3-4.3h.8m1.8 1.7h.8m5.3-7.4h.8m1.1 4.6h.8m6.1-8.3h.8m-13.4 9.4h.8m-4.8 5.9h.8m-3.7-4.5h.8m10.9-2.5h.8m5.5-7.7h.8m-10.9 7.4h.8m-10.9 .4h.8m9.4 .9h.8m0 1.9h.8m-5.6-4.1h.8m-5.4 7.3h.8m-3.4-8.5h.8m16-2.1h.8m-5.7 8h.8m-25.5 4.7h.8m15.1-15.9h.8m-12.1 16.9h.8m29.9-22.2h.8m-10.3 18.9h.8m-17-.8h.8m16.2-9.7h.8m-15.6 5.3h.8m12.6-3.1h.8m-7.2-.6h.8m-11.8 4.6h.8m16.8-5.8h.8m-19.5 6.9h.8m26.7-4.8h.8m-17.2-3.4h.8m-7.6 9.6h.8m-8.9 1.4h.8m26.8-19.5h.8m4.7 12.7h.8m-32.3-1.4h.8m31.8-.3h.8m-19.8-4h.8m-.7 7.8h.8m5.3 7.8h.8m-12.3-16.3h.8m15.3-5.3h.8m-5.6 16.7h.8m-20.3 5.4h.8m31-22.2h.8m-9.9 8h.8m-19.6 6h.8m7.8 .7h.8m-2.3 8h.8m3-12h.8m3.3 .4h.8m.3 4.9h.8m-6.1 7.1h.8m-8.3-9h.8m15.2-4.6h.8m-10.8 1.2h.8m18.9-11.8h.8m-26.2 15.9h.8m12.3-8.7h.8m-9.6-.7h.8m-8.3 3h.8m20.1-5.5h.8m-9.4 9.5h.8m-7 9.2h.8m.2-9.7h.8m11.3-5.1h.8m-17.9 14.2h.8m21.5-12.4h.8m-8.7 0h.8m-8.8 5h.8m17.4-.5h.8m-2.4-10.5h.8m-10.9 5h.8m-7-2.3h.8m18.1-.2h.8m-5.4-1h.8m-16.5 20.3h.8m.3-12.3h.8m1.7 4.6h.8m-2.2 1.4h.8m5.3-15.2h.8m-1.3 15.2h.8m-4.1-6.1h.8m10-6.9h.8m-18 8.9h.8m3.3-2.8h.8m2.1-1.4h.8m-11.3-4.3h.8m8.4 9.5h.8m5.7-6.1h.8m-9.7-.1h.8m12.6-3.2h.8m-13.3 19.5h.8m3.1-12.2h.8m-16.5 5.1h.8m15.1 1.7h.8m-11.4-6.9h.8m18.3-7.7h.8m-7 1.5h.8m-2.1 2.4h.8m12.8-2.8h.8m-4.6 1.4h.8m-9.9-1.6h.8m-11.5 9.3h.8m-6.8 4.6h.8m10.2-8.9h.8m-2.7 3h.8m-4.9-1.2h.8m2.2-1.8h.8m-10.7 9.8h.8m23.7-19.7h.8m-20 18.6h.8m1.8-4.7h.8m8.2-9h.8m-18.9 12.1h.8m21.3-12.1h.8m.1 1.2h.8m-11 7.2h.8m-8 2.6h.8m2.9-5.6h.8m19.1-2.3h.8m-14 3.5h.8m-5.7 7.2h.8m-3.7-1.6h.8m10.6-9.6h.8m8-3.3h.8m-16.6 13.8h.8m-10.9 6.1h.8m16.9-17.7h.8m-3 6.5h.8m20.9-4h.8m-25.3 4.7h.8m-2.1 4h.8m-2.7 2.1h.8m11.2-10.1h.8m-2.6-1.1h.8m-4.5 3.5h.8" stroke="#3a3aa8" stroke-width=".8" stroke-opacity="0.42" fill="none"/>
<rect x="187.80" y="347.30" width="92.00" height="71.10" fill="none" stroke="#2a2a2a" stroke-width="0.9"/>
<line x1="236.50" y1="347.30" x2="236.50" y2="418.40" stroke="#444" stroke-width="0.75"/>
<line x1="187.80" y1="390.40" x2="279.80" y2="390.40" stroke="#444" stroke-width="0.75"/>
<text transform="translate(189.30 353.50) scale(0.5)" font-size="7.20" fill="#222" textLength="23.00" lengthAdjust="spacingAndGlyphs">Necrotic</text>
<text transform="translate(278.30 353.50) scale(0.5)" font-size="7.20" fill="#222" text-anchor="end" textLength="42.00" lengthAdjust="spacingAndGlyphs">Late Apoptotic</text>
<text transform="translate(189.30 396.20) scale(0.5)" font-size="7.20" fill="#222" textLength="20.00" lengthAdjust="spacingAndGlyphs">Healthy</text>
<text transform="translate(278.30 396.20) scale(0.5)" font-size="7.20" fill="#222" text-anchor="end" textLength="46.00" lengthAdjust="spacingAndGlyphs">Early Apoptotic</text>
<path d="M191.29 418.40v1.6M194.09 418.40v1.6M196.26 418.40v1.6M198.03 418.40v1.6M199.53 418.40v1.6M200.83 418.40v1.6M201.98 418.40v1.6M203.00 418.40v2.6M209.74 418.40v1.6M213.69 418.40v1.6M216.49 418.40v1.6M218.66 418.40v1.6M220.43 418.40v1.6M221.93 418.40v1.6M223.23 418.40v1.6M224.38 418.40v1.6M225.40 418.40v2.6M232.14 418.40v1.6M236.09 418.40v1.6M238.89 418.40v1.6M241.06 418.40v1.6M242.83 418.40v1.6M244.33 418.40v1.6M245.63 418.40v1.6M246.78 418.40v1.6M247.80 418.40v2.6M254.54 418.40v1.6M258.49 418.40v1.6M261.29 418.40v1.6M263.46 418.40v1.6M265.23 418.40v1.6M266.73 418.40v1.6M268.03 418.40v1.6M269.18 418.40v1.6M270.20 418.40v2.6M276.94 418.40v1.6" stroke="#333" stroke-width="0.6" fill="none"/>
<path d="M187.80 417.66h-1.2M187.80 415.42h-1.2M187.80 413.69h-1.2M187.80 412.27h-1.2M187.80 411.07h-1.2M187.80 410.03h-1.2M187.80 409.12h-1.2M187.80 408.30h-2.2M187.80 402.91h-1.2M187.80 399.76h-1.2M187.80 397.52h-1.2M187.80 395.79h-1.2M187.80 394.37h-1.2M187.80 393.17h-1.2M187.80 392.13h-1.2M187.80 391.22h-1.2M187.80 390.40h-2.2M187.80 385.01h-1.2M187.80 381.86h-1.2M187.80 379.62h-1.2M187.80 377.89h-1.2M187.80 376.47h-1.2M187.80 375.27h-1.2M187.80 374.23h-1.2M187.80 373.32h-1.2M187.80 372.50h-2.2M187.80 367.11h-1.2M187.80 363.96h-1.2M187.80 361.72h-1.2M187.80 359.99h-1.2M187.80 358.57h-1.2M187.80 357.37h-1.2M187.80 356.33h-1.2M187.80 355.42h-1.2M187.80 354.60h-2.2M187.80 349.21h-1.2" stroke="#333" stroke-width="0.6" fill="none"/>
<text x="178.40" y="410.70" font-size="6.8" fill="#3a3a3a" text-anchor="end" textLength="5.4" lengthAdjust="spacingAndGlyphs">10</text>
<text x="178.60" y="407.40" font-size="4.0" fill="#3a3a3a">2</text>
<text x="204.70" y="431.40" font-size="6.8" fill="#3a3a3a" text-anchor="end" textLength="5.4" lengthAdjust="spacingAndGlyphs">10</text>
<text x="204.90" y="428.30" font-size="4.0" fill="#3a3a3a">2</text>
<text x="178.40" y="392.80" font-size="6.8" fill="#3a3a3a" text-anchor="end" textLength="5.4" lengthAdjust="spacingAndGlyphs">10</text>
<text x="178.60" y="389.50" font-size="4.0" fill="#3a3a3a">3</text>
<text x="227.20" y="431.40" font-size="6.8" fill="#3a3a3a" text-anchor="end" textLength="5.4" lengthAdjust="spacingAndGlyphs">10</text>
<text x="227.40" y="428.30" font-size="4.0" fill="#3a3a3a">3</text>
<text x="178.40" y="374.90" font-size="6.8" fill="#3a3a3a" text-anchor="end" textLength="5.4" lengthAdjust="spacingAndGlyphs">10</text>
<text x="178.60" y="371.60" font-size="4.0" fill="#3a3a3a">4</text>
<text x="249.70" y="431.40" font-size="6.8" fill="#3a3a3a" text-anchor="end" textLength="5.4" lengthAdjust="spacingAndGlyphs">10</text>
<text x="249.90" y="428.30" font-size="4.0" fill="#3a3a3a">4</text>
<text x="178.40" y="357.00" font-size="6.8" fill="#3a3a3a" text-anchor="end" textLength="5.4" lengthAdjust="spacingAndGlyphs">10</text>
<text x="178.60" y="353.70" font-size="4.0" fill="#3a3a3a">5</text>
<text x="272.20" y="431.40" font-size="6.8" fill="#3a3a3a" text-anchor="end" textLength="5.4" lengthAdjust="spacingAndGlyphs">10</text>
<text x="272.40" y="428.30" font-size="4.0" fill="#3a3a3a">5</text>
<text x="235.60" y="441.60" font-size="8.0" fill="#3a3a3a" text-anchor="middle" textLength="18.2" lengthAdjust="spacingAndGlyphs">FITC-H</text>
<rect x="70.60" y="459.80" width="93.80" height="10.50" fill="#f7941d"/>
<text x="117.90" y="468.00" font-size="8.4" fill="#fff" text-anchor="middle" textLength="40.2" lengthAdjust="spacingAndGlyphs">Melphalan</text>
<ellipse cx="107.5" cy="526.5" rx="14.0" ry="4.4" transform="rotate(-32 107.5 526.5)" fill="#4650b6" fill-opacity="0.85" filter="url(#bl)"/>
<path d="M111.0 491.3h1m37.1 7.1h1m-28.2-2.1h1m-3.3-6.3h1m13.9-.5h1m-22.8 2.2h1m4.6 2.6h1m-10.1 .8h1m8.4-2.2h1m-5.8-3.1h1m9.9 4.5h1m-8.8 .9h1m-6.5-1.5h1m2.5-1.2h1m1.1 2.6h1m-5.6-1.5h1m15.8-2.6h1m-4.1 3h1m-7.1-3.4h1m-16.5 5.5h1m18.8-1.2h1m-21.8-3.6h1m16 2.9h1m-2.6 2.6h1m-8.4-8.3h1m-3.8 4.9h1m.6 4.3h1m30.9-7.7h1m-28 3.3h1m-.3-3h1m12.5 3.3h1m-7.2-5.7h1m6.4 1.9h1m-27.5 2.6h1m.6 1.7h1m50.2 .5h1m-40.1 .2h1m-3.8 1.7h1m4.2-1.1h1m8.6 .1h1m-26.3-4.2h1m16.1 2h1m-4.6 8.2h1m7.1-2.2h1m-6.8-3.5h1m-9.1-.3h1m-4.9 .6h1m-19.2-3.4h1m38.5 5.8h1m-29.3-5.7h1m11.4 .7h1m22.8 5.6h1m-25-10.5h1m10.9 6h1m-10.5-5.1h1m9.5 2.6h1m-8.7 1.4h1m-7.3-.6h1m20.5 1.3h1m-19.7-2.4h1m-13.4 1.7h1m10.7-2.7h1m9 2h1m-20-2.5h1m20.9 5h1m-1.2-4.8h1m14.6 4.9h1m-32.9-2.7h1m14 .3h1m-27.9 3.6h1m13.5-2.6h1m5-4.9h1m2.5 5.9h1m-6.3-8.4h1m-1.4 7.8h1m-7.1-1.7h1m1-2.4h1m7.6 3.6h1m2-.9h1m-.1 5.7h1m3.1-6.1h1m1.2 5.9h1m-35.5-1.4h1m13.8-4.9h1m3.1-.5h1m-6.5 5.3h1m18.5-3.6h1m-4.5 .7h1m-10.8-1h1m1.6-2.4h1m12.2 2.1h1m-19.6-1.5h1m-.6-1.4h1m13 3.1h1m-6 5.1h1m9.9-.4h1m-13-4.1h1m3.3 .5h1m-15.9 .9h1m-5.5 2.1h1m9.7-2.6h1m-31.4-2h1m34.2 .3h1m5.5 3.7h1m-11.3 3.7h1m-4.4-8h1m14-3.6h1m-14 7.1h1m10.8-2.2h1m12.9 .6h1m-17.9 2.7h1m1.5-2.9h1m-6.1-3.5h1m-3.8-1.6h1m-.7 4.8h1m-3.4-2.8h1m10.7 3.6h1m-32-3.8h1m14.4 2.2h1m9.7-2.7h1m-18.3 2.7h1m7.5-.2h1m-7.8 2.6h1m12.1 1.9h1m3.8-3.8h1m5.8-1.7h1m-11.9 7h1m-15-4h1m10.1 .7h1m2.7-.1h1m8.6 2.2h1m-41.8-1.2h1m27.9-.8h1m-26.2 .2h1m28.1-4h1m-4.1 .6h1m-.4 1.3h1m3.5 .5h1m-6.8-.2h1m-12.8 .7h1m10.4-.7h1m8.8-1.1h1m-16.1-3h1m.6 6.1h1m-15.2-.6h1m26.2-3.7h1m-20.1 3.5h1m-3.7-.3h1m2.4-.8h1m-5.8-4.8h1m6 1.6h1m16.5 1.5h1m-6.5 5.6h1m6.2-6.2h1m-.2 1.3h1m-28.3-1.9h1m14.7 1.5h1m10.7 2.1h1m8.1-6h1m-43.5-1.9h1m-1.1 8.7h1m20.7-1.6h1m-10.2-1.6h1m-8.6 4h1m14.8 0h1m-14.4-7.7h1m-18 4.8h1m24.7 3.2h1m.7-4.4h1m4.9 .9h1m2.5 3.1h1m-9.7-3h1m-5.8-2.4h1m-5.9 1.3h1m-12.3-1.6h1m12.9 4.7h1m15.4-5.7h1m-5 6.8h1m15.1-6.6h1m-26.3 4.2h1m-19.7-3.7h1m28.9 2.8h1m1.5 3.4h1m-26.3 .2h1m-6.1 .5h1m19.2-3.5h1m5.4 .5h1m-22 .3h1m8 1h1m-6-2.6h1m-5.7 3.8h1m-2.5-2h1m15.6 2.1h1m-6.8-1.7h1m-4.5 .5h1m-23.2-3.5h1m48.9 .8h1m-31.8-2.2h1m8.3 2.5h1m-12.5 .3h1m16.4 2.5h1m-22.7-5.2h1m17.4 11.2h1m-4.3-8.4h1m11.7 3.5h1m-24.1-.6h1m4.2-8.9h1m3.7 5.7h1m25.7 4.3h1m-41.9-9.7h1m19.2 8h1m-11.8-4.3h1m10 1.2h1m2.9 1.7h1m-6.8-5.2h1m.4 5.1h1m-.9-2.1h1m-10.9-.2h1m3.3 3.6h1m-17.5 7h1m13.9-7.9h1m-5.8 .5h1m4.9-1.5h1m10.4-1.7h1m-5.1 2.5h1m0 3.1h1m6.3-3.3h1m-41 1.8h1m31.2-2.8h1m-6.2 6.8h1m-1.8-10.4h1m-14.9 5.6h1m20.3-.1h1m5.8-.7h1m-2.3-3.5h1m-13.8 0h1m7.3 2.2h1m2.2 .9h1m9.4-3.3h1m-7.9 .4h1m-13.4 4h1m-1.5 1.2h1m-.2-4h1m-.3-.3h1m-9.3-.1h1m13.5 8h1m-17.8-5h1m-2.2-1.4h1m12.2 2.7h1m-11.6 3.3h1m2.8-2.9h1m-22-6.5h1m31.9 3.4h1m-10.2-.8h1m-2.4 .2h1m5.7-2.2h1m-3.8 2h1m-11.5-1.7h1m30 3.6h1m-29.1-.8h1m15.3-3.6h1m8.8-.8h1m-29.1 3.1h1m7.2 2.8h1m-11.4-.4h1m20.4-1.4h1m-16.9-8.1h1m-9.8 7.1h1m26.7-.7h1m-5.6 1.1h1m-21.6-2.3h1m22.7 2h1m-12.3-.6h1m27.8 8.5h1m-12.4-5h1m-27-2.3h1m2.2 .4h1m-7.9-.2h1m10.6 .8h1m-2-1.5h1m6.9 1h1m-8.5 2.6h1m-18.8-.5h1m6.5-1.3h1m24.5 2.5h1m-4-2.7h1m-16-3.1h1m-.7-1.9h1m-1.4 2.7h1m1.2 1.5h1m-20.5 1.2h1m28.5 1.7h1m-18.8-4.1h1m8.2-.6h1m-31.6 3.9h1m30.6 1.1h1m11.6-4.2h1m-41.9 2h1m42 2.6h1m-13-2.6h1m-14.8-.9h1m-10.8-5.1h1m30.5 8.5h1m-11.3-1.7h1m2.8-1.3h1m-10.9-1.5h1m-7-1.9h1m18.1 2.8h1m-21.9 0h1m20.2 3.1h1m-30.4-5.8h1m7.5 6.6h1m-7-3.5h1m30.6 2.9h1m-36.1-5.4h1m6 3.3h1m19.7 2.2h1m-6-2.8h1m21.5-4h1m-5 2.9h1m-15 2.1h1m-.2-4.8h1m-29.8-.1h1m9.8 4.2h1m5.3-3h1m.8 4.1h1m-14.8-4.6h1m4.1-1.7h1m0 2.7h1m20.9 5.6h1m-8.3-5.9h1m-9.7 2.2h1m-.4 .6h1m5.5-3h1m-12.3 5.1h1m4-2.3h1m-17.8 .7h1m26.5-5.3h1m2.3-.2h1m-7.8-2.5h1m.3 6.4h1m-2.3-.1h1m18.2 2.4h1m-22.1 1.9h1m-18.5-4.3h1m2.2-.1h1m19.2 1.8h1m3 2.7h1m-4.4-5.9h1m-.2 3.7h1m-8.5-2.2h1m-20.2-.2h1m7.9 2.8h1m-13.6-4h1m15.3-.7h1m-12.2 4.4h1m15.8-1.8h1m-4.1-.6h1m-21.4 .4h1m29.8 1.6h1m-.7-2.2h1m-25.7 2.8h1m16.6-.9h1m5.6 2.7h1m-12.6-.5h1m12.2-1h1m-8.7-2.7h1m9.2 .8h1m-11.2-1.8h1m-5.1 8.6h1m6.8-7.6h1m2.1 1.9h1m-7.1 2h1m-9.1-6.8h1m-4.9 1.3h1m3.8 1.1h1m-3.3-1.5h1m7.9-.7h1m-1.4 1.9h1m-3.9 4.5h1m-.1-1.4h1m1-1.7h1m15.1 0h1m-5.1-4.2h1m-21.6 5.9h1m10.5-.7h1m-9.7-3.8h1m1.7 3.2h1m-2.7-1h1m-5.4-.8h1m-9.5-1.2h1m-13.7 .8h1m29.7-.6h1m10.4 3.5h1m-25.2-.3h1m15.4-.1h1m-11.4-1.2h1m6.7-.6h1m-13.5 6.1h1m5.6-9.7h1m.4 7.6h1m-27.2-2.1h1m29-.7h1m-5.1-1.4h1m-28.1 .7h1m35.2-2.4h1m-8.9-.5h1m1.7 3.1h1m.8-3.8h1m-10 6.2h1m-8.6 .7h1m6.3-11.4h1m-.8 4.7h1m29.7 4.6h1m-5.4-.1h1m-28-.3h1m-.2 .8h1m7.6 .8h1m1.8 .3h1m-15.6 2.3h1m-.7-1.8h1m4-2.4h1m-15.9 .7h1m7.9-1.9h1m-7.5 1.3h1m14.7 2.6h1m4.6-.6h1m-11.7-1.3h1m-12.1-.9h1m6.2-2.6h1m-.2 3.8h1m0 .3h1m4.4 1.2h1m-1.8 1.8h1m-22.6-3.2h1m23 1.2h1m-12.1-4.1h1m-1.4 4.6h1m10.9-.7h1m-11.1 1h1m-7.7-1.4h1m-.7-.4h1m7.3 2h1m4.1-4.2h1m2.6 2.6h1m-11.1 .8h1m-2.8-3.6h1m11.6-.7h1m-13.5 3.1h1m10.5-.6h1m-8.3 .9h1m-1 .1h1m-3.9-2.8h1m2.2 2.2h1m-5.5 1.5h1m-2.3-2.9h1m2.3 .2h1m-4.1-1.7h1m4.7 3.8h1m-2.3 2.2h1m-3.1-6.5h1m-.6 4.2h1m-1.2 .3h1m10.8-2.9h1m-11.5 .4h1m-4.5-1.3h1m.8 .5h1m4.7 1.8h1m-6.1 1h1m-.7-1h1m-1.7 1.4h1m1.5-1.3h1m.4-2.6h1m-.7 5.1h1m-13.5-.6h1m2.5-3.7h1m-10.4 4.9h1m19.6-2.6h1m.8-.6h1m.2 3.5h1m-8-8.6h1m5 1.7h1m-8.1 4.5h1m-1.5-1.8h1m-9.5-1.4h1m3.6 4.8h1m.1-2h1m8.1-3.4h1m3.4 1.2h1m-13.8 2.9h1m4.1 1.8h1m-1.6-7.4h1m-7.3 4.4h1m-6.7-1.2h1m4.8-2.7h1m-5.1 3.1h1m5.8-2.8h1m0 2.1h1m-1.2 4.2h1m-1-2.1h1m2.9 .5h1m-9.4-.4h1m9.9-.5h1m-16.4 1.3h1m9.4-4.2h1m1 1.6h1m-8.1 2.3h1m-5.8-3.1h1m12.4 .6h1m-8.9 3.2h1m7.7 .7h1m-1.1-4.2h1m-5.6-.4h1m-1 2.7h1m5-.6h1m-4.7-1.8h1m-8.9 2.4h1m5.6 0h1m1.4-1h1m-3.2 5.6h1m-1-3.1h1m-3-1h1m-.9 .4h1m-5.9 3.8h1m-3.9-3.7h1m14.3-3.5h1m-11.6 2h1m4.2-.5h1m-11.3-1.2h1m8.9 1.6h1m-6.9 0h1m21.7-.6h1m-24.9-.9h1m-.6 2.6h1m10.4-4.7h1m.1 4.7h1m-20.3-1.6h1m13.1 .5h1m2.7-5.2h1m-13.6 8h1m10.4-6.7h1m-8.2 1.7h1m-3.8 2.9h1m2.8-2.4h1m-1.6 .4h1m-6.6-3.6h1m20.7 3.5h1m-17.1 1.3h1m-2.7 .9h1m8.5-1.9h1m-6.5 1h1m7.4 .4h1m-10.6-2.1h1m2.7-.2h1m-2.5 5.3h1m-.6-5.5h1m-3.2 4.1h1m-.4-2.3h1m9.6 2.8h1m-15-4.2h1m-.2 2.3h1m.2-.4h1m4.4-1.1h1m-2 1.1h1m2.2-2.1h1m-14.6 1.3h1m8.6-.6h1m-3.6 2.3h1m-1.7-1.7h1m1.7-2.5h1m-13.7 2h1m12.4 .5h1m-1.8-1.6h1m-10.4 4.4h1m7-1.8h1m8.7 .8h1m-12.5-3.1h1m4.9 .7h1m-5.9 2.8h1m-4.5-4.8h1m-1.6 3.5h1m2.1-.5h1m9.1-1.2h1m-3.9 1.2h1m-10.1-2.3h1m9.2 2.5h1m-7.7-2.8h1m-4.4-.1h1m5.7 5.2h1m-9-4.1h1m-4.9-2.8h1m16 6.1h1m-19.5-3.4h1m13-5.4h1m-13.2 6.8h1m7.9 1.9h1m-2-1.1h1m-2.5 2.7h1m-11.3-3.7h1m11.3 1.5h1m-.6-3.2h1m-6.1 2.3h1m3.9 2.7h1m5.3-2h1m-11.1-.7h1m4.8-4.2h1m-9.4 3.2h1m8.1-1.8h1m.5 4h1m9.9-3h1m-10.3 2.2h1m-3.8-2.7h1m4.8 5.7h1m-15.2-6h1m11.2 2.6h1m-10.6 4.9h1m-1.4-4.8h1m9.1-2.1h1m-6.1 2.9h1m5.5 .7h1m-17.4-.2h1m9.2-5.6h1m-5.8 4.3h1m.6-4.6h1m-10.7 7.9h1m15.8-3.6h1m-5.3-1h1m-8.1 2.2h1m-3.1-.3h1m1.8-3.3h1m12.4 5.5h1m-9.8-3.7h1m-2.4-3h1m3.9 6.3h1m-3.8 .2h1m.3-.5h1m2-1.4h1m-3.4-2.9h1m2.2 3.6h1m-13.2 1.9h1m6.4-2.1h1m-3.5 1.6h1m1.7-4.7h1m-1.8 3.5h1m-4.5-.1h1m.7-4.8h1m6.6-.3h1m-9.8 1.8h1m-5.1 1.6h1m9.8 .7h1m.2 13.8h1m.3-3.9h1m-1.4 9.1h1m.6-6.7h1m2.9-11.1h1m-1.7 11.7h1m-5.3-2.2h1m1.5 10.6h1m-6.7-10.4h1m8.9-1h1m-11.3 3.5h1m16-1.1h1m-14.2-9h1m1.4 8.4h1m-9.2-2.5h1m2.3 9.5h1m3 5.5h1m-2.1-19.3h1m-6.1 .8h1m-5.3 .7h1m8.5 1h1m-.1-.2h1m2.2 4.1h1m4.5 5.7h1m-13.4-13.1h1m-14.3-1.4h1m13.7-1.6h1m-14.5 16.2h1m3.4 1.2h1m17.4-15.7h1m-4.7-.6h1m-10.6 9.7h1m-.9 5.3h1m3.3-.4h1m-14.2-4.5h1m16.8 2.7h1m-7.6-2h1m16.4-4.8h1m-24.1 13.5h1m15.4-10.5h1m-14.4-6.1h1m12.6 3.5h1m-16.9-5.9h1m12.6 8.6h1m-10.4 5.9h1m-4-12.9h1m4.3 13.1h1m4 5.3h1m-1.5-9.4h1m8.3-8.4h1m-7 1.6h1m-28.5 2.9h1m16.8-5.2h1m-13.7 .1h1m11.8 5.5h1m7 .4h1m-16.6 4.4h1m.2-10h1m9.6 16.9h1m-4.4-4.4h1m13.9-1h1m-11.1-8.5h1m.7 13.2h1m8.7-11.5h1m-18.9 11.9h1m2.9-4.1h1m-8.9-10.8h1m9 2.4h1m5.2 12.8h1m1.7-4.8h1m-12.2-6.3h1m-6.4 1.9h1m-1.4 0h1m-6.1-5.3h1m11.1 3.1h1m8.9-2.5h1m-30.7 1.3h1m.5 4.9h1m27.6-7.8h1m-25.1 9.2h1m14.5-3.4h1m-13.7 3.6h1m15.3 .7h1m-1 2h1m-5.9-3.4h1m4.3 .4h1m-7.2-4.9h1m3.1 4.2h1m9.1-8.1h1m-6.8 3.6h1m-15.1 5.4h1m-2.1-4.4h1m3.5 2.8h1m-.9-8.3h1m1.4 13.4h1m-6.4-10.8h1m9 5.4h1m-5.9-2.3h1m1.6 5.3h1m-3.8-7.3h1m3.8-3.4h1m-15.4-4.9h1m21.2 8.7h1m-10.9-4.9h1m-.2 9.6h1m.3 5h1m2.8-20.2h1m-3.8 5.1h1m-4.9 8.8h1m-4.4 5.1h1m-12.7-5.1h1m13.9 .1h1m-5.2 1h1m-1 .4h1m20.7 5.9h1m-35.1-5.7h1m14.3-10.2h1m8.3 4.2h1m-3 3.8h1m1.2-5.7h1m-21 3.1h1m1.4-1.5h1m11.7-.9h1m-8.4 7.7h1m15.1-6h1m-12.9-3.9h1m-1.2 2.1h1m1 4.1h1m-6.7 11.5h1m2.1-10.3h1m-7.4 6.8h1m4.1-5.4h1m-4.5-14.7h1m4.9 14h1m-14.4-6.8h1m-1.6-2.8h1m14.6 1.6h1m-2.8 15.8h1m-10.5-18.6h1m4.9 5.3h1m-7.6 9.8h1m23.7-2.7h1m-29.8-13.1h1m25.2 8.8h1m-21.3-2.2h1m9 1.7h1m-6.5 5.3h1m-2-7.4h1m9.6 1.4h1m-2 9.9h1m-9.8-18.3h1m-6 8.1h1m22.9 4.7h1m-6.4-9.5h1m-11.1 3.4h1m-4.5-3.8h1m3.7 8.2h1m-2.6-4.3h1m7.9 7.8h1m-18.3 1.3h1m6.9-5.4h1m-7.5-2.4h1m15.8 3.5h1m2.9-1.1h1m-16.1-7h1m4 12.6h1m6-4.6h1m-14.7 3.1h1m-6.1-11.9h1m14.8 12.4h1m16.4 7.3h1m-10.8 6.5h1m-14.5 8.5h1m8.7 .5h1m-1.6-7.7h1m.8 4.2h1m-3.9-5.5h1m3.7 6.6h1m-7.3-6.5h1m3.6 1.7h1m-7-4.5h1m4.1 1.9h1m4.9 12.7h1m-10.7-20.7h1m6.5 8h1m-11.1-4h1m2.3 10.4h1m-.1 5.8h1m8.7-14.3h1m-14.2-16.5h1m12.1 22.7h1m-18.6 0h1m7.5-15.4h1m6.1 9.6h1m-2.5 1.2h1m-12.2-15.1h1m-2.4 20.1h1m12.8-1.6h1m-15-1.3h1m11.1-8.8h1m-8.3 2.4h1m2.4 .5h1m14.3 7.5h1m-6.1-9.9h1m-5.6 16.5h1m-15.6-7.3h1m10.2-17.2h1m-2.8 26h1m-2-10.3h1m8.4-4.8h1m-21 4.4h1m12.3-13h1m-2.2 13.6h1m-6.8-17.8h1m15.3 9.6h1m-20.7 16.1h1m7.5-.7h1m-.6-10.8h1m-16-4.2h1m4 12.8h1m2.1-6.6h1m10.5 1.7h1m0 2.8h1m-3.3-11.5h1m-3.3 12.7h1m-17-19.7h1m14.8 24.2h1m-5.8-20.5h1m10.1 6.4h1m.2-.3h1m4.8 9.4h1m-11 .1h1m-.3-2.6h1m-13.2 1.3h1m6.3-.5h1m-9.6-3.7h1m13-12.4h1m-14.7-2.7h1m5.4 0h1m-5 15.2h1m1.3-1.2h1m5.1 .6h1m-7.7 2.5h1m4.2-3.1h1m-9.1-5.2h1m14.8-3.4h1m-14.4-2.7h1m9.9 21.1h1m6.4-2.1h1m-31.2-15.3h1m8.6 7.3h1m4.1 4.8h1m8.1 7.9h1m-11.9-14.9h1m4.7 5.2h1m-8.3 6.7h1m7.5-19.7h1m-12.7 6.9h1m12.5 4.7h1m-26.3-4.7h1m6.3 19.3h1m23.5-8.5h1m-11.9-4.5h1m-8-7.9h1m19.4 12.4h1m-8.6-1.6h1m-.5-7.8h1m-11.2 .6h1m5.9-7h1m-1.8 9.4h1m-15.3 6.4h1m13.9 .9h1m-6.2-2.9h1m8.8 1.7h1m-.9-9.6h1m-13.9 .8h1m-.7 11.4h1m4.2-5.1h1m2.1-8.5h1m-8.1 8.8h1m1 2.2h1m3.8-.8h1m-2.2-4.1h1m3.9-4.2h1m-7.2 6.2h1m-8.4 8.8h1m-6.8-10.5h1m16-5.6h1m-8.6 6.9h1m-1.1-10.7h1m-.6 9.9h1m-9.5-3.6h1m6.9 8.6h1m-15.7-5.8h1m13.6 6.4h1m-4.3 8.5h1m17.2-17.1h1m-10.3-4.2h1m-5.4 8.8h1m1.5-3.7h1m2.8 1.5h1m-10.9-5h1m2.5 7.8h1m-1.8-3.3h1m17.9-15.1h1m-17.1 13.1h1m-14.6 3.8h1m17.4 5.7h1m11-11.9h1m-24.6-1.5h1m28.5 13.2h1m-24.6-11.9h1m6.1 4.9h1m-11.4 2.4h1m.9 1.8h1m-7.4-4.9h1m.2-7.6h1m-8.3 14.4h1m21-9.8h1m-16.3-.6h1m9.1 17.1h1m-1.3-7.6h1m-7.5-13.1h1m3.6 3.9h1m-1.9 1.6h1m-3.7-3.4h1m2.6-7.9h1m-1 18.4h1m-8.1-.2h1m-2.9-3.6h1m-10.1-35.6h1m23.2 4.4h1m-16.7-2.6h1m-15.2 1.9h1m7.2-1.8h1m-3.8 2.4h1m19.9 1.6h1m2.4-.4h1m-2.8-3h1m-4.4-4.3h1m3 8.7h1m7.8-7.9h1m-34 3h1m-.3 4.5h1m34.2 2.1h1m-6.1-2.8h1m-11.8-6.7h1m5.5 9.3h1m-8.5-10.1h1m-17.8-.1h1m11.9 7.7h1m-17.1 2h1m-8.3-3.1h1m11 2.6h1m22.5-2.5h1m-34.5-6.2h1m-5.6 5.9h1m8.5 1.6h1m26.4-3h1m3.9 2.4h1m-31.4-2.7h1m33.3-4h1m-25.1 8.4h1m9.4-7.2h1m-1.9 0h1m-12.2-.9h1m18.9 2.4h1m1.8 .6h1m-22.3-2.2h1m-9.6-.4h1m30.8 3.2h1m-12.8-4.9h1m-17.8 5.3h1m-11-4.2h1m10.5 .3h1m1.5-.2h1m17.5 8h1m-6.6-.3h1m-10.6 1.8h1m18.9-1.9h1m-17.2-3.3h1m13-1.3h1m-41 2.1h1m-.2 .5h1m38 4h1m-7.2-7.2h1m-24.8 6.2h1m-8 .6h1m-3.4 0h1m11.4-3.6h1m27.3-.1h1m-35.7 4.2h1m1.9-6.4h1m28.1 3.9h1m-33.4-7.6h1m1.8 1.7h1m24.3 2.9h1m4.5 2.6h1m3.3-6.1h1m-45.9 7h1m13.3-2.7h1m13-4.8h1m-14.9-1.1h1m19.5 4h1m-26.8 4.6h1m17.9 1.7h1m-23.1-2.3h1m-1.6-5.9h1m31.4 7.4h1m-9.5-8.2h1m-4 2.7h1m-10.6 3h1m13.9-3.7h1m12.9-.1h1m-29.9 1.2h1m-17.3 5.1h1m9.5-4.7h1m25.1-4.2h1m-25.1 2.9h1m21.8 2.5h1m-15.1 44.8h1m35.5-63h1m-40.3 21.8h1m23.8 29h1m-4.6-46.9h1m-26 34.9h1m-5.1 22.6h1m2.6-26.3h1m-31-36h1m-3.9 7.4h1m1.4 20.1h1m.5-27h1m-5.3 44.1h1m26.7-26.6h1m-22.8 5h1m72 30h1m-51.3-3.4h1m-36.4 4.5h1m56.7-41.5h1m3.8 10.5h1m19.5 19.9h1m-62.9-9.2h1m5.5 20.7h1m36.9-26.7h1m-11.8 33.8h1m-1.1-46.9h1m26.2 29.5h1m4.5 9.9h1m-88 12.8h1m32.4-41.5h1" stroke="#5050b8" stroke-width="1" stroke-opacity="0.33" fill="none"/>
<path d="M107.6 530.4h.8m4.1-9.4h.8m-9.6 .8h.8m4.3 5.3h.8m1 5.2h.8m-8 0h.8m-1.7 1.8h.8m-2.8-6.9h.8m15.3-5.5h.8m-17.3 3.6h.8m7 8.7h.8m-3.6-3.8h.8m3.3-12.9h.8m9.4-5.4h.8m-18.9 20.4h.8m9.8-8h.8m-4.8 .8h.8m-2.4 4.6h.8m7.8 0h.8m-17.3 3.9h.8m11.5-16.1h.8m-2.6 7.5h.8m-12.1 2.6h.8m19.9-11h.8m-4.5 6.7h.8m.7-2.8h.8m-22.4 10h.8m10.1-2.8h.8m-4.1-1h.8m10.3-1.7h.8m3.4-5.7h.8m-24.6 17.4h.8m12.8-11.1h.8m-.2 3.6h.8m6.3-7.9h.8m-8.5 5.3h.8m-11.2 4.4h.8m8.6-3.2h.8m-10.5-1.3h.8m8.9 11.1h.8m-.4-13.2h.8m-3.4 4.6h.8m4-5.2h.8m-14.6 8.5h.8m30.1-15.8h.8m-10.5 2.5h.8m-4.8 2.8h.8m-17.8 7h.8m-6.6 5.4h.8m8.6-6.9h.8m9.3 5.3h.8m12.5-20.5h.8m-7.4 5.1h.8m-12.6 12.3h.8m14.6-4.8h.8m-6.1-8.8h.8m-9.8 6.2h.8m11.3-1.1h.8m-7.2 4.8h.8m-11.4-.2h.8m-5.4 1.4h.8m8.7-2.6h.8m10.7-.6h.8m-20.1 9h.8m-1.4 3.4h.8m14.2-12.7h.8m-25.6 15.8h.8m35-19.8h.8m-19.4 8.7h.8m8.8-4.6h.8m5.8-8.6h.8m-25.6 16.7h.8m4.2 1.1h.8m23.1-17.7h.8m-21 10.6h.8m2.8 3.2h.8m1.8-2h.8m4.5-5.5h.8m0-3.4h.8m-7.2 10.4h.8m-1.4 6.6h.8m-4.4-10.7h.8m.6-3.6h.8m8.2-2.7h.8m-10 5.2h.8m11.4-9h.8m-21.1 13h.8m13.4-.9h.8m8.6-5.8h.8m-3.3 3.9h.8m-9.4 2.5h.8m-12.2 2.4h.8m3.2 3.6h.8m.5-7.4h.8m3.2-1.5h.8m-6.5 .3h.8m-5.8 12.5h.8m4.3-4h.8m6.2-10.1h.8m1.9-1.1h.8m-17.3 11.6h.8m7.4-4.5h.8m-9.6 8.1h.8m6.3-7.5h.8m31.1-18.6h.8m-30.7 11.2h.8m-1.8 5.3h.8m-5.3-3h.8m.7 13h.8m-6.4 2h.8m11.9-10.6h.8m-1.9 2.2h.8m14.1-5.8h.8m-26.4 11.9h.8m10.6-17h.8m8.5-.5h.8m-29.7 9.8h.8m21.8-8.2h.8m-18.8 9.6h.8m17.6-6.7h.8m7.2-3.4h.8m-14.4 3.3h.8m2.5 .5h.8m-7.3 6.2h.8m6-5.9h.8m5.6-4.1h.8m-14.8 .1h.8m3 5.2h.8m5.4 1h.8m1.6-3.6h.8m-22.6 6.9h.8m14.2-4.7h.8m-5.5 5h.8m6-9.1h.8m6.2 2h.8m-8.9-.6h.8m7.5-3.4h.8m-17.8 11.5h.8m7.7 3.8h.8m-9.7-4.4h.8m6.8-5.7h.8m1.7 3.4h.8m-5.1-1.9h.8m-7.4 6.7h.8m3.6-12.2h.8m.9 8.8h.8m6.6-5.8h.8m-9.7 .6h.8m14.8 .5h.8m-10.7 0h.8m-16.7 10.1h.8m10.1-11.2h.8m-10.9 5.2h.8m19.3-8.5h.8m1.1-4.9h.8m-8.4 12.6h.8m3.4-1.2h.8m-17.8 4.8h.8m-8.6 1.1h.8m14.2-4.7h.8m.3-3.3h.8m-8.2 9.5h.8m11.5-7.6h.8m-.2-2.8h.8m2.6-.2h.8m7.8-1.6h.8m-5.3 5.4h.8m-13.7-.6h.8m5 1.2h.8m1.3-5.1h.8m-14.8 5.6h.8m21.4-4.8h.8m-5.6-.4h.8m-9.8 4.6h.8m-3.6 2.6h.8m32.2-22.6h.8m-25 11.6h.8m4.9 7.5h.8m4.3-6.6h.8m-8.2 2.1h.8m-5.5 5.7h.8m3.6-1.5h.8m-15.8 3.6h.8m13-5.6h.8m-19.6 8.2h.8m15.9-6.7h.8m-1.3-3.1h.8m-12.3 17.6h.8m20.9-24.4h.8m-22.7 17.1h.8m15.9-10.6h.8m-14.2 5.2h.8m7.8-.4h.8m-10 1.8h.8m22.7-16h.8m-11.2 8.1h.8m3.8-5.8h.8m-5.2 10.3h.8m-2.5-1.1h.8m-4.3 3.5h.8m-7.9-4.6h.8m8.6 .5h.8m-6.1-.8h.8m-1.7 3.9h.8m-8 9.1h.8m5.6-7.9h.8m5.4-5.6h.8m-6.8 8.8h.8m5.3-4.2h.8m-3.1 4.6h.8m-14.1-6.1h.8m4 5.5h.8m-.8-2.8h.8m1.8-3.5h.8m1.2 2.7h.8m7.5-10.2h.8m-19.5 7.5h.8m-5.8 8.3h.8m21.2-11.2h.8m-5.8 11.4h.8m-2.8-8.9h.8m18.9-14h.8m-10.5 2.9h.8m-4.7 8.8h.8m2.1-1.4h.8m-6.4 5h.8m2.8-8.5h.8m-11.6 9.4h.8m-4.2-3.7h.8m5.4 5.7h.8m11.8-14.7h.8m-3.1-3.2h.8m-10.5 21.3h.8m11.6-10.3h.8m-11.2 5.9h.8m8.7-5.9h.8m-13.9 2.8h.8m12.7-.2h.8m-12.7-.9h.8m3 9.2h.8m-1.7-6h.8m-3-6.7h.8m-1.8 11.1h.8m-4.9 6.9h.8m18.8-20.9h.8m-14.5 13.7h.8m-13.9 3.2h.8m-5 1h.8m-8.3-2.9h.8m22.7 .2h.8m11.3-14.1h.8m-22.3 16.6h.8m6.6-10.5h.8m-12 7.9h.8m25.3-8.4h.8m-9.1-.7h.8m-1.1 .2h.8m5.6-7.4h.8m4 2.7h.8m-4.5 4.6h.8m-15.3 4.2h.8m-6.1 4.3h.8m-.4-4.2h.8m-1.7 10.7h.8m23-22.7h.8m-15.3 10.9h.8m4.9 3.6h.8m-3.7-5.7h.8m10.9-12.4h.8m-19.5 14.1h.8m13.6-6.8h.8m-3.8 10.3h.8m-7-2.2h.8m-15.2 7.2h.8m22.9-10.7h.8m-12.8 9.3h.8m-2.2-7.1h.8m8.3 2.9h.8m-2.8-1h.8m6.4-6.1h.8m-19.5 .7h.8m10.1 3.2h.8m2.1 2.8h.8m-5.6-3.5h.8m8.7 4.1h.8m-11.9-1.8h.8m8.5-10h.8m-12.6 13.7h.8m-7 2.7h.8m10.9-5.2h.8m6.7-8.9h.8m-11.1 12.5h.8m-4.9-4.7h.8m2.5 .6h.8m.7-6.4h.8m-2.6 2.9h.8m4.7 .5h.8m-17.9 7.3h.8m24.3-14.8h.8m-7.4 5h.8m-11.1 8.3h.8m17.3-9.3h.8m-7.9 4.4h.8m7.5-4.1h.8m-22.6 10.4h.8m19.7-15.8h.8m-15.1 4.8h.8m-14.7 13.6h.8m20-14.7h.8m-10.7 2.2h.8m-.2 13.2h.8m-.8-13.7h.8m-10.2 14.5h.8m18.9-11.6h.8m-8.3 1.6h.8m3.8 8.2h.8m7.6-15.3h.8m-12.8 4.4h.8m-1.7 10.5h.8m-7.5-5.9h.8m4.9-6h.8m8.6-4.2h.8m-12.8 8.9h.8m-3.1 4.2h.8m14.8-8.6h.8m-10.8-1.2h.8m1.9 5.8h.8m18.8-4.8h.8m-31.4 7.4h.8m11.1-5.1h.8m-14.5 11.8h.8m11.4-5.6h.8m2.7-9.6h.8m2.8-3.4h.8m-19.3 11.4h.8m19.1-4.2h.8m-1.5-.3h.8m-13.2-4.3h.8m19.1-12.3h.8m-18.1 14.3h.8m-8.1 3.5h.8m12.7-.8h.8m-18.7 10.4h.8m28.5-11.5h.8m-7.2-.5h.8m-12.7 4.7h.8m8.9-1.9h.8m-5.1-5.5h.8m9.1-8.1h.8m-17.9 16.3h.8m-4.4 5.8h.8m-11-3.7h.8m17-1.2h.8m-10.7 6h.8m7.6-10.5h.8m4.8-.9h.8m-8.1 2.8h.8m-4 3.4h.8m16.9-8.2h.8m-14.4 2.1h.8m5.8 3.2h.8m4.4-4h.8m-18 11h.8m-3-10h.8m25.7-16.1h.8m-16.7 20h.8m-9.9 .6h.8m5.1-4.1h.8m-3.4 1.3h.8m-6.9 1.5h.8m7.4-.9h.8m1.4-3.1h.8m-.6 .1h.8m5.5 .6h.8m-21.3 6.2h.8m5.2 5.4h.8m10.8-20.5h.8m-1.9 19.4h.8m5.1-19h.8m-4.4 9.9h.8m-13.3 9.2h.8m12.5-11.9h.8m-11.4 9.5h.8m7.5-8.5h.8m3.7-9.4h.8m9.7 1.8h.8m-16.1 12.7h.8m2-8.5h.8m-5.8-1.3h.8m4.9 .7h.8m-24.8 18.7h.8m15.7-10.4h.8m5.9-1h.8m-.4-2.4h.8m-10.3 5.7h.8m6.8-14.7h.8m8.9 10.7h.8m-12.6-1.3h.8m-1.6 3.8h.8m-4-2.8h.8m3.4-1.9h.8m7.5-4.3h.8m4.4 2.7h.8m-16 9.3h.8m-6-.3h.8m2.7 3.2h.8m8.6-15.3h.8m-5 6.3h.8m-1.9-3.2h.8m3.7 4.1h.8m-3.9-3h.8m-2.9 5h.8m-6.5 6.6h.8m-4.4-12.9h.8m12.5 8.6h.8m-2-6.6h.8m-7.8 1.8h.8m-4-4.3h.8m15.7-4h.8m-18.4 3.1h.8m8.7 3.6h.8m-5.4 1.8h.8m-1.3 8.3h.8m-9.7-3h.8m9.2-.7h.8m-2.8 1.6h.8m13.6-5.4h.8m-20.2 3h.8m6.6-.7h.8m3.3-11.6h.8m-6 4.8h.8m5.4-.5h.8m2.2-.9h.8m-22 8.5h.8m10.2-3.6h.8m-3 5.8h.8m14.8-14.4h.8m-11.5 7.9h.8m2.6-5h.8m12.4 .7h.8m-15.7 11h.8m-.4-6.6h.8m1.2-2.5h.8m-2.8 8.3h.8m8.7-10.6h.8m-6.2-1.2h.8m-.6-2.9h.8m-6.7 6.8h.8m1.2 9.8h.8m-5.9-7.9h.8m5.4 10h.8m-15.7-2.2h.8m14.1-10.2h.8m5.4 2.3h.8m-9.9-.6h.8m-3.4 4.1h.8m.7-6.6h.8m.3-1.4h.8m.9 .9h.8m12.1-4.2h.8m-22.6 10.1h.8m6.1-9.6h.8m6.1 5.5h.8m-6.6 1.1h.8m-3.4 1.1h.8m-7.4 2.8h.8m-.5-6.7h.8m16 4.8h.8m1.1-9.5h.8m-14.9 12.9h.8m9.3-2.8h.8m-.9-1h.8m1.2-5h.8m-6.9 3.1h.8m1.2-.1h.8m3.7-.4h.8m-17 8.8h.8m6.5-8.7h.8m-12.9 11.2h.8m-2.5 .7h.8m8.5-4.5h.8m-7.1 2h.8m16.8-6.3h.8m.8-5.7h.8m-9.4 8.1h.8m-1.1-3.2h.8m-2.6-1.3h.8m-1.7-1h.8m3.6 .4h.8m2.1 1h.8m-5.6 5.9h.8m-5.7-2.3h.8m.4-2.5h.8m9.2-6.2h.8m-6.8 10.9h.8m11.2-12.2h.8m-14.7 6.2h.8m13.6-4h.8m-23.8 6.2h.8m5.5 1.7h.8m7.8-5.9h.8m-.9-.4h.8m-7.5 .2h.8m19.6-4.2h.8m-14.4 11.2h.8m-4.5-9.6h.8m-4.7 8.2h.8m16.9-9h.8m-3.9 8.4h.8m-9-5.6h.8m-17.1 8.1h.8m15.9-6.7h.8m-3.4 9.7h.8m2.1-9.6h.8m3.5-1.9h.8m-10.6 12.1h.8m-.5-15.7h.8m4.1-3.2h.8m-.7 12.2h.8m-4.7 1.9h.8m-10.2-2.8h.8m5.6 3.7h.8m-6.2 1.4h.8m16.4-10.1h.8m-9.2 1.2h.8m-10.1 7.2h.8m7.5-6.8h.8m-8.7 8.6h.8m-16.3 8.6h.8m36.3-15.6h.8m-2.9-2.8h.8m-24.6 6h.8m8.4 2.2h.8m8-1.4h.8m-7.3-.5h.8m-2.9 4.5h.8m-.3-4.8h.8m2.6 .8h.8m-6.1-3.2h.8m8 1.3h.8m-8-4.1h.8m.1 10.1h.8m0-11.7h.8m-14.5 6.2h.8m27.2-7h.8m-25.9 12.9h.8m12.1-6.9h.8m2.9-1.1h.8m-1-1.7h.8m-3.5-1.7h.8m8.7-1.5h.8m-18.5 11.5h.8m7.4-4.5h.8m3.5 3.3h.8m-10.5-4.8h.8m-.1 2.7h.8m14.1-7.3h.8m-17.5 6.4h.8m-.4-3.2h.8m1.8 .8h.8m2.6 4.4h.8m-.4-5.6h.8m-1.9 4.3h.8m1.1-6.6h.8m-.5 4.5h.8m-.2-4.8h.8m5.5-4.6h.8m-15.6 13h.8m17.7-11.8h.8m-13.9 13.9h.8m1.9-14.1h.8m-.7 8.5h.8m-2.2 5.3h.8m-13.7 7h.8m22.7-21.6h.8m-19 10.2h.8m-.7 .6h.8m14.4-6.3h.8m-8.3 4.3h.8m13.1-8.1h.8m-2 1.8h.8m-11.1-.3h.8m-4.3 2h.8m2.9-2.7h.8m-16.5 9.4h.8m12.5-3.4h.8m-.3 1.3h.8m-1.4 9.3h.8m1-9.2h.8m-14.5 6.5h.8m19.3-6.9h.8m-1.8-8h.8m-18.1 15.1h.8m11.1-4.9h.8m9.3-7h.8m-9.9 4.1h.8m-12.9 4.6h.8m-2.1-2.8h.8m14.8-5.4h.8m5.7-5.8h.8m-20.2 17.2h.8m6.1-7.6h.8m-5.6 5.8h.8m-1-8.5h.8m8.2 4.7h.8m-6.7-3.7h.8m-6.8 1h.8m20.2-12.4h.8m-16.2 12.6h.8m2.1 5.2h.8m8.1-7.2h.8m-12.4-.3h.8m-.1 4.6h.8m7.4-5.9h.8m-18.1 5h.8m13.4-6.6h.8m-.6-4.3h.8m-1.4 5h.8m-10.2-1.2h.8m3.8 4.6h.8m-13.7 7.5h.8m11.2-7h.8m2.2-2h.8m7 3h.8m-8.8-.9h.8m-3.7 4.1h.8m-3.2 3.6h.8m5.3-3.3h.8m.2-1.5h.8m4.9-8.5h.8m-10.7 4h.8m-4 3.3h.8m2.7-.9h.8m-2.7 3.1h.8m.9-1.5h.8m-13.3 12.5h.8m1.6-6.2h.8m5.5 3.6h.8m10.1-9.9h.8m-7.5-1.8h.8m3.3 2.8h.8m0-15.4h.8m-9.5 22.4h.8m13.6-12.9h.8m-6.4 3.5h.8m-12.7-.9h.8m23 1.9h.8m-27.3 5.5h.8m1.7-1.1h.8m8.2-.6h.8m1.4-6.6h.8m-6.4 .9h.8m-12.4 13.2h.8m9.7-13.2h.8m3.9 4h.8m17.5-13.8h.8m-7.6 8.2h.8m-14.2-.9h.8m-5.4 12.6h.8m8.1-9.3h.8m-8.9 11.7h.8m4.6-13.8h.8m4.9 6.4h.8m-8.6 .3h.8m4.2-2.8h.8m-7.8-1.6h.8m-.3 4.7h.8m14.9-9.3h.8m-10.5 .1h.8m-7.9 3.1h.8m-3.5 3.2h.8m10.1 2.1h.8m-.2-5.5h.8m2.7 .9h.8m2.6-4.7h.8m-8.6 4.1h.8m-12.2 7.6h.8m21.2-16.3h.8m-4.2 8.7h.8m-5.1-1.5h.8m3-2.2h.8m-24.5 8.4h.8m10.4-.3h.8m-3.6-2.1h.8m12.1-7.4h.8m-15.5 15.3h.8m1.7-10h.8m14.3-5.9h.8m-5.7 6.3h.8m-7.5 6.3h.8m12.9-15.2h.8m-22.9 17.2h.8m12.3-8.3h.8m-8.4-1h.8m2.8-6.2h.8m-6.2 4.2h.8m-.4 9.8h.8m6.1-6.3h.8m-14.7 3h.8m14.1-6.5h.8m-6.7 4.6h.8m8.4-5.6h.8m-10.3 7.2h.8m1.6 7.4h.8m1.7-13.4h.8m7-1.2h.8m-26.7 12.6h.8m15.5-9.7h.8m2.5-3.1h.8m-14.7 11.3h.8m2.6-3.4h.8m12-4.4h.8m-11.8 6.4h.8m-1.4-4.1h.8m21.5-2.8h.8m-25.8 3.4h.8m2.5 4h.8m-4.4-2h.8m1.8 6.5h.8m21-13.3h.8m-6.4-.8h.8m-22.9 5.2h.8m28.8-5.5h.8m-12 1.7h.8m-8.9 2.5h.8m9.7 .7h.8m-7.5-3.8h.8m-6.1 10.4h.8m-10.9 0h.8m7.3-.8h.8m3-8.8h.8m-2.2 3.6h.8m-4.5 .2h.8m12.2-7.3h.8m-14.2 12h.8m12.9-10h.8m-10.2 7.3h.8m5.5 .4h.8m-12.4 1.7h.8m4.3-10.1h.8m-3.7 8h.8m-7.2 5.5h.8m13.5-5.2h.8m-1 .2h.8m5.6-4.3h.8m-7-.9h.8m-8.8 8.5h.8m-1.5-7.8h.8m-9.7 16.4h.8m7.7-8.7h.8m17.1-10.9h.8m-.8-3.6h.8m-5.5 4.7h.8m-5.5 .1h.8m3.5 2.2h.8m-4.9-5h.8m-13.1 16.8h.8m4.8-5.2h.8m17-5.2h.8m-4.5-5.9h.8m-7.9 4.2h.8m-4.3 3.3h.8m-1.6-.1h.8m-2.2 .4h.8m-5.4-1.1h.8m-8.2 4.6h.8m15.4-8h.8m-4.7 3.5h.8m-.7-3.6h.8m13.5-8.8h.8m-7.5 7.6h.8m-8.5 8.9h.8m7-8.5h.8m-14.6 12h.8m18.5-10.9h.8m-6.9 3.1h.8m-6.3-1.3h.8m4.8-3.5h.8m3.1-8.3h.8m-12.8 12.3h.8m-2.6 5.7h.8m19.3-18.8h.8m-11.9 16.7h.8m10.2-6.6h.8m-20 4.8h.8m9.3-1.1h.8m-12.5-2h.8m9.2-4.8h.8m-6.3 6.1h.8m-3 2.9h.8m15.3-10.8h.8m-11 3.6h.8m-13.2 19.1h.8m9.4-13.1h.8m-5.8 3.1h.8m-2.4 2.6h.8m3-4.4h.8m-.7-1.7h.8m2.4-3.3h.8m-8.9 .8h.8m-3.1 13.9h.8m4.7-13.1h.8m8.4-8.6h.8m-15.9 12.8h.8m12.4-11.5h.8m4.5 11.1h.8m-10.4-.5h.8m6.6-.5h.8m-8.5 5h.8m.2-4.1h.8m-5.4 2.8h.8m7.9-10.5h.8m7-2.4h.8m-16.9 8h.8m14.3-6.8h.8m-26.8 13.3h.8m11.9-.2h.8m-2.6-.8h.8m17.9-15.2h.8m-20.8 6.3h.8m13.6 .3h.8m-21.4 13.7h.8m13.5-12.7h.8m.5-5.5h.8m-2.3 7.6h.8m-19.6 14.2h.8m15.4-21.9h.8m8.3 4.2h.8m-1.2-9.2h.8m-4.3 9.7h.8m-13.3 14.4h.8m7.2-11.6h.8m8.2-4h.8m-15 5.7h.8m10-5.5h.8m-4.4 11.5h.8m1.7-5.5h.8m1.2-7.8h.8m-11.8 6.6h.8m26.4-15.5h.8m-17.1 18.9h.8m-2.9-6.6h.8m-7.2 7.6h.8m2.5-7.9h.8m-4.9-1.1h.8m-5 13h.8m-3.8-3.7h.8m11.4-10.5h.8m-3.4 2h.8m-19.7 11.9h.8m2.9-2h.8m11.3-11.3h.8m5.8 6.7h.8m2.8-5.4h.8m-13.5 10.3h.8m10.5-12.3h.8m-6.3 6.1h.8m-2.6 .4h.8m3.7 1.2h.8m7-6.3h.8m-4.8 .7h.8m-.1-4.4h.8m-13.6 5.8h.8m3-.8h.8m-7.1 4.6h.8m3.9-2.6h.8m-.9-2.7h.8m3.9 8.6h.8m5.5-9.5h.8m-7-5.1h.8m3.3 1.1h.8m-5.9 2.2h.8m9 .1h.8m-6.5 6.8h.8m2-9.8h.8m-1.4 6.7h.8m-.7-3.6h.8m-4.3 7.8h.8m-9.1 6.1h.8m-4.2-2.1h.8m25.3-14.7h.8m-13.8 5.3h.8m-1.1-1.3h.8m-6.7 .6h.8m-.3 5.6h.8m23.3-16.7h.8m-31.1 17.7h.8m7.6-4h.8m-.9-.4h.8m-10.4 2.6h.8m-.9 2.1h.8m6.4 2.1h.8m-.6-5.6h.8m1.1 5.3h.8m4.3-13.3h.8m-16 8.8h.8m13.6-3.2h.8m8.3-3.1h.8m-7.6-1.4h.8m-13.7 13.1h.8m-13.8 9.3h.8m27.8-17.3h.8m-5.5-1.7h.8m-8.8 5.2h.8m10.3-13.3h.8m-10.4 12.7h.8m3.5-1.7h.8m-7.3 8.5h.8m4.5-13.9h.8m-5.6 4.7h.8m-1.6-.1h.8m14.3-2h.8m-13.3-5.7h.8m-11 12.1h.8m21.1-1.3h.8m-2.2-4.6h.8m-16.8 2.1h.8m4.8 1.6h.8m4.1 .4h.8m-3.6 .6h.8m.6-3.9h.8m2.1-4.1h.8m-6.4 9.9h.8m16.9-14.3h.8m-20.2 15.3h.8m-.2-2h.8m16.4-14.1h.8m5.6 3.5h.8m-21.7 5.4h.8m-.8 3.7h.8m-9.3 1.1h.8m16.4-9.2h.8m-8 4.5h.8m-9.2 3.6h.8m10.1-3.3h.8m8.3-1.5h.8m-4.9 4.8h.8m9.8-8.3h.8m-11.5 .3h.8m-3.2 8h.8m-6.2-.8h.8m6 1.2h.8m-1.2-11.7h.8m1.3 9.4h.8m-3-6.8h.8m-3.9 8.8h.8m.4-7.1h.8m5 1.8h.8m-13.2 3.1h.8m-12.1 .7h.8m23.4-11.5h.8m-8.1 7.4h.8m-7.9 5.5h.8m.2-9.5h.8m-2.6 5.2h.8m-10.8 8.1h.8m11.5-5.6h.8m-9.3 7h.8m9.5-10.6h.8m-4.4-.5h.8m11.7-.6h.8m-11.3 4h.8m5.1 1.2h.8m-8.4-.9h.8m.7 3.7h.8m-11.1 .4h.8m19.1-7.9h.8m-7.3 3.4h.8m-5.8 4.5h.8m2.7-7.6h.8m-4 5.2h.8m-4.4-.6h.8m7.7-2.6h.8m7.8-2.3h.8m-7.8 13.6h.8m-14.6-3h.8m6.5-1.8h.8m16.1-13h.8m-18.5 15.1h.8m13-11.2h.8m-10.4 8.3h.8m5.3-6.5h.8m-3.6 9.7h.8m-13.5 3.9h.8m2.4-14.1h.8m21.6-6.1h.8m-17.9 9.8h.8m.3-9.6h.8m-5.1 7.9h.8m1.4 .2h.8m2.1-2.9h.8m1.9 1.8h.8m8.8-13.6h.8m-13 17.6h.8m-2 .8h.8m-5.1 1.1h.8m-6.9 1.1h.8m-2.4 2.3h.8m15.3-11.9h.8m-16.8 16.3h.8m22.5-17h.8m-2.3 6.7h.8m-13.5-1.3h.8m-4 9.2h.8m4.4-11.2h.8m-.1 1.1h.8m5.9-7.6h.8m-12 13.1h.8m.9-3.3h.8m2.8 .4h.8m-.9 3.5h.8m-6.1-2.7h.8m-8.2 6.3h.8m.7 1.1h.8m4.7-7.2h.8m1.7-3.5h.8m9.9-3.2h.8m9.3-5.7h.8m-4.8 3.6h.8m-10.6 6.3h.8m7.7-11.1h.8m-13.7 12.4h.8m-2.5 4.1h.8m17.4-18h.8m-24.6 18.1h.8m2.4-5.8h.8m1.7 1.5h.8m14.8-3.6h.8m-18.9 5.2h.8m7.5-9.7h.8m-7.4 9.3h.8m-7.1 3.4h.8m11.7-4.3h.8m-5.7-6.6h.8m-9.9 7.4h.8m2.8 1h.8m-2.8-4.5h.8m17-.6h.8m-10.1-6.5h.8m-.3 4.4h.8m-.1-3h.8m-6.6 6.8h.8m8.9-.4h.8m-9.2 4.5h.8m-5.7 4.3h.8m3.4-3.8h.8m1.4-11.7h.8m2.4 7.1h.8m2.6-10.5h.8m-18.9 16.6h.8m10.3-6.6h.8m3.5-3.3h.8m-9.1 9.3h.8m6-9.3h.8m-1.3 10.2h.8m-8.1 .1h.8m17-8.8h.8m-20.3 10.5h.8m17.3-10.8h.8m-13 4h.8m-1.2 8.1h.8m-5.7-8.7h.8m3 3.5h.8m-2.4-.7h.8m7.1-5.9h.8m-15.8 11.5h.8m20.5-17.5h.8m-1 6.4h.8m3.2-2.8h.8m-19.7 9.1h.8m-9.6 8.1h.8m8.7-12.9h.8m1.3-4.3h.8m4.8 1.2h.8m-6.3 4.8h.8m7.2 5.7h.8m-3.8-8.8h.8m-11.3 11.5h.8m23.9-16.2h.8m-20.4 17.2h.8m6-12h.8m6.3-2.3h.8m-16.2 6.3h.8m3.9-5.6h.8m11.1-7.9h.8m-14.7 9.5h.8m13 0h.8m-8.4 .3h.8m-2.1-.9h.8m3.2-1.8h.8m-8.9 2.8h.8m.3 1.4h.8m7.9-5.5h.8m-4.8 5.2h.8m1.4-.4h.8m-17.9 .8h.8m11.5-.5h.8m10.2-2.3h.8m-7.4-5.3h.8m-3.6 4.8h.8m-6.4 5.1h.8m.1 3.1h.8m6.1-6.3h.8m5.1-6.9h.8m-9.8 8.5h.8m9.6-4.4h.8m-13.9 5.6h.8m12.9-2.8h.8m-19.7 6.2h.8m5.5-9.7h.8m-9.7 6.6h.8m13.2-6.2h.8m-1.6 .2h.8m-10.7 9.4h.8m.3-1.7h.8m3.8 2.4h.8m-10.1 2.4h.8m4.5-.8h.8m-4.2-6.5h.8m12-6.8h.8m5.6 .3h.8m-15.4 6.9h.8m1.3 .8h.8m2.3-3.4h.8m-7.8 1h.8m5 5.3h.8m6.6-6.7h.8m-10.1-4.8h.8m-1.5 4.1h.8m-3.3 4.1h.8m15.6-7.7h.8m-17.7 7.6h.8m2.5-7h.8m-5.6 11.5h.8m.6-4.9h.8m6.8 .7h.8m-6-.2h.8m7.4-2.4h.8m-4.6 1.7h.8m-11.5 6.9h.8m-10.2 .4h.8m26.6-11.1h.8m-14.1 5.1h.8m12.1-13.7h.8m-10.2 9.2h.8m-6.5 3.8h.8m10.4-3.9h.8m-6.6 4.5h.8m-1.8-6.4h.8m-4.6 9.5h.8m9.5-9.5h.8m.9-4.9h.8m-9.6 12.9h.8m13.6-15.2h.8m-19.1 9.7h.8m8.7 1.7h.8m-14.6 9.1h.8m-5.6-3h.8m32.2-13.9h.8m-6 3h.8m-5.5-3h.8m-17.6 20.3h.8m9.9-14.7h.8m1.2-.1h.8m-7.9-5.7h.8m6.1 7.4h.8m-12.1 2.2h.8m6.7-.6h.8m-11.8-1.5h.8m10.1 4.4h.8m5.1-2.5h.8m-8.7 6.5h.8m-5.5-15.8h.8m4.3 10.6h.8m2.1-2.8h.8m0-13.6h.8m-1.9 9.6h.8m1.5 1.1h.8m-11.8 12.7h.8m3.3-11.3h.8m9.8-2.6h.8m-13.8 7.1h.8m3.2-.8h.8m-6.2 .3h.8m18.6-7.1h.8m-13.9 8.6h.8m-7-5.3h.8m13.6 .7h.8m-.5-7.5h.8m-4.5 4.2h.8m5.3 1.6h.8m-8.3 .8h.8m-2.5 2.9h.8m-2.8 2h.8m-1.6-.2h.8m-3.4-2.8h.8m5.6-5.6h.8m-1.5 6.8h.8m.8-.7h.8m2.4-3.5h.8m-6.7 1.5h.8m-8.8 9.1h.8m2-5.2h.8m-5.6-2.2h.8m-3.8 8.3h.8m14.6-8.8h.8m-10 6.8h.8m-4.4-4.2h.8m1-.6h.8m15.6-6h.8m-11 3.3h.8m9.7-5h.8m-7.2 7.9h.8m-4.3 0h.8m9.1-.6h.8m-3.2-4.4h.8m-1.9 6.2h.8m-10.5 3.5h.8m6.1 1.5h.8m-10.6-3.7h.8m5.9-4.6h.8m4.2 2.3h.8m6.4-11.6h.8m-1.2 .5h.8m-5.1 5.4h.8m1.5-.9h.8m-9.3-1.6h.8m21.1-7.2h.8m-11.1 4.2h.8m8-4.4h.8m-17.3 11.1h.8m-1.2-1.2h.8m6.2 .6h.8m-8.3 2.4h.8m-1-2.5h.8m-10.1 6.8h.8m15.3-6.3h.8m-7.3 3.1h.8m5.1-1.8h.8m-10.9 .9h.8m-11.9 8h.8m19.4-5.4h.8m.6-8.8h.8m-16 16.2h.8m0-3.8h.8m2-6.6h.8m-2.1-3h.8m-8.1 12.5h.8m22.7-19.9h.8m-23.2 8.5h.8m-10.1 8h.8m34.8-8.7h.8m-12.2 6.2h.8m-5.6-6h.8m4.5 .1h.8m-1.8 1.9h.8m-.8 3.3h.8m-4-14.5h.8m-5.4 10.3h.8m-23.4 15.8h.8m34.3-18.6h.8m-4.6 1h.8m-5.9 .9h.8m16.6-7.4h.8m-38.2 7.3h.8m36.9-4.5h.8m-11.5 7h.8m-25.5 6.8h.8m14.4-3.5h.8m13.8 .1h.8m-20 10.7h.8m12.7-18.3h.8m11.7-15.1h.8m-4.6 10.2h.8m-16.4 7.1h.8m5.7 2.5h.8m-19-.6h.8m12.9-2.4h.8m-4.4 4.7h.8m-9.3 1.2h.8m-.5 8.4h.8m26.7-29.5h.8m-19.6 11.2h.8m-9.8 10.6h.8m8.3 1h.8m15.6-16.7h.8m-.2-2h.8m-19.9 19.8h.8m6-7.5h.8m4.3-7.4h.8m-11.7 10.5h.8m-10.1 3.7h.8m3.4 2.2h.8m8-8.1h.8m-11.1 1.1h.8m-5.3 4.6h.8m10.1-6.4h.8m13-4.2h.8m-3.3 1.6h.8m-13.1 .8h.8m22.4-10.8h.8m-26.8 19h.8m8.4-1.3h.8m-16 4.7h.8m25.2-6.6h.8m-14.8-2.1h.8m-14.7 12.7h.8m5.1-9.7h.8m24-19.3h.8m-8.9 11.3h.8m-6 5.3h.8m6.4-5.4h.8m-26.1 14.9h.8m5.8-6.8h.8m-7.1 1.1h.8m5.5-1h.8m5.7 .3h.8m9.6-3.8h.8m-6.7-20.2h.8m8.8 16h.8m17.6-8.8h.8m-32.4 20.7h.8m1.7-6.5h.8m5.3-2.2h.8m-17.2 3.9h.8m5.6-1.9h.8m7.8-1.9h.8m-18 1.5h.8m13.7-7.3h.8m9.3-.7h.8m-28.3 8.5h.8m-9.1 13.1h.8m19.2-21.2h.8m-7.9 13.9h.8m11-8.3h.8m-8.6 1.5h.8m5.9-6.3h.8m8.6-3.5h.8m-8.4-5h.8m-8 14.9h.8m-7.6 7.2h.8m-12.6 3.8h.8m14-7.3h.8m12.1 .7h.8m-7.7 6.3h.8m-5.7-9.5h.8m-7 12.6h.8m-1.1 .8h.8m-3.2-2.2h.8m19-20.9h.8m-27 16.7h.8m29.9-10.6h.8m-12.3 17.1h.8m7.3-19.2h.8m.6 9h.8m5.2-1.9h.8m-4.5-15.6h.8m-19.1 15.2h.8m2.7 9.7h.8m3.2-5.5h.8m-5.3 .4h.8m12.2-11.3h.8m-7 7.5h.8m-2.9-5.8h.8m11.3 10.1h.8m-19.1-9.2h.8m13.5-12.5h.8m-25.6 26.4h.8m23.4-7.8h.8m-3-9.5h.8m-12.5 9.8h.8m-2.5-4.4h.8m17.7-6.3h.8m-15.6 3.9h.8m-17 10.2h.8m3.8-5.5h.8m25.4-11.1h.8m-13.8 21.7h.8m16.5-21.6h.8m.4 .6h.8m-11.5 18.3h.8m-.5-16.4h.8m-15.6 7.2h.8m7.3 3.5h.8m-8.2-5.3h.8m16.2-1.8h.8m-17.7 15.2h.8m5.2-16.3h.8m2.4 1.1h.8m9.6 6.1h.8m-34.6 5.4h.8m3.6-.5h.8m10.7-2h.8m4.4-6.4h.8m1.5-4.5h.8m6 9.7h.8m12.1-20.5h.8m-12.3 12.4h.8m-3.3-2.6h.8m-11.3 7.5h.8m9.2-12.7h.8m4.1 10h.8m-4.5-5.4h.8m-4.3 11.9h.8m.4-14.6h.8m10-2.9h.8m-21.8 18.6h.8m-15.5 7.1h.8m27.3-22h.8m-.3 2.7h.8m-13.5 1.4h.8m.5 6.8h.8m24.6-31.2h.8m-26.1 31.8h.8m-5.5 9.6h.8m5.6-6.5h.8m9-6.4h.8m-15.3 1.9h.8m3.7 2.3h.8m4-8.1h.8m-7.5 6h.8m4.8-3.6h.8m-10.8-12.3h.8m-.2 24h.8m9.5-9.1h.8m-12.3 9.4h.8m15.8-20.5h.8m-15.5 18.4h.8m5.7-5.2h.8m-23.7-1.1h.8m14.3-6.7h.8m-4.3 12.4h.8m25.1-20.2h.8m-15.5 12.8h.8m4.1-6.6h.8m-21.8 6h.8m11.4-4.6h.8m-11.8 9.1h.8m23.4-17.3h.8m-14.4 12.9h.8m6.2-1.2h.8m-2.6-6.3h.8m-1.1 9.8h.8m11-2h.8m-16 8.3h.8m12-2.9h.8m5.4-8.7h.8m-13.7 1.4h.8m2.9 8h.8m-8.1-1.5h.8m6.1 2.3h.8m.1-12.4h.8m-14.9-2h.8m-12.9 12.9h.8m21.2-6.1h.8m-3 3.5h.8m3.5-7h.8m-2 7.6h.8m9.1-18.4h.8m-27.6 19.3h.8m5.9 5.4h.8m13.1-14h.8m-17.6 10.8h.8m16.2-3.2h.8m-5.1 .9h.8m-25.1 4.5h.8m28.1-12.4h.8m1.4-12.2h.8m-8.1 14.2h.8m-15.9 11.7h.8m15.7-22.4h.8m-10.7 24.9h.8m9.5-3.9h.8m.7-9.5h.8m-11.6 9.2h.8m2.7-8.5h.8m3.3 4.4h.8m-10.6 2.4h.8m-4.9-8.3h.8m16-6.9h.8m-8.3 6.5h.8m-.4 9.1h.8m-4.5-3.2h.8m9.1-1.1h.8m-5.3-5.5h.8m-5.5-1.6h.8m7.4 17.5h.8m-9.3-7.9h.8m4.6-6.7h.8m13.6-1.1h.8m-8.7-8.1h.8m-1.6 5.6h.8m-9.2-1.7h.8m-.2 10.5h.8m5.1-5.1h.8m-10.5 2.4h.8m-.1-1.8h.8m-8-.5h.8m8.8-2h.8m4.2 8.5h.8m14.2-18.3h.8m-9.4 14.5h.8m-15.5-2.9h.8m12.6-3.9h.8m-14.1 6.2h.8m14.4-8.4h.8m-.5 5.7h.8m13-24.7h.8m-33.1 36.1h.8m9.1-6.5h.8m-3-2.6h.8m3.5-2.2h.8m2.5-3.8h.8m-15.1 14.2h.8m0-4.2h.8m7.1-10h.8m8.3 0h.8m-19.4 16.1h.8m-6.5 .3h.8m24.9-18h.8m-3.3 2.6h.8m-.2-4.4h.8m-21 12.8h.8m3.2-10.5h.8m7.7 4.3h.8m4.3 3.4h.8m-9.8-2.1h.8m-1.4-2.6h.8m14.2 .9h.8m-16.9 5.9h.8m-2 .6h.8m1.2 .6h.8m-1 1.4h.8m3.6-7h.8m-6.1-1.1h.8m3.5 11.9h.8m13.2-18.3h.8m-13.9 3.5h.8m-4.7 7.8h.8m17.5-5.7h.8m-25.2 .5h.8m11.5 7.8h.8m-5.4-5.4h.8m-.1 11.6h.8m-2.3-6.5h.8m1.8-6h.8m-12.2 14.8h.8m9.5-6.3h.8m1.3-10.5h.8m.9 2.2h.8m-2.4-3.2h.8m22.7-6.6h.8m-23 .8h.8m-5.6 9.9h.8m-5.5-8.1h.8m7.2 10.3h.8m-3.6-14h.8m-5 9.2h.8m20.1-5.7h.8m-27.8 13.4h.8m15.9-10.9h.8m-3.4-1.3h.8m-15.5 12h.8m13.1-16h.8m3.8 8.9h.8m-11.2 9.2h.8m27.8-18.1h.8m-18.4 6.5h.8m-7.8 11.4h.8m-4.1-2.2h.8m-2.1 3.6h.8m7.4-8.3h.8m-3.6-.3h.8m-17.1 5.7h.8m-1.9-9.8h.8m10.6 11.3h.8m.3-5h.8m5 8.3h.8m-13.8-14.2h.8m19 3.5h.8m-2.4-9.1h.8m-6.9 9.1h.8m-25 10.2h.8m22.1-7.4h.8m5.2-5.9h.8m-4.7 7.6h.8m.7-5.1h.8m-1.6 2.4h.8m-14.2 12.8h.8m16.1-18.4h.8m-8.4 12.4h.8m4.9-11.1h.8m-6.5 6.5h.8m-1.3-3.8h.8m13.2-10.7h.8m-31.5 6.1h.8m20 7.7h.8m-16-.9h.8m15.3 .6h.8m5.8 1.9h.8m-7-13.7h.8m-.1 11.9h.8m-18.1 5.3h.8m16.3-7.6h.8m1.3-10.5h.8m3.3 4.3h.8m10.6-6.4h.8m-12.8 14.6h.8m-14.3 12.5h.8m-.6-10.4h.8m3.3-6.4h.8m15 4.6h.8m-27.8 3.9h.8m19.2-12.3h.8m-2.9 2.3h.8m-14.6 10.6h.8m14.1-7.9h.8m-17.3 3.1h.8m7.7-2.7h.8m1.3 9.8h.8m3.8-4.4h.8m-17.4 3.9h.8m15.2-11h.8m-28.1 14.3h.8m19.4-5.6h.8m-6.2-5.3h.8m21.5-10.3h.8m-12.3 3.9h.8m-11.1 5.5h.8m-3.1 5.2h.8m8.1-5.8h.8m-8.7 1.7h.8m28.2-15.2h.8m-22.8 11.4h.8m-25.6 14.5h.8m34.2-19h.8m-16.4 14.5h.8m23.4-12.9h.8m-23.8 9.2h.8m13.7-11.6h.8m-8.7 6.3h.8m13.6 1.9h.8m-14.5 3h.8m-34.5 10.5h.8m23.2-9.9h.8m-10 3.1h.8m23.8-14.5h.8m-8.1-2.8h.8m-1.6 10.1h.8m0-8.3h.8m-1.3 4.6h.8m-2.9 13.2h.8m22.3-17.4h.8m-22.1 2.9h.8m-5.4 1.9h.8m-12.8 8.2h.8m4.9-9h.8m7.6-.2h.8m-.8 4h.8m-5.7-1.3h.8m7.9 4.7h.8m-13.2 3.2h.8m8.9-8.8h.8m-6.1 10.3h.8m-1.2-3.3h.8m19.2-2.6h.8m-5.8 .2h.8m-9.9-5.7h.8m-10 11.6h.8m4.5-7.6h.8m8.3-11.3h.8m12 10.7h.8m-28.2 14.9h.8m2.3-17.5h.8m8.9 3.8h.8m-3.9-10h.8m2.8 13h.8m2.7-8.5h.8m-21.8 11.8h.8m32.1-11.9h.8m-30.1 11.3h.8m10.2-8.4h.8m6.7 1.9h.8m2.3-8.8h.8m-.3 6.4h.8m-3.3-3.4h.8m5.2 .9h.8m-15.2 7.8h.8m8.4-4.8h.8m2.3-12h.8m-15.7 25.6h.8" stroke="#3a3aa8" stroke-width=".8" stroke-opacity="0.42" fill="none"/>
<rect x="71.00" y="473.00" width="92.20" height="71.80" fill="none" stroke="#2a2a2a" stroke-width="0.9"/>
<line x1="119.50" y1="473.00" x2="119.50" y2="544.80" stroke="#444" stroke-width="0.75"/>
<line x1="71.00" y1="516.50" x2="163.20" y2="516.50" stroke="#444" stroke-width="0.75"/>
<text transform="translate(72.50 479.20) scale(0.5)" font-size="7.20" fill="#222" textLength="23.00" lengthAdjust="spacingAndGlyphs">Necrotic</text>
<text transform="translate(161.70 479.20) scale(0.5)" font-size="7.20" fill="#222" text-anchor="end" textLength="42.00" lengthAdjust="spacingAndGlyphs">Late Apoptotic</text>
<text transform="translate(72.50 522.30) scale(0.5)" font-size="7.20" fill="#222" textLength="20.00" lengthAdjust="spacingAndGlyphs">Healthy</text>
<text transform="translate(161.70 522.30) scale(0.5)" font-size="7.20" fill="#222" text-anchor="end" textLength="46.00" lengthAdjust="spacingAndGlyphs">Early Apoptotic</text>
<path d="M73.29 544.80v1.6M76.09 544.80v1.6M78.26 544.80v1.6M80.03 544.80v1.6M81.53 544.80v1.6M82.83 544.80v1.6M83.98 544.80v1.6M85.00 544.80v2.6M91.74 544.80v1.6M95.69 544.80v1.6M98.49 544.80v1.6M100.66 544.80v1.6M102.43 544.80v1.6M103.93 544.80v1.6M105.23 544.80v1.6M106.38 544.80v1.6M107.40 544.80v2.6M114.14 544.80v1.6M118.09 544.80v1.6M120.89 544.80v1.6M123.06 544.80v1.6M124.83 544.80v1.6M126.33 544.80v1.6M127.63 544.80v1.6M128.78 544.80v1.6M129.80 544.80v2.6M136.54 544.80v1.6M140.49 544.80v1.6M143.29 544.80v1.6M145.46 544.80v1.6M147.23 544.80v1.6M148.73 544.80v1.6M150.03 544.80v1.6M151.18 544.80v1.6M152.20 544.80v2.6M158.94 544.80v1.6" stroke="#333" stroke-width="0.6" fill="none"/>
<path d="M71.00 544.01h-1.2M71.00 541.76h-1.2M71.00 540.02h-1.2M71.00 538.59h-1.2M71.00 537.39h-1.2M71.00 536.34h-1.2M71.00 535.42h-1.2M71.00 534.60h-2.2M71.00 529.18h-1.2M71.00 526.01h-1.2M71.00 523.76h-1.2M71.00 522.02h-1.2M71.00 520.59h-1.2M71.00 519.39h-1.2M71.00 518.34h-1.2M71.00 517.42h-1.2M71.00 516.60h-2.2M71.00 511.18h-1.2M71.00 508.01h-1.2M71.00 505.76h-1.2M71.00 504.02h-1.2M71.00 502.59h-1.2M71.00 501.39h-1.2M71.00 500.34h-1.2M71.00 499.42h-1.2M71.00 498.60h-2.2M71.00 493.18h-1.2M71.00 490.01h-1.2M71.00 487.76h-1.2M71.00 486.02h-1.2M71.00 484.59h-1.2M71.00 483.39h-1.2M71.00 482.34h-1.2M71.00 481.42h-1.2M71.00 480.60h-2.2M71.00 475.18h-1.2" stroke="#333" stroke-width="0.6" fill="none"/>
<text x="61.60" y="537.00" font-size="6.8" fill="#3a3a3a" text-anchor="end" textLength="5.4" lengthAdjust="spacingAndGlyphs">10</text>
<text x="61.80" y="533.70" font-size="4.0" fill="#3a3a3a">2</text>
<text x="86.40" y="557.80" font-size="6.8" fill="#3a3a3a" text-anchor="end" textLength="5.4" lengthAdjust="spacingAndGlyphs">10</text>
<text x="86.60" y="554.70" font-size="4.0" fill="#3a3a3a">2</text>
<text x="61.60" y="519.00" font-size="6.8" fill="#3a3a3a" text-anchor="end" textLength="5.4" lengthAdjust="spacingAndGlyphs">10</text>
<text x="61.80" y="515.70" font-size="4.0" fill="#3a3a3a">3</text>
<text x="108.90" y="557.80" font-size="6.8" fill="#3a3a3a" text-anchor="end" textLength="5.4" lengthAdjust="spacingAndGlyphs">10</text>
<text x="109.10" y="554.70" font-size="4.0" fill="#3a3a3a">3</text>
<text x="61.60" y="501.00" font-size="6.8" fill="#3a3a3a" text-anchor="end" textLength="5.4" lengthAdjust="spacingAndGlyphs">10</text>
<text x="61.80" y="497.70" font-size="4.0" fill="#3a3a3a">4</text>
<text x="131.40" y="557.80" font-size="6.8" fill="#3a3a3a" text-anchor="end" textLength="5.4" lengthAdjust="spacingAndGlyphs">10</text>
<text x="131.60" y="554.70" font-size="4.0" fill="#3a3a3a">4</text>
<text x="61.60" y="483.00" font-size="6.8" fill="#3a3a3a" text-anchor="end" textLength="5.4" lengthAdjust="spacingAndGlyphs">10</text>
<text x="61.80" y="479.70" font-size="4.0" fill="#3a3a3a">5</text>
<text x="153.90" y="557.80" font-size="6.8" fill="#3a3a3a" text-anchor="end" textLength="5.4" lengthAdjust="spacingAndGlyphs">10</text>
<text x="154.10" y="554.70" font-size="4.0" fill="#3a3a3a">5</text>
<text x="117.30" y="568.00" font-size="8.0" fill="#3a3a3a" text-anchor="middle" textLength="18.2" lengthAdjust="spacingAndGlyphs">FITC-H</text>
<rect x="187.60" y="459.80" width="92.90" height="10.50" fill="#3aaa35"/>
<text x="234.45" y="468.00" font-size="8.4" fill="#fff" text-anchor="middle" textLength="40.2" lengthAdjust="spacingAndGlyphs">Mel + Nilo</text>
<ellipse cx="226.0" cy="526.5" rx="14.5" ry="4.4" transform="rotate(-29 226.0 526.5)" fill="#4650b6" fill-opacity="0.85" filter="url(#bl)"/>
<path d="M232.4 491.7h1m21 1h1m-28 .5h1m2.7-1.3h1m-.9 4.7h1m15.3-.4h1m-19.2-3.1h1m8.7-.5h1m-23.8 .6h1m11.5 .5h1m7.1 .1h1m-4.8-4.1h1m-21.3 3h1m26.3-3.7h1m-17.9 4.9h1m32.5 1.6h1m-25.6-4.4h1m27.3 3.1h1m-19.4-1.9h1m-3.4-.3h1m-11.8 6.8h1m3.2-2.7h1m5.6-1.1h1m-28.7-2.3h1m32.9 2.2h1m-26-1.6h1m9.5 1.7h1m-29.5-3.5h1m35.8 2.1h1m2.4-.8h1m-6.4-2.6h1m-.5 7.9h1m-9.1-2.2h1m5.1-4.1h1m11.2-1.7h1m-19.9 1.9h1m9.7-.3h1m1.6 .6h1m-12.1-2.3h1m4.5 1.7h1m-1.2 2.3h1m-9.3 .9h1m32.9-6.1h1m-34.2 5h1m23.8-2.5h1m-8.4-.1h1m-37 1.8h1m25.5-.9h1m8.1 3.5h1m-3.5 0h1m-21-2.6h1m12.5-.8h1m-17.9 6.2h1m.9 .2h1m8.2-3.8h1m4-1.4h1m15.5 3h1m-15.5 1.1h1m7.1-5h1m-27.2 5.9h1m-.5-5h1m6.8 3.2h1m25-4.1h1m-37 1.5h1m-3.8-1.4h1m16.5 1.3h1m13.7 2.5h1m-33.8-4.9h1m15.1 1.5h1m-13.9 2.2h1m31.7-2.6h1m-9.9 6.4h1m-5.8-8.9h1m-4.8 10.2h1m-3.2-8.2h1m3.4 4.2h1m-10.2 1.6h1m-3.7-2.7h1m-3.7-5h1m12.1 2.7h1m-10.4 1.1h1m18.5 1.3h1m-35.7 1h1m30.1 .4h1m-1.4 .9h1m6.9-6.2h1m-18.1 5h1m-15.6-7.1h1m5.8 4.9h1m23-3.1h1m-17.8-1.9h1m-2.3 7h1m-3-2.5h1m5.1 2.7h1m-2.9-6.7h1m-16.5 1h1m10.2 2.8h1m17.7-1.4h1m4.1 1.9h1m-19.3-1.8h1m-5.6 .7h1m20.9-2h1m-18.9 6.2h1m-12.7-4.1h1m11.3-2.2h1m8.5 4.8h1m9.1-.5h1m-24.9-.7h1m11 0h1m-11.1-1.6h1m16.1 .7h1m-11.3-5.4h1m-.9 1.7h1m-15.6 .8h1m6.8 3.9h1m-1.1 2.5h1m-39.2-3.6h1m51-.3h1m-11.1 3.6h1m-3.3-3.8h1m-2.8 2.6h1m3.5-.6h1m1.5-4.5h1m-19 4.2h1m15.7-.3h1m-1.2-3.5h1m-2 .3h1m-18.6-.6h1m14.7 6.8h1m-14.4 2h1m18.1-3.7h1m10.3 2.3h1m-6.2-7.6h1m-15.2 7.1h1m-3.3 1.5h1m-1.3-.9h1m9.7-6.6h1m-12.9 5.2h1m.5-3.1h1m-24 3.1h1m18.4-4.5h1m-.3 1.7h1m1.9-1.5h1m19.5 2.7h1m-31-1.5h1m-.7 3.2h1m21.5-.8h1m-19.5-1h1m8.6-1.2h1m2.9-.7h1m-2.8 .8h1m-10.3 1.9h1m18.8-1.6h1m5.8 .5h1m-30.2-.9h1m7.5-.1h1m13.1-1.5h1m-14.3-3.2h1m-10.3 6.4h1m5.7 0h1m13.7-4h1m-22.3 7.5h1m13.5-8h1m.5 5.6h1m-13-1.9h1m13.2 .1h1m.1 2.2h1m2.9-.6h1m-1.8-2.3h1m-29.2-2.8h1m26.8-.5h1m-4.6 3.7h1m3.6 3.6h1m-22.3-1.8h1m19.4-2.4h1m-7.2 1h1m-18.8 .9h1m27.3 2.7h1m-24.9-6.5h1m-3.8 3.9h1m15.5-1.2h1m-12.7-2.7h1m10.3-.6h1m-8.1 5.9h1m5.2-2.4h1m5.2-1.4h1m-10.9 .8h1m9.5 2.3h1m-1.2-2.3h1m-20.7 3.9h1m18.8-4.9h1m-3.8-1.3h1m-6.6 1.7h1m10.4-2.1h1m5.3 1.5h1m-11.4 4.1h1m-27 1.2h1m21.3-2.7h1m-7.7-1.2h1m-2.6-2.8h1m6.1-.3h1m-8.8 3.6h1m21.8-.6h1m-16.8-1.9h1m-3.9 .4h1m7.9 5.2h1m-.8-1.5h1m3.4-2.4h1m-7.4 .4h1m-8.8 2.7h1m1-2.4h1m-27.6-.3h1m7-4.7h1m28.2-.3h1m-16.9-.5h1m23.9-.9h1m-1.2 5.8h1m-36.5 .9h1m17.2-3.1h1m29 3.4h1m-43.8 0h1m12.8-1.4h1m-8.3-3.6h1m-1.1 7.6h1m-1.5-.2h1m2.1-5.1h1m8.1 6.6h1m-19.3-5h1m14.3-2.1h1m-15.1 1h1m13.3-3.8h1m-3.4 3.9h1m-13.7-3.2h1m9.6 7.1h1m-11.2-2.2h1m-2.2-4.4h1m22.4 5.1h1m-35.8-5.9h1m26.7 4.8h1m.7 .9h1m-16.1-1.1h1m18.6-3.1h1m-3.1 2.6h1m-26.7-.2h1m20.2 .7h1m-1.7 3.7h1m-15 .5h1m14.3-.3h1m1-5.7h1m-18.1-.3h1m-15.8 2h1m26.9 1h1m-14.3-6.4h1m-12.4 3.7h1m14.5 6.3h1m-24.2-7.9h1m22.8 1.3h1m20.4 .1h1m-51.7 3.1h1m37.5-1.5h1m-17.1-.6h1m5-3.1h1m-6.8 5.5h1m17-1.6h1m-8.5-1.7h1m-10 1.8h1m-7.1 2h1m9.2-5.9h1m17.4-.2h1m-28.5 1.3h1m18 .4h1m-1.9-5.6h1m-28.3 6.3h1m35.2 4.5h1m-14.4-3.8h1m25.5 3.5h1m-6.7-10.1h1m-24.2 7.2h1m.1 3.9h1m-10.9 .5h1m-5.3-5.4h1m24.3-.8h1m-13.2 3.1h1m-2.8-4.2h1m1.7 2.3h1m9-3.4h1m2 4.5h1m-12-.2h1m-3.3 4.2h1m2.5-3.3h1m22.1-2.6h1m-49.6 1.5h1m9.8-3.2h1m18.1 3.5h1m-4.9-.7h1m11.7 1.7h1m0 1.3h1m6.8-7.6h1m-33.5 6.1h1m15.5 1h1m-10.9-5h1m13.1 8h1m-10.2-6.8h1m7.2 8.3h1m-20.1-4.4h1m9.7 .5h1m-9-1.8h1m2 1.9h1m-3.3-5.3h1m-7.7 .6h1m24.2-3h1m-10.7 6.5h1m8.4-3.3h1m-25.5 3.9h1m-12.3-.4h1m14.4-5.1h1m4.8 5.3h1m10.1-1.1h1m2.1-.2h1m.9 .7h1m2.8-1.3h1m-10.5 .1h1m-8.3 2.7h1m-11.3-5.3h1m16.1-.5h1m-15 1.1h1m-4.6 4.7h1m15.4-3.5h1m-5.3 5.8h1m6.5-13h1m-19.5 6.1h1m21.2 .7h1m-10.6 1.9h1m-7.2 2.8h1m-7.9-4h1m-4.8-2.2h1m-4.4 4.9h1m31.6 1.8h1m-34.2-10.7h1m23.1 8.2h1m-11.3-.7h1m-4.9-3h1m.2 1h1m3.5 2h1m10.8-.7h1m-5.1-.7h1m-7.6-2.4h1m-17.1 3.7h1m-5.9-2.4h1m42 1.9h1m-34.9-1.7h1m-7.6 2h1m30.7 1.4h1m-31.9-1.3h1m25.4 1.1h1m1.3-5.3h1m-9.1 4.8h1m7.5-.4h1m-28.8-2.4h1m1 1.2h1m11.1-6.9h1m1.3 7.5h1m-2-1.3h1m5.5-4.8h1m-15.2 7.2h1m-17.4-3h1m28.9 2.4h1m-8.5-1.3h1m11.3 1.9h1m13.9-1.1h1m-24.6-1h1m4.9 2.1h1m-18.4 .9h1m20.3-8.1h1m-7.7 6h1m-2.1-1.7h1m6.8-1.3h1m-25.1 6.3h1m19-.9h1m-2.2-5.2h1m12.3-.2h1m-41 5h1m19.2-3.7h1m25.9 .7h1m-31.6-4.2h1m-1.4 4.7h1m25.2 3.3h1m7.5-4.1h1m-29.2 .9h1m-10.8 4.8h1m.5-2.2h1m1.3 1.4h1m-6.3-2.1h1m-.6 1.5h1m10.6-7.4h1m-2.6 2.1h1m4.2-2.1h1m-6.3 10.1h1m-15.6-5.3h1m21.9-.8h1m-6.8-1.7h1m-10.7-.7h1m2.6-4.6h1m6 13.1h1m-3.8-6h1m-3.5 .3h1m9.6-3.8h1m2.5 3.5h1m-17.3 1.2h1m2.5-1.2h1m-13.8 1.8h1m10-3.8h1m6.6 3h1m3.6 1.5h1m-9.2-.9h1m-4-.4h1m-8.4-1.3h1m10-2.3h1m-16.4 4h1m13.3-2.4h1m-2.2-1.5h1m-11.9 4.5h1m13.5-6.2h1m-7.4 2.7h1m8.6 3.5h1m-13.8 .4h1m10.4-3.4h1m11.7 1.1h1m-17.3 1.3h1m6.2-1.6h1m-17.8-1.8h1m2.4 3.1h1m-19.1-.7h1m19.4-.1h1m-12.5 2.6h1m13.6-2.1h1m-26.5-2h1m13.1 1.6h1m10.1 4.6h1m2.6-6.9h1m-25.1 1.2h1m13.6-1.4h1m34 3h1m-21.8-4.2h1m-8.4 4.4h1m-35.3 .9h1m20.6-4h1m15.9-.2h1m-4.3-1.7h1m1.5 4h1m5-3h1m-11.2 1.3h1m7.9 .5h1m-32.1-.7h1m49.5 3.9h1m-33.9 2h1m-5.1-9.7h1m24.2 3.5h1m-11.5 2.7h1m3.3-3.4h1m-19.7 1.4h1m9.6 1.9h1m4 3.1h1m-22.7-.6h1m9.8-3.8h1m-1.3 1.1h1m-1.6-1.3h1m-5.8 .5h1m-7.5-2.6h1m18.8-1.5h1m-3.2 3.6h1m9.7 3.5h1m-15.4-.5h1m-8-6.9h1m-10.2 4.4h1m17-1.1h1m-5.6 2.3h1m26.3-3.6h1m2.3 5.3h1m-9.4-3h1m-30.2 2.1h1m-6.8 .8h1m12.7-7.4h1m-8.8 4.5h1m26.2 4.5h1m-16.3-3.9h1m-7.1 2.7h1m3.6-1.6h1m13.9-2.4h1m-26.9 2h1m15.8 2h1m-22.2 .6h1m12.1 .5h1m-6.3-6.7h1m10.4 5h1m-2.9-5.7h1m11.3 3.3h1m-7-.3h1m-16.2 2.2h1m-9.4-.8h1m15.1-1h1m-14-1.1h1m9.2 3.7h1m-4.2-.8h1m-3.7-1.6h1m-9.4-1h1m11.4-5.1h1m-2.8 5h1m2.3 2h1m-6.8 .7h1m-2.5-8.1h1m3.5 1.5h1m-.5 5.6h1m.6-2.6h1m7.4 1.7h1m-18.5-.5h1m17.3 2.3h1m-35.7-5.3h1m26.4 2.8h1m-13.4 3.3h1m18.7-1.6h1m-21.2-2.3h1m12.6 2.8h1m-15.3-.4h1m-2-2.5h1m12.5 3.4h1m-.6 0h1m-11.9-1.8h1m20.7 2.4h1m-20.1-4.6h1m12.2 4.2h1m-19-2.1h1m-.6-1.6h1m6.3 .7h1m-8.7 3.9h1m9.3-3.8h1m-19.2 .5h1m15.2-.7h1m-6.1-.3h1m-3.8 3.8h1m7.2 2.7h1m-4.1-1.9h1m-2.6-1.8h1m7.8 .6h1m-4.6-2.4h1m-.4-.4h1m5.7-1.4h1m-10.8 5.6h1m5.3-3.8h1m-9.7-.8h1m6.1 .1h1m-1.5 1.8h1m-8.5-1.6h1m-7.8 1.3h1m.7 .3h1m1.3 2.5h1m9.5-5.6h1m-5.9 3.4h1m-2.1-2.2h1m4.4 .6h1m.8 4.4h1m3.6-2.1h1m-14.9-2.2h1m7 1.9h1m.1-1.1h1m-12.5 2.4h1m6.4-3.4h1m-8.2 2.1h1m3.8-1.5h1m3.5 .4h1m-15.8-.3h1m4.8-1h1m-.5 1.5h1m5.2 1.9h1m-6.7-3.4h1m6.7 .5h1m-9.6 1.6h1m1.4-2.4h1m6.8 3.5h1m-3-.3h1m-2.2-6.6h1m-2.3 3.6h1m6.3-.9h1m1.6 4.1h1m-13.2 .3h1m-3.5-4.7h1m-3.2 1.1h1m18.4 1.3h1m-19.3-.6h1m-4 2.4h1m10 .5h1m4.5-.8h1m-16.9 1.1h1m6.7-.3h1m-10.1-2.2h1m4.1-.8h1m15.2-.7h1m-11.1 3.4h1m-4 .2h1m1.3 .2h1m.5-2.9h1m-3.7-.1h1m-8.6 1.4h1m-.9 2.1h1m21.2-1.9h1m-20.3-.3h1m12.6-2.3h1m-14.3 2.8h1m13 .2h1m-5.2-3.2h1m-7.3 5.8h1m14.5-5.8h1m-21.5 4h1m3.9-2.4h1m-5.4 .8h1m-.4-2.1h1m1.9 .5h1m-5.2 2.7h1m3.4-1.9h1m12.3-.3h1m-24.1 2.7h1m2.4-.4h1m1.1-1.2h1m2.3 .1h1m9.3 3.3h1m-3-4.1h1m-2.7 1.2h1m-2.9 .1h1m14.2-4h1m-25.4-1.2h1m-1.2 4.5h1m6.8 1.6h1m.6-1.4h1m-4.1-1.6h1m-5.2-.3h1m-4.2 3.2h1m6.2-2.4h1m-4-2.9h1m.5 5h1m-5.1-1h1m15.8 .4h1m-7.2 1.4h1m8.8 .6h1m-17.5-1.7h1m3-1.5h1m-3.1-4.3h1m.8 5.3h1m-2.9-1h1m-.4 3.2h1m-13.5-.1h1m10.8-1.7h1m5.7 1.9h1m-19.4-3.1h1m10.2 0h1m5.4-1.7h1m3.8 1.2h1m-10.4 1.1h1m2.8 1.8h1m8-3.9h1m-4.2 3.4h1m-13.1 3.3h1m-2.1-8h1m10.3 2.4h1m-6.6 .6h1m-6.3 2.1h1m1.2 2.1h1m2.8-1.6h1m-4.6-2.7h1m-1.4-1.8h1m-.8 1.7h1m-9.8 0h1m21.5 .7h1m-4.6-2.5h1m1 5.2h1m-12.4-4.8h1m.8 3h1m2.1-1h1m.7-2.8h1m-19.4 2.5h1m14.2-.1h1m-10.4-.5h1m5.4 2.2h1m-5.1-2.8h1m15.4 6.5h1m-9.1-3h1m-4.9-4.5h1m8.9-3.4h1m-11.2 8.1h1m-5.5-2.1h1m2.7-.4h1m-2.2-2.3h1m1.8-1h1m4.5-.9h1m-7.6 9.6h1m-.7-2.1h1m6.5-4.7h1m-6 5.3h1m3.6-8.1h1m-6.7 5.5h1m-11 .1h1m.3-3.4h1m-4.7 .8h1m18.4-1.2h1m-6 2.3h1m-7.2 2.8h1m-4.6-.7h1m8.4-1.3h1m-4.4 1.5h1m2.1-6.3h1m-9.1 8.3h1m-2.8-4.5h1m17.6-2.8h1m-18.5 2.1h1m5.4-.6h1m8.5 1.6h1m-23 .5h1m16.6-5.8h1m-5.4 7.9h1m-2.5 1h1m1.9-6h1m-11.1 5.4h1m-8.2-.4h1m27.5-.6h1m-16.1 1.4h1m7.2-6.6h1m.5 4.6h1m-6.7-3.8h1m.2 7.4h1m.7-7.3h1m5-.6h1m-8.5 5.2h1m4.3-1.1h1m-11.7-1.3h1m-1.9 .2h1m2.5 1.1h1m1.2 2.4h1m-.1-5.4h1m8.8 .4h1m-8.7-.1h1m-6.3 1.1h1m12.3 .2h1m-12.5-2.8h1m-.8 3.5h1m-.1-3.5h1m-6.7 2.1h1m-6.2 .2h1m7.4 0h1m-4 3.8h1m-4.9 .3h1m5.8-1.2h1m-3.2 1.1h1m-3.7-4.1h1m-9.2 3.7h1m10.1-3.2h1m12.4 .6h1m-7 .1h1m.3-3.5h1m-8.6 1.6h1m6.4 1h1m-12.9 1.1h1m.5-1.1h1m5.7-1.6h1m-14.5-.6h1m9.3 2.5h1m.7-2.6h1m8.6 0h1m-17.5 2.4h1m6.7 .6h1m-8.4-2.2h1m-.3-2.1h1m-15.9 4.5h1m11.2 1.2h1m13.5-2.7h1m-5.4 .1h1m-3.5-4.3h1m15 7.1h1m-14.3-4.4h1m-13.3 4h1m6.1-2.9h1m0 1h1m10.5-.1h1m-18.3-3.6h1m8.2 10h1m2.8-9.4h1m-13.4 3.6h1m5.2-2h1m-15.5 1.3h1m13.6 3.5h1m-16.9-7.1h1m11.6 3.8h1m13.5 1.4h1m-10-.8h1m-3.5 .6h1m-.3-2.5h1m12.9-2h1m-12.1 .7h1m2.3 2h1m-11.2 2.5h1m-1-1.4h1m-5.2 3.3h1m14 12.4h1m-.3-8.3h1m-.9 13.7h1m-16.5-8.8h1m17.5 .8h1m-14.5-3.6h1m4.9 6.3h1m20.7 1.6h1m-29.6-8.6h1m9.8 6.3h1m.4-5.6h1m-2.3-4.4h1m-2 4.9h1m-5.5 5.2h1m19.4-.3h1m-32.9 2.9h1m6.8-9.7h1m19.1 2.1h1m-8.5 2.1h1m-11.5 3h1m-2.1-4.1h1m4.2-4.6h1m22.1-3.3h1m-18.2 15.1h1m-13.1-.6h1m9.1-9.6h1m-7.9 11.8h1m16-8.5h1m-10.6 2.9h1m6.7 4.4h1m-9.8-9.6h1m14-1.6h1m-14-5.3h1m-2.1 11.3h1m-11.4 .8h1m3.8 2.2h1m5.5-1.4h1m-8.1-2.7h1m22.9 5.7h1m-21-12h1m-7 7.8h1m13 .7h1m-13.1-3.5h1m6.5 10.2h1m-5-7.1h1m-6.1 5h1m15.9-2.5h1m-11.4-5.9h1m7 11.7h1m-12.4-4.6h1m-9.7-6h1m.5-.8h1m4.8-5h1m1.6 4.9h1m.9-.5h1m2.7 2.4h1m-15-3.4h1m10.7 5.4h1m-12.5-3.6h1m3.2-8.2h1m25 5.9h1m-11.3-2.2h1m-14.1-2h1m16.2 5.6h1m-3.9 6.4h1m-5.3-11.2h1m3.6-4.9h1m-14.7 10.2h1m0 17.4h1m-6.9-19.8h1m10.6 4.8h1m-15.7-3.8h1m5 7h1m6.7 3.3h1m-8.7-8.9h1m5.8 7.4h1m10.8-12.5h1m-23.5 7.2h1m18.1-8.2h1m-17.7 8h1m-3-4.4h1m8.3 4.7h1m5.4-7.5h1m-14.9 7.5h1m-1.1-.7h1m1.3-3.7h1m-3.3-1.3h1m6.3-2.1h1m-8.2 4.3h1m2.7 4.4h1m3.8-2.9h1m-7.1 1.6h1m11.5 6.1h1m-15.6-8.8h1m-1.8 3.4h1m21.5 3h1m-5.3-1.7h1m-12.4-.7h1m5-1.7h1m-4.9 10.2h1m-7.8-11.1h1m8.5-1.7h1m-4 5.4h1m6.9 5.8h1m-26-1.3h1m20.2-7.6h1m-6.2 4.4h1m-7.8-1.8h1m1.1-2.3h1m-.8 3.1h1m-8.4-.1h1m5-2.7h1m9.9 8.8h1m-19.4-11.6h1m8.1 9.7h1m-16.9 3.9h1m13.3 .1h1m6.7-10.1h1m-4.5-2.6h1m-.2-7.8h1m-10.3 8.5h1m12.5 13.8h1m-12.8-22.1h1m13.5 .1h1m-6.6 13.2h1m-5.8-1.2h1m14-13.5h1m-16.1 9.7h1m10.4 2.2h1m-8.4-10.2h1m-1.8 13.6h1m7-12.6h1m-5.5 13.6h1m-4.6-5.1h1m-1.8-5h1m1.6-5h1m-2 7h1m-4.3 1.3h1m-6.7-.2h1m-13.4-2.5h1m18.8 2.1h1m-2 5.9h1m10.6-9.8h1m-7.1 3.9h1m4.5 3.7h1m3.8-2.7h1m-15.8 4.9h1m-6.8 3.8h1m12.2-10.5h1m-12.3 3.1h1m1.8-17.4h1m12.5 14.3h1m-8.1 5.6h1m3.4-9.9h1m-20.6 13.6h1m10.1-17.8h1m7.7 17.9h1m-20.2-10.3h1m10.8-2.8h1m.6 2.9h1m-22.6 1.2h1m30.2-4.1h1m-19.5-2h1m3.6 4.7h1m13.6 8.1h1m-28.8-3h1m17 5.2h1m-8.3-10.8h1m3 1.4h1m-7.9 .2h1m16.4 2.6h1m-20.8 1.7h1m10.8 7.2h1m.5-5.8h1m-6.1-3h1m-2.5 6.6h1m-.9-11.8h1m9.3-3h1m-5.6 11h1m-5.2-2.8h1m-9.1-.2h1m9 4.4h1m2-7h1m-5.5 1.3h1m10.7 2.7h1m-27.8 1.5h1m34.3 1.8h1m-22.4-4.8h1m-8.7 .8h1m-5.8-14.8h1m19.9 20.1h1m-3.4-15.4h1m-7.3 8.4h1m.3 14.3h1m.8-15.8h1m-5.8-7h1m11.7 17.7h1m-5.3-12h1m-6.9 2.2h1m-13.2 0h1m23.1 4.9h1m-15.8 .3h1m-5.4-5h1m17.6 6.8h1m-7.4-11.1h1m-21.1 8.7h1m1.8-7.2h1m9.2 7.3h1m-7.9-7.5h1m7.8 1.2h1m21.2 10.6h1m1.9-14.3h1m-25.2-.3h1m5.8 9.6h1m-.3-4.6h1m-9.1-.9h1m-11.9 1.6h1m19.5 12.4h1m-11.1-17.4h1m4.1 4.3h1m9.4 7.2h1m-8.2 19.8h1m4.9-11.8h1m2.4 4.8h1m-10.1 5.6h1m12.2-3.4h1m-15.7-3h1m5.5 2.5h1m2.1 3.3h1m17.5-.9h1m-33.1 10.1h1m12.3-35.5h1m13.5 15.5h1m-21.3 1.4h1m10 9.8h1m-6.7-4.2h1m-11.7 4.4h1m10.9-15.9h1m-9.4 8.4h1m5.4 6.1h1m-11.3-4.9h1m13.5-2.4h1m-21.5 4.7h1m13.6 9.6h1m8.5-26.3h1m-6 25.9h1m-6.7-9.2h1m-.2-7.9h1m-2.3 10.6h1m19.5-4.4h1m-19 8.2h1m-.8-14.1h1m-5.7 12.4h1m.7-13.1h1m6.1 8.6h1m-9 2.6h1m-2.2-5.4h1m.6 5h1m.3-8.6h1m2.4 11.6h1m-5.2-11h1m.9-1.4h1m-4.7 4.1h1m11.9 .5h1m-8.4-5.5h1m-3.6 11.4h1m2.9-6.4h1m-3.2 5.1h1m-10.9-14.7h1m8 1.2h1m10.9 7.4h1m-8.4-5.1h1m3.4 6h1m-13.1 4.9h1m-6.3 3.9h1m4.2 2.4h1m12.3-4.7h1m-16.3-10.5h1m.3 8.8h1m11.4-7.5h1m-9.8 7.4h1m-.7-11.1h1m2.8 16.8h1m-2.9-6.5h1m-3.6-4.9h1m2.6-7.6h1m-7.2 11.5h1m3.3-5.6h1m3.6 5.4h1m-12.2-6.7h1m4.5 1.2h1m-7 8.1h1m11.2 6h1m-1.8-19.2h1m1.1 7.5h1m-.4 4.1h1m-1-3.8h1m-3-2h1m-10.8 18.2h1m10.2-21h1m-13 8.4h1m20.1-5.9h1m-14.3 2.7h1m1-15.3h1m-12.9 22.2h1m14-7.7h1m-.4-5.3h1m-18.8 18.4h1m5.6-13.6h1m-.4-2.3h1m-2.2-1.6h1m12.2 13.4h1m4.1-7.3h1m-22-2.4h1m12.7-7.1h1m-9.5 3h1m9.6 8.7h1m-25.8-2.6h1m12.1-13.9h1m9.7 8h1m-13.9 7.7h1m.7-6.9h1m9.7-10.3h1m-4.6 21h1m-7.5-8.8h1m-3.3-5.9h1m2.9 13.2h1m7.6-5.5h1m-8.6-5.2h1m-5.2-2.4h1m24.9 8.3h1m-32.9 1.5h1m7.8-13.1h1m4 19.4h1m-11.3-15.8h1m5.7 18.7h1m-3.7-7.5h1m-7.9-3.6h1m11.6 3.6h1m-11.3-6.5h1m1.5 3.7h1m11.9 12h1m-16.3-15.5h1m10.2 9.7h1m2.8-12h1m-2.3 6.2h1m-4.4 6.8h1m-5.6-15.1h1m-8.6 10.7h1m9.1-17.4h1m1 7.1h1m-7.3 5.1h1m-4.1 9.1h1m11.1-1.2h1m-13.5-11.4h1m8.7 5.5h1m-7 2.2h1m-8.8-12.3h1m20.4 14h1m-7.5 6.5h1m-1.4-.8h1m-13.8-12.8h1m7.4 1.2h1m1.6-3.7h1m-7.6 3.1h1m14.5 1.7h1m-24.8 6.6h1m16.7-4.2h1m-17.9-7.1h1m1.1 12.2h1m.8 .5h1m11.1-10.5h1m-9.4 2.6h1m-.7 1h1m-2.6-10.8h1m-4.7 12.4h1m2.8 3.8h1m-1.6 8.9h1m3.3-12.3h1m-1.4-3.3h1m-14.2 1h1m10.4 5.3h1m11.1 1.3h1m-12-11.6h1m1.6 7.4h1m-5.2 3.2h1m-.8-18.6h1m2.9 23.6h1m-9.3-11.1h1m6.7 7.6h1m-10.8-6.4h1m12-1.4h1m-13.4 1.2h1m13.5 2.5h1m1.3 4.1h1m-18.2-7.9h1m14-6h1m-8.1 2.9h1m9.2-1.9h1m-12 12.2h1m.6-12.1h1m-1.1 17.4h1m9.1-9.7h1m-21.8-1.6h1m16.6 9.8h1m-5.4-11.7h1m-4.8 .5h1m.6 7.5h1m6.6-.3h1m-1.7-12.1h1m4.7 24.2h1m-16.2-13.2h1m-9.2-12.8h1m7.7 7.6h1m1.4 7.7h1m-2.6-5h1m9.8 4.5h1m5.9 10.6h1m-13.4-10.1h1m3.8-37.3h1m-32.3-2.8h1m-1.9 .8h1m25.9-1.6h1m-4.1 2.1h1m12.5-2.1h1m-30.1 7.2h1m-9.8-3h1m10.7-5h1m22.2 8.2h1m-17.9-4.4h1m-12.4-4.6h1m8.1 7.9h1m10.3-1h1m-31.6-1.8h1m28.2-.9h1m-14 3.4h1m20.6 2.7h1m-4.6-5.2h1m-2.8 4.4h1m-36.3-3.9h1m22.9-3.4h1m-24.5 5.3h1m13.7 .8h1m-10-7.3h1m14.6 1h1m-14.5-1.1h1m4-.9h1m20.3 3.3h1m.1 1.7h1m-1.9 1h1m-2.2-.9h1m-19.4 3.6h1m-16.5-7.2h1m.1 8.6h1m24.4-2.2h1m17.9-7.7h1m-23.2 0h1m-3.3 .6h1m18.4 5.6h1m-24.9-.6h1m-8.3-3.4h1m34.6 4.6h1m-47.5-3.7h1m25 5h1m-18.5-.6h1m2.6-5.5h1m32.9-1.8h1m-14.1 5.9h1m-7.1-5.8h1m-22.7 5.4h1m39.2 1.1h1m-25-5.8h1m-17.5 6.9h1m20.9-4.1h1m-23.7 2.5h1m36.7-1.2h1m-22.9 2.1h1m-6.6-2.4h1m-2.9 .3h1m-3.2-.5h1m-1.7-3.5h1m19 5.2h1m-22.2-6.6h1m17.5 4.3h1m15.1 4h1m-7.7 .8h1m-10.7-.1h1m-6.5-1.1h1m-5 2.5h1m-5.6 .2h1m7.1-6.5h1m26.9 3h1m-22.5-5.7h1m-13.6 5.2h1m-2-3.3h1m7.5 6h1m-.6-8.1h1m-6.2 .3h1m8.9 5.3h1m8.4-.9h1m-3 .6h1m.3-.3h1m-10.9-6h1m14 6.1h1m-37.6-1.8h1m23.3-2.6h1m11.4 6.9h1m-5.8-1h1m9.9-.9h1m-41-2.6h1m24.4-2.9h1m5.3-1.7h1m-19.9 9.6h1m-8.4-4.4h1m8.4 .1h1m17.7-2.1h1m-30.4 1.4h1m26.5 2.3h1m-2.9-2h1m-10.7 4.1h1m-2.6-6.9h1m20-.8h1m-40.8 8.1h1m-4.3-7.2h1m21.3 1.2h1m-22.4 4.7h1m7.4-7.8h1m-7 5.4h1m38.9-2.2h1m13.1 42.3h1m-37.1-31.3h1m-2.1-15.8h1m10.4 21.2h1m12.7-29.9h1m-45.7 9.1h1m-24.5 45.9h1m48.7-1.2h1m-13.6-2h1m-21.7-50.7h1m43.7 40.3h1m.3-13.6h1m20.6 14.6h1m-3.9-22.3h1m-63.6-3h1m12.2 43h1m30.8-16.2h1m-65.1-3.9h1m69.8-8.2h1m-15.7-14.7h1m-31.6 9.8h1m49.2 30.7h1m-37.3-2.8h1m-21.1-51h1m49.5 46.7h1m8.2-8h1m-68.8-1h1m69.4-22.7h1m-69.4 42.1h1m44.6-25.5h1m-18.1 19h1m32.4-51.8h1m9.5 28.7h1m-79.3-18h1m30.2 11.7h1" stroke="#5050b8" stroke-width="1" stroke-opacity="0.33" fill="none"/>
<path d="M217.7 525.9h.8m14-5.7h.8m-8.2 7.5h.8m6.8-5.8h.8m-12.1 10.2h.8m7.2-10.1h.8m3.1-6.6h.8m-13.7 10.7h.8m3.3 .5h.8m7.5-1.8h.8m-1.3 1h.8m-1.3 2.2h.8m-6.2-.9h.8m-12.8 5h.8m12.9-4.1h.8m-12.2 3.2h.8m9.4-7h.8m-19.8 10.5h.8m31-12.3h.8m3.8-.4h.8m-12.5 5.8h.8m-15.6-2.8h.8m7.8 5.4h.8m4.9-11.6h.8m-1.3 3.3h.8m-9.9 8.6h.8m10.9-13.8h.8m-4.3 2.4h.8m-1.6 2.2h.8m-3.8 10.8h.8m1-3.2h.8m-9.5-2.7h.8m7.8-.9h.8m-7.4 3.7h.8m13.8-7.4h.8m-11.3 1.9h.8m4 5.5h.8m-2.8-5.8h.8m1.1 3.5h.8m-18.5 .4h.8m23.7-5.8h.8m-10.5 4.5h.8m-3.9 6.3h.8m-10.4-9.6h.8m6.5 7.8h.8m.2 .5h.8m2.3-5.9h.8m-5.1 8.4h.8m8-1.9h.8m-2.4-3.7h.8m-7.5 3.4h.8m22.7-11h.8m-20.4 7.5h.8m4 .3h.8m-3.6-.9h.8m-5-2.5h.8m5.2-4.7h.8m8.2 3.4h.8m-13 4.6h.8m-9-.2h.8m11.3-4.1h.8m-19.6 15.9h.8m12.1-19.2h.8m-2.2 3.8h.8m5.8 2.4h.8m-14.9 8.3h.8m4.3-10.4h.8m-5.1 3.1h.8m4.8 1.3h.8m10-1.3h.8m-9.2-.6h.8m-7.6-5h.8m18.4 1.9h.8m-11.6 2.1h.8m-17.4 7.5h.8m5.7-6.2h.8m14.3 .5h.8m-2.1-2.8h.8m-2.3 1.4h.8m-.6-.4h.8m-9.7 5.3h.8m6.1-2.3h.8m-7.9 7.3h.8m-2.6-9.6h.8m.2 3.2h.8m-.9-1.4h.8m6.5 4.1h.8m-3.1-6.2h.8m-7.4-1.4h.8m16.4-3.5h.8m-13.9 4.6h.8m14.6-8.6h.8m-4.5 3.2h.8m-19.4 7h.8m14.5-10.8h.8m-12.3 21.1h.8m17.9-18.3h.8m-10.8 2.5h.8m-8.5 10.2h.8m-9 7.2h.8m8.1-16.6h.8m-6.1 7.9h.8m19.3-8.4h.8m-20.8 6.8h.8m9.2-.6h.8m2-8h.8m-3.6 3.7h.8m2 .6h.8m-3.9 3.7h.8m6.1-5.3h.8m-14.8 5.1h.8m11.4-5.6h.8m-17.4 2.6h.8m16.7 6.4h.8m-15.1-1.7h.8m6.7-3.7h.8m6.2-1.8h.8m4.7-1.9h.8m-24.7 12.4h.8m5.5-7.4h.8m-3.9-1.9h.8m18.5-5.1h.8m-17.9 7.1h.8m11.7-6h.8m-9.3 6.8h.8m-7.7 4.7h.8m13-3.6h.8m-12.8 1.2h.8m11.1-12.6h.8m3.7 6.2h.8m3.7-1.1h.8m-23.2 2.6h.8m22.9-4.6h.8m-6.2 1.4h.8m-23.4 9.8h.8m31.5-15.2h.8m-4.6 2.9h.8m-21.6 12.3h.8m10.7-4.3h.8m-15.6 3.9h.8m8.5-5.2h.8m5.6 5.6h.8m-3-11.9h.8m-10.7 8.5h.8m5.2-3.7h.8m-6 7.2h.8m9.9-4.7h.8m-2.5-8.3h.8m-1.3 10h.8m3.7-11.7h.8m2.2 12.7h.8m-9-7.8h.8m8.2 1.7h.8m-21.7 6.4h.8m10.1-2.4h.8m-16.6 3.3h.8m14.3-5h.8m-4.5 1.6h.8m9.4-5.4h.8m-9.6 7.5h.8m-4.3-2.7h.8m3.6-2h.8m-2.6-2.7h.8m6.1 .6h.8m-12.2 5h.8m-3.5 6.7h.8m-1.8-.3h.8m18.3-15.8h.8m-17.7 13.8h.8m6.8-1h.8m-8.2-1.6h.8m13.1-11.4h.8m-6.3 16.8h.8m10.1-13.3h.8m-15.6 8.8h.8m9.9 .9h.8m-2.5-11.5h.8m2.6 2.2h.8m-21.1 3h.8m9.4 3.3h.8m1.3-1.5h.8m-16.3 4.2h.8m18.9-11.2h.8m-2.2 3.3h.8m0-.6h.8m-12.7 13.4h.8m8.6-12.1h.8m1.3-.8h.8m3.8-2.6h.8m-15.2 2.5h.8m10.3-1.9h.8m7.9-8.1h.8m-17.1 14.7h.8m-4.4-6.9h.8m1.6 2.8h.8m-7.7 9h.8m4.2-11.7h.8m15.6-7h.8m-16.6 18.4h.8m1.2-9.9h.8m12.1-2.2h.8m-5.2 3.6h.8m-5.6-2.5h.8m-6.2 .7h.8m6.1 8.3h.8m-3.1-6.6h.8m6.1 .2h.8m-7.5-1h.8m7.7-.5h.8m-25.4 7.2h.8m20-11.7h.8m-10.7 6.7h.8m4.1-1.1h.8m-4.2 1.9h.8m7.9-3.7h.8m-5.5 5.4h.8m3.5-6h.8m-9.6 10.5h.8m4.4-9h.8m9.4-.6h.8m-.6 2.4h.8m-11.6 7.5h.8m-2.9-12.9h.8m1.2 13h.8m-4.5-11.2h.8m5.4 8.6h.8m6.2-9.3h.8m-5.1 3.8h.8m3.9-7.5h.8m2.8 5.1h.8m-22.9 11.3h.8m9.4-10.4h.8m-6.7 3.1h.8m-7.6 9.3h.8m3.7-1.8h.8m3.2-3.2h.8m14.3-12.7h.8m-12.5 7.9h.8m-1.4 3.9h.8m.2-1h.8m-5.9 4h.8m4.8-6.9h.8m-4.2-1.3h.8m-11.2 9.5h.8m8-4.2h.8m27.8-19.6h.8m-20.4 14.5h.8m-8.5-.5h.8m6.9-.2h.8m-14.9 4.6h.8m11.8 3.3h.8m3.8-6.1h.8m-21.5 8h.8m3.4-8.3h.8m2-1.2h.8m3.2 5.1h.8m-4-1.5h.8m6-2h.8m2-8.7h.8m-5.9 3.1h.8m7 1.8h.8m-1.1-1h.8m-15.3 3.8h.8m6.8-2.2h.8m-3.3 7.3h.8m5.2-7.9h.8m-6.9 7.2h.8m2.2 2.4h.8m11.6-11.8h.8m-15.6 7.4h.8m-12.6 3.8h.8m15-2h.8m-3.7-8.4h.8m-6.4 4.4h.8m5.4 .7h.8m4.2-8.3h.8m-8.8 13.7h.8m-.8-6.1h.8m-2.9 5.6h.8m5.8-6.9h.8m-4.2 2.1h.8m-6.5 4.2h.8m1.9-9h.8m15.9-5.9h.8m-27 16.8h.8m6 6.4h.8m10.2-11.4h.8m-14.2 7.1h.8m22-19.3h.8m-24.2 20.3h.8m1.2 .2h.8m4.5-4.8h.8m14.5-1.4h.8m-9.3-10.3h.8m-2.2 1.8h.8m-1.5 3.5h.8m5.7-6.3h.8m-23.1 16.2h.8m16.1-7.6h.8m7.2-6.4h.8m-19.9 11h.8m10.4-5.1h.8m6.7-2.8h.8m-2.8-4.2h.8m-11.5 5.9h.8m17.5-3.2h.8m-13.7 1.4h.8m2.8-3.9h.8m-15.5 12.4h.8m.6-3.2h.8m-.1 1.4h.8m18.4-11.3h.8m-31.2 19.5h.8m3.5-1.3h.8m16.6-16.3h.8m-6.4 1.7h.8m-4.1 3.8h.8m-1.5-2.9h.8m10.2-7.4h.8m-21.7 18.6h.8m8.8-7.6h.8m9.5-10.2h.8m-1.7 3.8h.8m-13.8 6.9h.8m7.3 3.2h.8m-11.1 2.8h.8m20.5-12.7h.8m-16.5 3.9h.8m14-4h.8m-3.1 4.4h.8m-14.5 5.7h.8m6.3-.6h.8m3.7-6.1h.8m-1.4 2.6h.8m7.1-5.3h.8m-5.5-1.2h.8m-3.8 8.8h.8m.4-4.3h.8m-10.8 7.3h.8m-2.9-6h.8m8.3-5.1h.8m-1.4 3.7h.8m-12.8 4.3h.8m9.3-.2h.8m-6.6 2.4h.8m2.4 1.3h.8m12.3-9.6h.8m-20.7 4.5h.8m4.8 4.8h.8m6-9.8h.8m-4.7 1.8h.8m1.2 1.9h.8m-13.3 6.6h.8m11.7-3h.8m-.5 6.7h.8m-8-5.1h.8m2.7 1.9h.8m-1.4-5.9h.8m8.8-3.3h.8m5.7-6.8h.8m-14.1 7.7h.8m12.5-.7h.8m-12.7 3.2h.8m-13 6.8h.8m9-10.1h.8m12.5 2h.8m-2.9-5.9h.8m-18.9 8.3h.8m23.9-11.4h.8m-22.3 14.6h.8m-.6 .2h.8m1.9 1.2h.8m10.2-15.7h.8m-7.8 6.3h.8m6.3 3.6h.8m-23.5 15.2h.8m11.1-17.5h.8m-.4 1.8h.8m3-7.6h.8m-8.5 7h.8m11.8-7.2h.8m-13.9 10.2h.8m-7.9-.2h.8m.7 7.2h.8m19.7-15.1h.8m-4.9 1.6h.8m-10.7 9.8h.8m11.7-11.3h.8m-12.1 2.5h.8m1.6 3.5h.8m-7.6 11.8h.8m2.9-9.8h.8m4.9-1.6h.8m-1.2-2.5h.8m-6.7 3.2h.8m12.2-4.5h.8m-2.4-10.9h.8m-15.7 13.5h.8m9.4-3.2h.8m-14.9 9h.8m16.7-3.2h.8m-9.7 8.7h.8m2.5-8.7h.8m1.3-2h.8m-3.5 2.5h.8m10.3-3h.8m-18.6 .5h.8m2.3 .1h.8m6.3-1.5h.8m-3.3 2h.8m-2.1-7.6h.8m-.7 8.7h.8m-8.5-3.3h.8m14.1 .6h.8m-5.1 2.7h.8m.5-12.5h.8m6.9 6.2h.8m-14.1 6.2h.8m-5-.7h.8m3.8 3.3h.8m-.6 3.8h.8m-13.3 1.3h.8m24.2-19.8h.8m-10.7 4.2h.8m14.2-7.4h.8m-22.5 12.7h.8m11.4 1.3h.8m-4.6-1.1h.8m-3.9 .5h.8m8.6-1.8h.8m-9.5 1.7h.8m-1.4 .3h.8m-.4-3.5h.8m-18.6 10.7h.8m11.7-4.5h.8m-2.8-3.4h.8m21.8-1.8h.8m-11.3 0h.8m-.4-2.8h.8m.4 5.1h.8m-10.2-2.4h.8m16.5-1.7h.8m-16.4 5h.8m-7.1 10.3h.8m10.8-15.6h.8m3.6-1.9h.8m-9.6 3.2h.8m.5-2.2h.8m6.1 1.8h.8m1.4-6.2h.8m-5.7 8h.8m6-7.4h.8m-8.7 10.7h.8m7.2-18h.8m-22.4 23.2h.8m16.2-10.8h.8m-5.9 2.6h.8m-3.1-1.1h.8m-7.6 12.7h.8m13.6-16.1h.8m-9 7.7h.8m-8 1.4h.8m1.8-1.8h.8m2.9-.4h.8m2.7 .3h.8m-11.3-.9h.8m.1 1.9h.8m7.9-8.3h.8m-1.7 7.2h.8m12.7-12.1h.8m-18.7 10.3h.8m10.2-.9h.8m5.7-6.1h.8m-14.8 9.4h.8m7.3-6.6h.8m-5.1 4.5h.8m-3.2 .1h.8m9-10h.8m-18.3 14.7h.8m1.2-3.2h.8m-9.4 5.2h.8m12.5-5.4h.8m6.2-7h.8m-11 3.7h.8m11 1.9h.8m-11.8 8.6h.8m10.1-14.3h.8m-7.9 9.5h.8m-4.7-.6h.8m13.5-11.9h.8m-13.6 6.4h.8m4.5-.8h.8m-4.4 1.4h.8m3.7-2.1h.8m-4.8 3h.8m-12.5 2.7h.8m13.7-.5h.8m-2.5-6.6h.8m-1.4 .6h.8m-2.3 8.3h.8m14.4-9h.8m-18.9 12.6h.8m3.5-7.3h.8m-1.4-2.7h.8m-7.7 10.6h.8m-3.6-3.1h.8m13.2-7.9h.8m-1.9-2.1h.8m-2.9 5.9h.8m-18.4-.7h.8m13.8 2.8h.8m-.8-9.5h.8m6.6 6.7h.8m-.4-9.4h.8m-2.7 9.5h.8m5.9 3.1h.8m0-10.9h.8m-32.4 14.2h.8m29.3-5h.8m-15.4-.9h.8m5.1-5.7h.8m.9 7.9h.8m-16.6-6.6h.8m2.2 3.4h.8m9.6-5.1h.8m-4.4 4.3h.8m3.9-7.6h.8m-4.7 12.9h.8m18.7-10h.8m-20.7 6.9h.8m16.2-10.8h.8m-24 8.6h.8m12.4 .3h.8m1.6-5.7h.8m-17.1 14h.8m2.4-.3h.8m8-8.6h.8m1.4-9.3h.8m2.7 2.5h.8m-3.2 10h.8m1.2-5.2h.8m-15.7 12.6h.8m-1.1-13.7h.8m16.7-1.7h.8m-16 8.2h.8m-.7-5.5h.8m-10.5 9.1h.8m13.4-1.8h.8m-12 4.6h.8m12.1-11.2h.8m9-2.2h.8m-8.1 7.3h.8m-5.6-5.9h.8m-2.9 6.3h.8m7.6-1.8h.8m-16.1 2h.8m7.3 3h.8m16.7-15h.8m-25 18h.8m4.5-3.6h.8m-8.1 1.5h.8m18.1-12.5h.8m-12.5 5h.8m-7.3 6.8h.8m-.6 0h.8m18.9-6.4h.8m-6.4-2.5h.8m.8 .7h.8m-5.2 7.5h.8m4.3-8h.8m2.6-1.3h.8m-3.9 6h.8m-20.3 5.1h.8m-3.1 2.5h.8m3.6-1.1h.8m10.8-9.8h.8m-15.7 4.5h.8m1.8-2.7h.8m9.6-1h.8m-5.6 7.6h.8m-4 1.3h.8m17.1-7.5h.8m-5.5-.1h.8m-1.1-5.7h.8m-1.1-2.9h.8m4.6 .5h.8m-11.6 6.9h.8m-2.6-.7h.8m-10 11.4h.8m7.8-11.3h.8m-1.3 5.5h.8m12-6.3h.8m-7.7-5.8h.8m7.4 .5h.8m-1.1 6.4h.8m-.7-1.5h.8m-6.9 .6h.8m-5.7-1.9h.8m-4.1 3.4h.8m3.2 .7h.8m-6 7.3h.8m8.1-7.8h.8m-5.3 .3h.8m-15 9.1h.8m-5 4.4h.8m10-15.6h.8m2.4 1.1h.8m2.1 2.3h.8m13.1-3.3h.8m-15.5 7.7h.8m-8.7-2.7h.8m13-4.6h.8m2.7-4.8h.8m4.6-1.7h.8m-20.1 12.7h.8m4.2-4.6h.8m-2.4 .1h.8m12.8-9.8h.8m-7.6 2.2h.8m-3.7 6.8h.8m5.1-1.8h.8m-8.3 5.7h.8m-1.9-4.7h.8m.6-.5h.8m-1.1 7.7h.8m-.3-3.5h.8m4.5-1.2h.8m-4-3.7h.8m8.4-5.6h.8m-6.2 1.4h.8m-4.5 10h.8m-20.1 2.8h.8m3.6-4.7h.8m8.1-1.3h.8m3.3 5.3h.8m-9.8 .3h.8m6.6-3.3h.8m2.7-2.3h.8m-6.7 2.6h.8m2.7-2.4h.8m-2.4-3.7h.8m-.5 11.3h.8m-4.9-4.5h.8m6.9 .9h.8m-2.3-9.7h.8m-7.3 11.5h.8m-11-.8h.8m7.1-4.8h.8m12.7-1.6h.8m-15.5 11h.8m18.8-9.6h.8m-12.2 6.2h.8m2-7.6h.8m-5.9 6.8h.8m7.2-9.6h.8m-4.7 2.4h.8m2.8 .9h.8m-18.8 8.6h.8m20.8-8.3h.8m-23.1 2.3h.8m14 2.9h.8m2.9-8.5h.8m-2.9 8.9h.8m3.9-3.8h.8m-7-5.2h.8m.4 3.5h.8m-6.4 5.8h.8m10.5-11.8h.8m.1-.3h.8m-12.5 8.1h.8m-1.8 4.5h.8m7.7-4h.8m-10.1 .1h.8m7.9-.1h.8m5.3-1h.8m-2.9-.9h.8m2.7-8.1h.8m-8.6 3.9h.8m-10.2 9.4h.8m1.4 .8h.8m9-6.9h.8m8.1-8h.8m-18.5 7.8h.8m-1.5 8.6h.8m14.2-13.6h.8m-9 12.1h.8m.6-12.1h.8m3.3 .8h.8m-16.7 7.6h.8m7.9 4.6h.8m-3.3-.9h.8m4.6-9.5h.8m-2.2-4.6h.8m-4.5 13.6h.8m5.5-7.3h.8m-20.3 6.1h.8m14.5-9.9h.8m2.2 5.5h.8m-4.3-.4h.8m-11.1 7h.8m9.7-4.8h.8m-9.3 1.8h.8m18.1-10.1h.8m-12.2 9.8h.8m-1.4-2.5h.8m-.4-.9h.8m5.5 0h.8m-8.4-5.6h.8m7.7 7.3h.8m-12.9 3.7h.8m12.4-11.8h.8m-11.7 8.3h.8m10.7-1.1h.8m-5.8 .2h.8m1.7-10.2h.8m-8.1 6.9h.8m-9.2 9.2h.8m4.1 3.3h.8m4.4-6.7h.8m9.6-9.4h.8m-12.9 9.6h.8m1.8-3.5h.8m7.6-5.9h.8m-13.2 9.5h.8m1.7-10.8h.8m4 9.1h.8m-8.1 2.3h.8m3.8-6.2h.8m4.6-4.6h.8m-1.4-1h.8m-8.6 9.9h.8m23-13.7h.8m-19.7 10.6h.8m-3 7h.8m-10.3-9.4h.8m-.4 5.3h.8m12.4-7.5h.8m-25.4 20.1h.8m17.5-14.6h.8m-11 3h.8m10-1.6h.8m.5 0h.8m-8.3 8.6h.8m-.6-5.2h.8m14.8-11.2h.8m-14.4 7.3h.8m2.8-3.1h.8m-1.1 5h.8m8.2-3.8h.8m.5-4.6h.8m-2.9 1.5h.8m-1.1 5.9h.8m-2.8-3.7h.8m-13.1 8.3h.8m15.1-14.8h.8m-13.8 9h.8m-5.7-3h.8m4.3 .1h.8m-1.2 6.7h.8m9.5-2.5h.8m-.9-5.6h.8m1.9-4.9h.8m-9 9.3h.8m-2.8 5.1h.8m-.5-5.1h.8m-5.7 6.8h.8m.9-4.6h.8m17.5-14.5h.8m-20.7 12.2h.8m2.5 .6h.8m11.3 2.8h.8m-6.3-3.3h.8m1.7-4.5h.8m-12.1 8.3h.8m-2.4 .6h.8m15.8-11.7h.8m-15 9.1h.8m3.3-2.8h.8m3.1 1.6h.8m-14.8 10.8h.8m11.1-7.4h.8m-6.8-2.9h.8m9.2-2.3h.8m-9-.2h.8m-15.7 6.9h.8m23.5-9.1h.8m-24.6 15.2h.8m14-10.7h.8m-1.5 3.7h.8m-.2-.3h.8m3.5-2.7h.8m4.9-6.6h.8m-16.2 4.1h.8m6.1 7.9h.8m5.6-12h.8m-.6 4.4h.8m.4-1.6h.8m-5-.8h.8m-1.6 8.6h.8m-4.4-2.3h.8m-1.8-2h.8m8.7-6.8h.8m2.7-4h.8m2.3-2.9h.8m-20.2 17.7h.8m3.5-6.2h.8m1-1h.8m-.5 3.4h.8m-9.3 1.5h.8m25.3-10.7h.8m-7.8-1h.8m-13 7.3h.8m-.7 5.3h.8m0-6.4h.8m-7.7 8.6h.8m5.5-3.9h.8m6.6-6h.8m3.2-8.4h.8m-6 4.2h.8m2.6-1.1h.8m-18.5 9.1h.8m-13.6 15.1h.8m30.7-23.9h.8m-10.3 3.9h.8m-1.6 3.2h.8m12.9-6.1h.8m-22.9 6.4h.8m2.9 6.4h.8m.9-.5h.8m14.7-13.5h.8m-3.6 6.8h.8m-24.8 4.5h.8m26.4-11.3h.8m-12.4 7.8h.8m2.6-1h.8m-8 8h.8m16.6-15.1h.8m-12.6 4h.8m7.7-.2h.8m-18.2 9.4h.8m12.3-6.2h.8m-6.5 .3h.8m-2.4 2.8h.8m-6.3 .3h.8m1.8 2.8h.8m-6.3-1.6h.8m3.1-2h.8m6.8 2.5h.8m.7-8h.8m-15.6 11h.8m4-.5h.8m.9-4.3h.8m-6.5 7.7h.8m6.9-9.8h.8m1.9 4.5h.8m-4.3-7.7h.8m4-1.9h.8m5.5 1.8h.8m.2 4.5h.8m-4.4 2.7h.8m-2.3-8.3h.8m-9.9 8.1h.8m-2.6-.7h.8m8.5-11.3h.8m3.1 8.5h.8m9.6-9.9h.8m-16.1 15h.8m-8.2 0h.8m7.4-7.6h.8m-6.5 2.7h.8m-3.4 3.2h.8m17.1-7.5h.8m2-5h.8m-7.3 15.8h.8m-12.6-3.1h.8m3.9-7.6h.8m-1.2 4.7h.8m-9.1 8.6h.8m14.7-11.3h.8m-5.6-.1h.8m5.5-4.7h.8m-14.6 7.1h.8m2.6-3.3h.8m-.5 2.3h.8m-11.6 8.9h.8m29.6-20h.8m-31.8 25.3h.8m4.3-7.4h.8m3.9-5.6h.8m-9.2 6.1h.8m16.4-3.9h.8m-12.4-5.4h.8m6.3 3.3h.8m4.2 6.3h.8m-4.6-4.1h.8m-3.6-5.6h.8m-1.1 4h.8m3-3.4h.8m6.8 6.9h.8m-14.2-5.3h.8m-1.6 1.9h.8m-.5-.4h.8m2.8-6h.8m-8.9-2.5h.8m4 8.7h.8m-8.1 6.8h.8m23.5-17h.8m-23.1 15.8h.8m21.6-11.4h.8m-7.6 3.5h.8m-2.8-7.7h.8m-1.5 12.3h.8m-.1-2.8h.8m-2.4 .6h.8m.3-3.5h.8m1-1.1h.8m3.5-4.4h.8m-18.2 13.3h.8m11.1-4.8h.8m5.4-8.9h.8m-.3 4.8h.8m-21 6.5h.8m10.9-2.6h.8m-2.2-2h.8m.6 3h.8m-18 13.5h.8m20.1-17.9h.8m-20.7 8.4h.8m28.1-15.8h.8m-10.8 9.4h.8m-8.2 0h.8m7.1 1.1h.8m-5.6 .1h.8m-5 4.6h.8m.3-6h.8m1.9-3h.8m-9.2 5.4h.8m12.5-3.1h.8m.4-5.1h.8m1.2 4.4h.8m-4.3-8.2h.8m2.3 3.4h.8m-4.5 3.9h.8m1.2-7.3h.8m-8.4 8.8h.8m.5-4h.8m9.1-.2h.8m2.9-2.7h.8m-16.7 12.4h.8m-11.6 .2h.8m25.3-17.4h.8m-6.6 7.2h.8m5.3-.9h.8m-7.8 3.8h.8m-5.8 3h.8m-5.8 6.7h.8m-5.7-3.1h.8m17.8-9.8h.8m-5.4 .2h.8m-5.5 3.5h.8m-9.1 10.7h.8m2.6-4.4h.8m-6.2-8.1h.8m7.7 9.5h.8m-25.6 1.9h.8m25.4-8.7h.8m11.6-1.7h.8m-18.2 6.5h.8m4.2-1.2h.8m1.6-.2h.8m-11.4 3.8h.8m7.7-10.5h.8m-7.8 9.9h.8m.4-4.6h.8m1.8-7.8h.8m.2 7.3h.8m1.7 1.8h.8m-9.3 3.1h.8m11.7-7.3h.8m-12 12.6h.8m11.7-12.4h.8m-10 7.5h.8m-7.1 1.3h.8m9.7-.9h.8m-11.4-1.6h.8m5.7 2.1h.8m3.1 .3h.8m2.9-10.3h.8m1.5 4h.8m-7-5.5h.8m-4 8h.8m-9.6 6.5h.8m6.7-10h.8m-3.1-2.3h.8m3.6 4.4h.8m-4.5 .7h.8m.1 1.4h.8m9.5-5.3h.8m-16.3 10.6h.8m10.6-3.6h.8m7-8.6h.8m-19.4 3.1h.8m1 7.2h.8m4.6-4.1h.8m-2.1-.2h.8m6.1 1.5h.8m5.5-8.4h.8m-13.1 4.6h.8m5.7-.6h.8m-12.8-1h.8m4 6.9h.8m3.7-5.9h.8m-5.6 8.7h.8m12-10.8h.8m-13.6 6h.8m.7-1.6h.8m-9.7-.1h.8m5.6 .5h.8m-4.5 3.5h.8m4.2-.2h.8m-11.6 3.9h.8m13.2-6.8h.8m12.7-7.5h.8m-30.6 12h.8m28.4-13h.8m-16 6.4h.8m5.3-7.2h.8m-15.8 7.3h.8m26.3-6.3h.8m-23.7 15h.8m6.8-4.3h.8m8.3-13.4h.8m-19 18.7h.8m-8.9 4.7h.8m13-16.2h.8m-4.2 6.5h.8m-.4 4.4h.8m-2.9-4.9h.8m-3.4 5.5h.8m18.5-17.4h.8m-1.7 1.6h.8m-18.9 14.5h.8m7.3-8.4h.8m-3.1 2.4h.8m11.3-6.8h.8m-17.6 5.1h.8m22.2-3.4h.8m-15.9 2.3h.8m-7.3 2.9h.8m4.5-3.3h.8m-3.9 3.5h.8m19.7-15h.8m-14.3 14.2h.8m-7.6-.7h.8m5.4 .7h.8m7.3-10.7h.8m-19.9 10.1h.8m-6.3 3.4h.8m24.3-9.6h.8m-8.7-1.4h.8m-5.6 10.7h.8m.2-4.9h.8m10.4-1.7h.8m-32.7 12.9h.8m32.2-13.8h.8m-15 1h.8m5.8-3.9h.8m-3.8 8h.8m21.9-16.9h.8m-27.2 20.6h.8m9.8-12.4h.8m-27.8 19.5h.8m17.7-15.2h.8m3.6-5.9h.8m-14 19.1h.8m-7.2-2.5h.8m17.7-5.9h.8m5.1-6.2h.8m-2.4-6.2h.8m-12.1 14.2h.8m8.3-2.6h.8m-14.2 8.3h.8m24.5-12.8h.8m-21 6.6h.8m12.9-9.5h.8m-12.6 7.2h.8m-3.2-3.2h.8m17.5-3.1h.8m-20.4 10.8h.8m15.6-10.5h.8m-15.5 4h.8m-2.7 6.3h.8m-2.4-3.6h.8m17.5-3.4h.8m-13.2 0h.8m-2.8 1.4h.8m-9.6 5.6h.8m19.2-13.7h.8m-1.6 .9h.8m-5.6 4.9h.8m-.6-8.1h.8m-6.6 13.7h.8m4.5-3.2h.8m-3.1-3.1h.8m-4.4 6h.8m5.2-4.1h.8m-8.2 4.5h.8m-2.8-4.8h.8m-3.2 6.4h.8m7.2-11h.8m-4.9 8.5h.8m-.1-2.9h.8m14.5-7.4h.8m-11.6 7h.8m1.1 3.3h.8m-12 7.6h.8m5.3-7.8h.8m9.2-9.7h.8m-.1 9.2h.8m-9.3-6.1h.8m-1.2 3.4h.8m1.6-.1h.8m1-2.9h.8m-3.2 9.1h.8m-19.3 6.7h.8m35.3-17.5h.8m-9.5-.3h.8m-9.1 9h.8m9.9-9.8h.8m-22.2 11.9h.8m20.3-10h.8m-9.3 5h.8m5-2.5h.8m-11.7 3.1h.8m1-5.8h.8m4.5 1.5h.8m-.9-8.8h.8m-1.2 9.2h.8m-2.2-1.2h.8m-6.4 9.1h.8m11.8-20.1h.8m-5.2 20h.8m-7.9-4.8h.8m-3.6-3.1h.8m-4.5 9.6h.8m3-1.9h.8m-7.1 3.3h.8m15.6-2.5h.8m-7.9-7.4h.8m3.4 1.9h.8m-12.6 6h.8m4.4-6h.8m-1 3.7h.8m13.6-4.3h.8m-23.7 4.8h.8m1.1 3.8h.8m22.1-10.6h.8m-8.6 3h.8m-19.6 2h.8m25.2-7.4h.8m-.8-2.5h.8m-1 6.1h.8m-28.1 10.1h.8m19.7-3.5h.8m-13.7-4.8h.8m6.7 2.3h.8m-13.3 1.8h.8m29.5-6.9h.8m-20.3 10h.8m2.9-11.3h.8m6 2.5h.8m-3.5-1.5h.8m-4.9-3.6h.8m-6.2 5.1h.8m5.8 .6h.8m-3.6 3.2h.8m-18.4 6.4h.8m26-12.4h.8m-13.6 7.1h.8m0-.5h.8m-2.2-4.7h.8m-6.4 8.1h.8m1.2 .3h.8m-8.7-3.2h.8m21.9-1.2h.8m4.7-3.4h.8m-11.6 1.2h.8m-7.3 10.8h.8m13.9-19h.8m-13.8 6.7h.8m-10.4 6.5h.8m-3.2 1h.8m19.5-1.7h.8m6.3-10.6h.8m-15.3 7.6h.8m-2.2 2.3h.8m4 2h.8m-7.6-1.6h.8m.8-2.9h.8m6.5-1.6h.8m-6.9 7.1h.8m9.9-11.4h.8m-13.3 12.9h.8m10.7-10.5h.8m-4.4 .2h.8m-5.5 5.1h.8m2.3 3.9h.8m-4.6-6.2h.8m17.6-4.1h.8m-21.7 8.5h.8m14.3-9.9h.8m-2.4 .5h.8m-10.2 8.1h.8m14.3-9.2h.8m-32.7 16.8h.8m20.3-10.6h.8m-4.1-3.9h.8m-1.3 1.1h.8m5.1-4.6h.8m-9.5 7.3h.8m1.1-.5h.8m9.4-6.3h.8m-9.3 8.1h.8m-10.4-.2h.8m13-5h.8m-4.2 6h.8m-3.3 4.4h.8m5.4-9.5h.8m-9.4 9h.8m-2.2 1.4h.8m1.1-9.9h.8m1.7 3.3h.8m-.9-4.8h.8m-9.6 7.4h.8m23.4-10.5h.8m-11.6-.2h.8m-2.2 7.4h.8m-1.2-2.3h.8m-22.4 11.7h.8m27.4-12.8h.8m-18.3 4.7h.8m9.8-9.2h.8m-11.4 12.3h.8m15.2-11.6h.8m-12 8.1h.8m.3-4h.8m13.2-7.1h.8m-5.2 2.1h.8m-17.2 21.6h.8m1.5-7.7h.8m.4 1.5h.8m6.5-7.5h.8m36.5-12.3h.8m-48.3 10.4h.8m-10.9 6.3h.8m23.9-10.3h.8m-11.6 17.8h.8m-1.3-14.9h.8m4.9 .6h.8m1.9 4.2h.8m-.1-3.1h.8m-2.7 5.7h.8m9-13.3h.8m-6.5-3.5h.8m-10.1 18.2h.8m4.2 .8h.8m-19.8-5.4h.8m20-13.5h.8m-6.6 11.4h.8m18.4-18.7h.8m-23 25.4h.8m18.9-20h.8m-22.3 22.8h.8m-11.6-.2h.8m9.2-2.9h.8m13.3-4.8h.8m4.4-7.8h.8m-23.1 7.7h.8m23.6-2.5h.8m-22.5-1.5h.8m6.3 12.5h.8m-3.5-10.1h.8m20.4-11.2h.8m-14.4 12.7h.8m.6-.6h.8m-20 11.2h.8m12.4-18.6h.8m1.8 1.9h.8m16.6-2.7h.8m-27.5 15h.8m-.2-3h.8m.3 7.3h.8m-1.5-8h.8m16.1-3h.8m-16.2 9.4h.8m19.6-15.5h.8m-15.4 5h.8m-8.7 9.7h.8m1.3-2.9h.8m-8.1 5.1h.8m-5.2-6h.8m30.2-9.6h.8m-1 6.5h.8m-25.2 2.8h.8m5.9-1.3h.8m20.2-13.8h.8m-23 18.7h.8m2.2-18.4h.8m11.1 14.2h.8m-11-.5h.8m-2.4-3.3h.8m-1.2 3.1h.8m6.1 1h.8m-20.6 6.7h.8m17.1-8.3h.8m2 1.6h.8m-19.5 4.4h.8m19.6-8h.8m-13.8 11.4h.8m-16.7-3.2h.8m24.4-6h.8m7.2 2.8h.8m-17.1-4.4h.8m-9.9 9.5h.8m13-7.8h.8m11.8-4.4h.8m-14.2 .1h.8m-15.2 10.1h.8m24.8-2.9h.8m-11-1.5h.8m-3.7-5.9h.8m5.1 4.8h.8m2.8-6.2h.8m-4.4 10.4h.8m-17.6-8.6h.8m12.5 2.4h.8m3.9 2.4h.8m5-16h.8m-25.3 16.5h.8m13.8-1.1h.8m-9.8 2.5h.8m10.7-8.3h.8m-8.1 7.5h.8m-32 7.7h.8m43.7-21.6h.8m-11.9 20.8h.8m-11.2-7.8h.8m-2.6 7.2h.8m2.7-4.8h.8m-1 5.4h.8m10.2-9.2h.8m2.5-1.4h.8m-1.4 4.7h.8m1.9-6.3h.8m-18.4-1.7h.8m17-4h.8m-3.3 13.2h.8m4.2-4.8h.8m-2.1-6.6h.8m-14.6-.1h.8m18.5-5.7h.8m1.2 14.7h.8m-15.8 3.3h.8m22.4-12.7h.8m-8.6-11.7h.8m-34.4 20.1h.8m-6.5 7.5h.8m14.7-13h.8m14.4-.1h.8m1.3-8h.8m.1 8.4h.8m-9.7 1h.8m8.8-7.3h.8m-.6 6.8h.8m-13.6 5.9h.8m5.1-5h.8m7.5-7.4h.8m-18.3 11.4h.8m-5.2-8.1h.8m-3 1h.8m26.8-8h.8m-7.3 8.2h.8m4.9 6h.8m-17 1.3h.8m-.5-8.1h.8m13.7-5.1h.8m-18.6 5.4h.8m17.7-3.3h.8m-13.7 6.9h.8m-.7 .2h.8m6.1-2.1h.8m4.3 1.5h.8m7.9-6.8h.8m-27.6 4.5h.8m25.7-3.4h.8m-31.4 6.4h.8m1.5 6.6h.8m-16.1 6.9h.8m35.8-11.3h.8m1.7-11.5h.8m-29.3 15.9h.8m8.1-6h.8m2.6 4.5h.8m-15.9 5.3h.8m15.1-12.1h.8m4.3 3.4h.8m-6.3 10.2h.8m-7.5 1h.8m11.2-7.3h.8m-.7-11.5h.8m-21.2 13.8h.8m13.8-6.7h.8m1.8-11.9h.8m-2.7 2.5h.8m18.5-.3h.8m-36.7 10.7h.8m30.1-9.5h.8m-16.2 12.5h.8m8-6.6h.8m-12.2-1.4h.8m-10.8 6.7h.8m-3.1 10.1h.8m40.6-28.5h.8m-40.1 22.8h.8m12.5-2.8h.8m9.1-24.8h.8m-6.2 18.5h.8m.2 5.1h.8m-10.6 2.2h.8m-11.8-1.9h.8m-1.7 10.1h.8m24.4-8.9h.8m-1.8-13.6h.8m-18.1 9.2h.8m1.9 1.7h.8m10.1-7.5h.8m.1-9.7h.8m-22.2 10.1h.8m25.5-8.7h.8m-1.7 4.3h.8m-8.2 10.1h.8m-15 2.5h.8m18.8-6.9h.8m3.3 4.4h.8m14.5 .6h.8m-31 4.9h.8m18.1-20.9h.8m-16.8 20h.8m6.2-9.5h.8m-6.8 5.2h.8m2.8 1.5h.8m13.6-9h.8m-28.8 3.8h.8m15.8-8.2h.8m-9.2 12.5h.8m2.7 .5h.8m-4.7 10.1h.8m5.4-11.9h.8m-26.6 8.8h.8m17.5-10.8h.8m12.3-8.5h.8m-4.1-1.5h.8m-27.2 14.6h.8m6.4 .2h.8m8.3-1.4h.8m21.7-17.3h.8m-23.6 17.1h.8m2.9-3.8h.8m-3.2 1.6h.8m4.6-4.1h.8m-12.1 10.3h.8m11.1-8.1h.8m-4.8-12.8h.8m12.3 9.2h.8m-21.9 10.7h.8m16.7-13.7h.8m12-2.7h.8m-15 3h.8m0 4.2h.8m-36.8 14.3h.8m43.6-15.8h.8m4.6-4.9h.8m-12.6-3.6h.8m-6.7 7.5h.8m6.1 4.1h.8m21.9-14.3h.8m-41.5 21h.8m-.5-7.3h.8m16.5-7h.8m-7.9 8.7h.8m-26.5 15h.8m24.1-15.6h.8m-1.4-4.2h.8m-13.1 10.2h.8m12.7-9h.8m-3.8-2.1h.8m-22.8 12.6h.8m24.9-12.7h.8m15.2-12.7h.8m-.4 10.8h.8m-31.2 18.6h.8m-2.6 1.6h.8m10.2-15.4h.8m1.6-1.2h.8m-15.9 14h.8m3.9-6.7h.8m22.3-11.9h.8m-12.8 6.7h.8m4.7-10.3h.8m-5.6 18.7h.8m4.3-17.9h.8m-18 8.7h.8m4.9 10.1h.8m-9.9-5.5h.8m8.6 2.8h.8m-11.2 5.8h.8m7-8.4h.8m3.4-8.1h.8m.1 .8h.8m4.6 4.1h.8m-9.8 3.9h.8m.2-6.7h.8m12.5-7.1h.8m-14.3 9.1h.8m3 2.3h.8m-10.8 11h.8m20.1-18.7h.8m-17.8 19.5h.8m-4.8-1.8h.8m23.2-9h.8m-30.2 3.1h.8m26.7-7.1h.8m-11.5 8.7h.8m-13.2-9h.8m25.5-2.4h.8m-33.8 21.1h.8m3.8-6.7h.8m23.5-8.1h.8m-26.6 5.6h.8m18-11h.8m-3.8 8.6h.8m-3.4 1.4h.8m-14.2-4h.8m9.5 8.4h.8m9.3-5.7h.8m-14.8 6.9h.8m12.6-17.2h.8m-.3 10.8h.8m.7-4.9h.8m-3.2 3.6h.8m.5-6.2h.8m-3.7-.5h.8m3.4-3.8h.8m-5.5 3.1h.8m2.2 6.7h.8m-18.2 .4h.8m-9.2 5.5h.8m20.7-6.7h.8m7.7-8h.8m-25.6 3.8h.8m-4.7 9.9h.8m11.3-5h.8m13.7 2.9h.8m2.3-7h.8m-17.5 0h.8m-10.3 4.8h.8m12.8-4h.8m8.9-1.6h.8m-11.1 .2h.8m13.6-1.3h.8m-21.6 1.3h.8m18.2-.9h.8m9.6-1h.8m-38.5-.4h.8m6.7 10.4h.8m16.4-8h.8m26.6-14.1h.8m-30.1 14.3h.8m-7 2.5h.8m14.6-6.6h.8m-16.7 7.9h.8m-17.2 9h.8m9.9 2.3h.8m22.9-16.3h.8m-34 17.9h.8m-1.6-8.2h.8m23.9-12.9h.8m-4.4 10.6h.8m5.8-15.3h.8m-20.7 22.4h.8m-2.8-11.9h.8m11.6 12.3h.8m-12.6 1.6h.8m5.9-13.6h.8m.1 0h.8m6.8-12.9h.8m-6.5 14.1h.8m-1.3 7.2h.8m7.6-7.9h.8m3.8-7.4h.8m3.9 10.2h.8m-12.6-1.7h.8m-8.3 3.4h.8m-3.5-2.5h.8m-7.8 8.8h.8m18.9 .3h.8m-6.8-8.6h.8m12.4-19.1h.8m-11.9 16.6h.8m8.9 4h.8m3.6-6.4h.8m-39.4 11.9h.8m14.6-3.7h.8m-.7-10.2h.8m8.1 6.8h.8m-18 1.2h.8m21.7-10.6h.8m-.4-.4h.8m-5.5 1.8h.8m6.8 9.1h.8m-20.7 9.8h.8m19.4-20.9h.8m-19 12.1h.8m6.3-6h.8m2.1-2.5h.8m-13.8 5h.8m-3.5 7.1h.8m9.7-6.7h.8m-27.8 12.6h.8m36.9-23.6h.8m3.3 8h.8m-17.7-.2h.8m13.3-6.4h.8m-16.9 2.5h.8m-10 8.3h.8m19.8-8.2h.8m-1.5 .6h.8m-19.4 4.6h.8m-4 6.7h.8m5-.5h.8m16.8-23.5h.8m-9.3 22.4h.8m31.1-22.4h.8m-41.1 16.4h.8m15.5-3.1h.8m-2.2 4.7h.8m-7.8 1.4h.8m10.8-6.2h.8m-19.3 10.1h.8m9.4-2.1h.8m-17.7-1.8h.8m-10 9.4h.8m26.1-9.5h.8m-14.9 5.8h.8m-5.1-3.6h.8m21.6-8.1h.8m-9.9 2.7h.8m6.9-.3h.8m9.9-15.2h.8m-17.6 9.5h.8m2.6-.9h.8m-15.7 15.5h.8m27.5-1.2h.8m-4.2-6.4h.8m-21 12.5h.8m15-15.5h.8m-.8 8.8h.8m-9.5-2.1h.8m1.8-3h.8m27.1-9.8h.8m-39.7 8.8h.8m.4-6h.8m6.3 1.6h.8m2.2 12.7h.8m-20 7.8h.8m24.6-18h.8m1.1-3.4h.8m8.2-4.7h.8m-24.5 16.3h.8m-11.3-1.1h.8m23.9-4.7h.8m-23.3 2.8h.8m15.9 3.6h.8m-9.2-4.7h.8m4.4-6h.8m-6.3 6.5h.8m10.2-9.6h.8m-16.6 13.1h.8m31.3-27.1h.8m-15.2 15.3h.8m-14.8 10.9h.8m-3.8 3.4h.8m5.9-8h.8m-.1 8.5h.8m-11.6-10.2h.8m27-7.2h.8m-6.1 1.5h.8m-22.1 14.4h.8m16.6-11h.8m-2.9 10.3h.8m4.2-10.5h.8m-18.6 4.8h.8m37.7-2.5h.8m-29 2.1h.8m19.7-12.5h.8m-25.3 19.4h.8m15.6-17.3h.8m-15.8 10.4h.8m21.1-6.2h.8m-25.8 2.5h.8m-8.7 8.5h.8m2.4 6h.8m6 1h.8m8.3-15.5h.8m-3.3 1.2h.8m-.8 6.7h.8m3.4-16.7h.8m7.4-.1h.8m-29.9 15.6h.8m18.2-17.6h.8m11.5-11.5h.8m-27 28.4h.8m2.9 5.2h.8m9.2-6.9h.8m-1.3 3.6h.8m-18.6-12.3h.8m10.4 8.1h.8m21.1-3.8h.8m-13.6-5.2h.8m-20.7 8.6h.8m-6.7 12.5h.8m5-5.1h.8m14.7-5.1h.8m-12.8 3.1h.8m1.5 5.6h.8m15-11.8h.8m-12.8 4.2h.8m-3.4-2.1h.8m8.3 1h.8" stroke="#3a3aa8" stroke-width=".8" stroke-opacity="0.42" fill="none"/>
<rect x="188.00" y="473.00" width="91.30" height="71.80" fill="none" stroke="#2a2a2a" stroke-width="0.9"/>
<line x1="235.70" y1="473.00" x2="235.70" y2="544.80" stroke="#444" stroke-width="0.75"/>
<line x1="188.00" y1="516.40" x2="279.30" y2="516.40" stroke="#444" stroke-width="0.75"/>
<text transform="translate(189.50 479.20) scale(0.5)" font-size="7.20" fill="#222" textLength="23.00" lengthAdjust="spacingAndGlyphs">Necrotic</text>
<text transform="translate(277.80 479.20) scale(0.5)" font-size="7.20" fill="#222" text-anchor="end" textLength="42.00" lengthAdjust="spacingAndGlyphs">Late Apoptotic</text>
<text transform="translate(189.50 522.20) scale(0.5)" font-size="7.20" fill="#222" textLength="20.00" lengthAdjust="spacingAndGlyphs">Healthy</text>
<text transform="translate(277.80 522.20) scale(0.5)" font-size="7.20" fill="#222" text-anchor="end" textLength="46.00" lengthAdjust="spacingAndGlyphs">Early Apoptotic</text>
<path d="M192.29 544.80v1.6M195.09 544.80v1.6M197.26 544.80v1.6M199.03 544.80v1.6M200.53 544.80v1.6M201.83 544.80v1.6M202.98 544.80v1.6M204.00 544.80v2.6M210.74 544.80v1.6M214.69 544.80v1.6M217.49 544.80v1.6M219.66 544.80v1.6M221.43 544.80v1.6M222.93 544.80v1.6M224.23 544.80v1.6M225.38 544.80v1.6M226.40 544.80v2.6M233.14 544.80v1.6M237.09 544.80v1.6M239.89 544.80v1.6M242.06 544.80v1.6M243.83 544.80v1.6M245.33 544.80v1.6M246.63 544.80v1.6M247.78 544.80v1.6M248.80 544.80v2.6M255.54 544.80v1.6M259.49 544.80v1.6M262.29 544.80v1.6M264.46 544.80v1.6M266.23 544.80v1.6M267.73 544.80v1.6M269.03 544.80v1.6M270.18 544.80v1.6M271.20 544.80v2.6M277.94 544.80v1.6" stroke="#333" stroke-width="0.6" fill="none"/>
<path d="M188.00 544.01h-1.2M188.00 541.76h-1.2M188.00 540.02h-1.2M188.00 538.59h-1.2M188.00 537.39h-1.2M188.00 536.34h-1.2M188.00 535.42h-1.2M188.00 534.60h-2.2M188.00 529.18h-1.2M188.00 526.01h-1.2M188.00 523.76h-1.2M188.00 522.02h-1.2M188.00 520.59h-1.2M188.00 519.39h-1.2M188.00 518.34h-1.2M188.00 517.42h-1.2M188.00 516.60h-2.2M188.00 511.18h-1.2M188.00 508.01h-1.2M188.00 505.76h-1.2M188.00 504.02h-1.2M188.00 502.59h-1.2M188.00 501.39h-1.2M188.00 500.34h-1.2M188.00 499.42h-1.2M188.00 498.60h-2.2M188.00 493.18h-1.2M188.00 490.01h-1.2M188.00 487.76h-1.2M188.00 486.02h-1.2M188.00 484.59h-1.2M188.00 483.39h-1.2M188.00 482.34h-1.2M188.00 481.42h-1.2M188.00 480.60h-2.2M188.00 475.18h-1.2" stroke="#333" stroke-width="0.6" fill="none"/>
<text x="178.60" y="537.00" font-size="6.8" fill="#3a3a3a" text-anchor="end" textLength="5.4" lengthAdjust="spacingAndGlyphs">10</text>
<text x="178.80" y="533.70" font-size="4.0" fill="#3a3a3a">2</text>
<text x="205.20" y="557.80" font-size="6.8" fill="#3a3a3a" text-anchor="end" textLength="5.4" lengthAdjust="spacingAndGlyphs">10</text>
<text x="205.40" y="554.70" font-size="4.0" fill="#3a3a3a">2</text>
<text x="178.60" y="519.00" font-size="6.8" fill="#3a3a3a" text-anchor="end" textLength="5.4" lengthAdjust="spacingAndGlyphs">10</text>
<text x="178.80" y="515.70" font-size="4.0" fill="#3a3a3a">3</text>
<text x="227.70" y="557.80" font-size="6.8" fill="#3a3a3a" text-anchor="end" textLength="5.4" lengthAdjust="spacingAndGlyphs">10</text>
<text x="227.90" y="554.70" font-size="4.0" fill="#3a3a3a">3</text>
<text x="178.60" y="501.00" font-size="6.8" fill="#3a3a3a" text-anchor="end" textLength="5.4" lengthAdjust="spacingAndGlyphs">10</text>
<text x="178.80" y="497.70" font-size="4.0" fill="#3a3a3a">4</text>
<text x="250.20" y="557.80" font-size="6.8" fill="#3a3a3a" text-anchor="end" textLength="5.4" lengthAdjust="spacingAndGlyphs">10</text>
<text x="250.40" y="554.70" font-size="4.0" fill="#3a3a3a">4</text>
<text x="178.60" y="483.00" font-size="6.8" fill="#3a3a3a" text-anchor="end" textLength="5.4" lengthAdjust="spacingAndGlyphs">10</text>
<text x="178.80" y="479.70" font-size="4.0" fill="#3a3a3a">5</text>
<text x="272.70" y="557.80" font-size="6.8" fill="#3a3a3a" text-anchor="end" textLength="5.4" lengthAdjust="spacingAndGlyphs">10</text>
<text x="272.90" y="554.70" font-size="4.0" fill="#3a3a3a">5</text>
<text x="236.10" y="568.00" font-size="8.0" fill="#3a3a3a" text-anchor="middle" textLength="18.2" lengthAdjust="spacingAndGlyphs">FITC-H</text>
<text x="50.80" y="438.90" font-size="8.4" fill="#3a3a3a" text-anchor="middle" textLength="42.3" lengthAdjust="spacingAndGlyphs" transform="rotate(-90 50.80 438.90)">PE-texas red-H</text>
<text x="309.20" y="328.40" font-size="8.6" fill="#222" font-weight="bold">ii</text>
<text x="389.00" y="339.00" font-size="8.9" fill="#222" text-anchor="middle" textLength="24.2" lengthAdjust="spacingAndGlyphs">MM1S</text>
<rect x="337.40" y="407.40" width="17.60" height="11.60" fill="#1f4e96"/>
<line x1="346.20" y1="405.66" x2="346.20" y2="407.40" stroke="#333" stroke-width="0.9"/>
<line x1="345.20" y1="405.66" x2="347.20" y2="405.66" stroke="#333" stroke-width="0.8"/>
<rect x="365.30" y="399.71" width="17.40" height="19.29" fill="#c8102e"/>
<line x1="374.00" y1="395.94" x2="374.00" y2="399.71" stroke="#333" stroke-width="0.9"/>
<line x1="373.00" y1="395.94" x2="375.00" y2="395.94" stroke="#333" stroke-width="0.8"/>
<text x="374.00" y="394.90" font-size="6.0" fill="#222" text-anchor="middle">*</text>
<rect x="392.40" y="384.20" width="17.50" height="34.80" fill="#f7941d"/>
<line x1="401.15" y1="379.27" x2="401.15" y2="384.20" stroke="#333" stroke-width="0.9"/>
<line x1="400.15" y1="379.27" x2="402.15" y2="379.27" stroke="#333" stroke-width="0.8"/>
<text x="401.15" y="378.00" font-size="6.0" fill="#222" text-anchor="middle">*</text>
<rect x="420.20" y="361.00" width="17.40" height="58.00" fill="#3aaa35"/>
<line x1="428.90" y1="354.76" x2="428.90" y2="361.00" stroke="#333" stroke-width="0.9"/>
<line x1="427.90" y1="354.76" x2="429.90" y2="354.76" stroke="#333" stroke-width="0.8"/>
<text x="428.90" y="354.40" font-size="6.0" fill="#222" text-anchor="middle">*</text>
<line x1="332.20" y1="344.60" x2="332.20" y2="419.00" stroke="#1a1a1a" stroke-width="1.1"/>
<line x1="329.40" y1="419.00" x2="332.20" y2="419.00" stroke="#1a1a1a" stroke-width="0.9"/>
<text x="327.40" y="421.52" font-size="7.0" fill="#2e2e2e" text-anchor="end" textLength="3.5" lengthAdjust="spacingAndGlyphs">0</text>
<line x1="329.40" y1="404.50" x2="332.20" y2="404.50" stroke="#1a1a1a" stroke-width="0.9"/>
<text x="327.40" y="407.02" font-size="7.0" fill="#2e2e2e" text-anchor="end" textLength="7.01" lengthAdjust="spacingAndGlyphs">10</text>
<line x1="329.40" y1="390.00" x2="332.20" y2="390.00" stroke="#1a1a1a" stroke-width="0.9"/>
<text x="327.40" y="392.52" font-size="7.0" fill="#2e2e2e" text-anchor="end" textLength="7.01" lengthAdjust="spacingAndGlyphs">20</text>
<line x1="329.40" y1="375.50" x2="332.20" y2="375.50" stroke="#1a1a1a" stroke-width="0.9"/>
<text x="327.40" y="378.02" font-size="7.0" fill="#2e2e2e" text-anchor="end" textLength="7.01" lengthAdjust="spacingAndGlyphs">30</text>
<line x1="329.40" y1="361.00" x2="332.20" y2="361.00" stroke="#1a1a1a" stroke-width="0.9"/>
<text x="327.40" y="363.52" font-size="7.0" fill="#2e2e2e" text-anchor="end" textLength="7.01" lengthAdjust="spacingAndGlyphs">40</text>
<line x1="329.40" y1="346.50" x2="332.20" y2="346.50" stroke="#1a1a1a" stroke-width="0.9"/>
<text x="327.40" y="349.02" font-size="7.0" fill="#2e2e2e" text-anchor="end" textLength="7.01" lengthAdjust="spacingAndGlyphs">50</text>
<line x1="332.20" y1="419.00" x2="444.60" y2="419.00" stroke="#1a1a1a" stroke-width="1.1"/>
<line x1="360.20" y1="419.00" x2="360.20" y2="421.20" stroke="#1a1a1a" stroke-width="0.9"/>
<line x1="387.70" y1="419.00" x2="387.70" y2="421.20" stroke="#1a1a1a" stroke-width="0.9"/>
<line x1="415.00" y1="419.00" x2="415.00" y2="421.20" stroke="#1a1a1a" stroke-width="0.9"/>
<line x1="443.20" y1="419.00" x2="443.20" y2="421.20" stroke="#1a1a1a" stroke-width="0.9"/>
<text x="346.20" y="430.00" font-size="7.2" fill="#3a3a3a" text-anchor="middle" textLength="4.94" lengthAdjust="spacingAndGlyphs">D</text>
<text x="373.50" y="430.00" font-size="7.2" fill="#3a3a3a" text-anchor="middle" textLength="4.94" lengthAdjust="spacingAndGlyphs">N</text>
<text x="401.00" y="430.00" font-size="7.2" fill="#3a3a3a" text-anchor="middle" textLength="5.7" lengthAdjust="spacingAndGlyphs">M</text>
<text x="429.40" y="430.00" font-size="7.2" fill="#3a3a3a" text-anchor="middle" textLength="14.63" lengthAdjust="spacingAndGlyphs">M+N</text>
<text x="314.20" y="380.60" font-size="9.2" fill="#3a3a3a" text-anchor="middle" textLength="60.0" lengthAdjust="spacingAndGlyphs" transform="rotate(-90 314.20 380.60)">Relative apoptosis %</text>
<text x="388.90" y="466.80" font-size="8.2" fill="#222" text-anchor="middle" textLength="91.7" lengthAdjust="spacingAndGlyphs">Primary MM cell viability</text>
<text x="389.20" y="476.60" font-size="8.2" fill="#222" text-anchor="middle" textLength="86.0" lengthAdjust="spacingAndGlyphs">(Average of 3 Patients)</text>
<rect x="337.30" y="498.00" width="17.60" height="67.00" fill="#1f4e96"/>
<line x1="346.10" y1="497.73" x2="346.10" y2="498.00" stroke="#333" stroke-width="0.9"/>
<line x1="345.10" y1="497.73" x2="347.10" y2="497.73" stroke="#333" stroke-width="0.8"/>
<rect x="364.50" y="528.15" width="18.00" height="36.85" fill="#c8102e"/>
<line x1="373.50" y1="520.11" x2="373.50" y2="528.15" stroke="#333" stroke-width="0.9"/>
<line x1="372.50" y1="520.11" x2="374.50" y2="520.11" stroke="#333" stroke-width="0.8"/>
<text x="373.50" y="519.60" font-size="6.0" fill="#222" text-anchor="middle">*</text>
<rect x="392.80" y="514.75" width="17.20" height="50.25" fill="#f7941d"/>
<line x1="401.40" y1="511.74" x2="401.40" y2="514.75" stroke="#333" stroke-width="0.9"/>
<line x1="400.40" y1="511.74" x2="402.40" y2="511.74" stroke="#333" stroke-width="0.8"/>
<text x="401.40" y="510.30" font-size="6.0" fill="#222" text-anchor="middle">*</text>
<rect x="420.60" y="544.23" width="17.30" height="20.77" fill="#3aaa35"/>
<line x1="429.25" y1="534.85" x2="429.25" y2="544.23" stroke="#333" stroke-width="0.9"/>
<line x1="428.25" y1="534.85" x2="430.25" y2="534.85" stroke="#333" stroke-width="0.8"/>
<text x="429.25" y="534.20" font-size="6.0" fill="#222" text-anchor="middle">*</text>
<line x1="332.40" y1="482.40" x2="332.40" y2="565.00" stroke="#1a1a1a" stroke-width="1.1"/>
<line x1="329.60" y1="565.00" x2="332.40" y2="565.00" stroke="#1a1a1a" stroke-width="0.9"/>
<text x="327.00" y="567.52" font-size="7.0" fill="#2e2e2e" text-anchor="end" textLength="3.5" lengthAdjust="spacingAndGlyphs">0</text>
<line x1="329.60" y1="551.60" x2="332.40" y2="551.60" stroke="#1a1a1a" stroke-width="0.9"/>
<text x="327.00" y="554.12" font-size="7.0" fill="#2e2e2e" text-anchor="end" textLength="8.76" lengthAdjust="spacingAndGlyphs">0.2</text>
<line x1="329.60" y1="538.20" x2="332.40" y2="538.20" stroke="#1a1a1a" stroke-width="0.9"/>
<text x="327.00" y="540.72" font-size="7.0" fill="#2e2e2e" text-anchor="end" textLength="8.76" lengthAdjust="spacingAndGlyphs">0.4</text>
<line x1="329.60" y1="524.80" x2="332.40" y2="524.80" stroke="#1a1a1a" stroke-width="0.9"/>
<text x="327.00" y="527.32" font-size="7.0" fill="#2e2e2e" text-anchor="end" textLength="8.76" lengthAdjust="spacingAndGlyphs">0.6</text>
<line x1="329.60" y1="511.40" x2="332.40" y2="511.40" stroke="#1a1a1a" stroke-width="0.9"/>
<text x="327.00" y="513.92" font-size="7.0" fill="#2e2e2e" text-anchor="end" textLength="8.76" lengthAdjust="spacingAndGlyphs">0.8</text>
<line x1="329.60" y1="498.00" x2="332.40" y2="498.00" stroke="#1a1a1a" stroke-width="0.9"/>
<text x="327.00" y="500.52" font-size="7.0" fill="#2e2e2e" text-anchor="end" textLength="3.5" lengthAdjust="spacingAndGlyphs">1</text>
<line x1="329.60" y1="484.60" x2="332.40" y2="484.60" stroke="#1a1a1a" stroke-width="0.9"/>
<text x="327.00" y="487.12" font-size="7.0" fill="#2e2e2e" text-anchor="end" textLength="8.76" lengthAdjust="spacingAndGlyphs">1.2</text>
<line x1="332.40" y1="565.00" x2="445.30" y2="565.00" stroke="#1a1a1a" stroke-width="1.1"/>
<line x1="360.00" y1="565.00" x2="360.00" y2="567.20" stroke="#1a1a1a" stroke-width="0.9"/>
<line x1="387.40" y1="565.00" x2="387.40" y2="567.20" stroke="#1a1a1a" stroke-width="0.9"/>
<line x1="415.20" y1="565.00" x2="415.20" y2="567.20" stroke="#1a1a1a" stroke-width="0.9"/>
<line x1="443.50" y1="565.00" x2="443.50" y2="567.20" stroke="#1a1a1a" stroke-width="0.9"/>
<text x="346.20" y="576.20" font-size="7.2" fill="#3a3a3a" text-anchor="middle" textLength="4.94" lengthAdjust="spacingAndGlyphs">D</text>
<text x="373.80" y="576.20" font-size="7.2" fill="#3a3a3a" text-anchor="middle" textLength="4.94" lengthAdjust="spacingAndGlyphs">N</text>
<text x="401.70" y="576.20" font-size="7.2" fill="#3a3a3a" text-anchor="middle" textLength="5.7" lengthAdjust="spacingAndGlyphs">M</text>
<text x="429.30" y="576.20" font-size="7.2" fill="#3a3a3a" text-anchor="middle" textLength="14.63" lengthAdjust="spacingAndGlyphs">M+N</text>
<text x="314.40" y="523.20" font-size="9.2" fill="#3a3a3a" text-anchor="middle" textLength="45.8" lengthAdjust="spacingAndGlyphs" transform="rotate(-90 314.40 523.20)">Relative viability</text>
<line x1="0" y1="0.5" x2="520" y2="0.5" stroke="#6a6a6a" stroke-width="1"/><line x1="0.5" y1="0" x2="0.5" y2="584" stroke="#646464" stroke-width="1"/><line x1="519.5" y1="0" x2="519.5" y2="584" stroke="#5a5a5a" stroke-width="1"/><line x1="0" y1="583.5" x2="520" y2="583.5" stroke="#444" stroke-width="1"/>
</svg></div></body></html>
